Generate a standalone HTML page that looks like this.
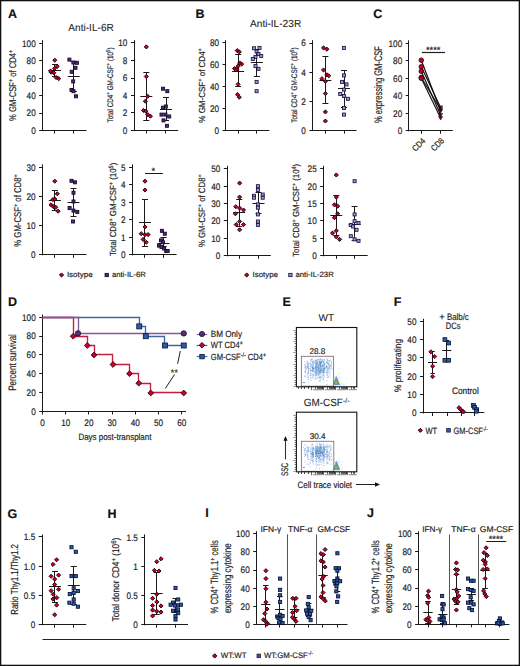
<!DOCTYPE html><html><head><meta charset="utf-8"><style>html,body{margin:0;padding:0;background:#fff;}svg{display:block;}</style></head><body><svg width="520" height="666" viewBox="0 0 520 666" text-rendering="geometricPrecision" font-family='"Liberation Sans", sans-serif'>
<style>text{stroke:#222;stroke-width:0.18px;paint-order:stroke;stroke-linejoin:round}</style>
<rect x="0" y="0" width="520" height="666" fill="#fff"/>
<rect x="0.65" y="0.65" width="518.7" height="664.7" fill="none" stroke="#111" stroke-width="1.3"/>
<text x="8.00" y="17.60" font-size="12.5" text-anchor="start" font-weight="bold" fill="#111">A</text>
<text x="195.50" y="17.60" font-size="12.5" text-anchor="start" font-weight="bold" fill="#111">B</text>
<text x="373.30" y="17.60" font-size="12.5" text-anchor="start" font-weight="bold" fill="#111">C</text>
<text x="8.00" y="306.00" font-size="12.5" text-anchor="start" font-weight="bold" fill="#111">D</text>
<text x="282.50" y="306.30" font-size="12.5" text-anchor="start" font-weight="bold" fill="#111">E</text>
<text x="393.70" y="306.30" font-size="12.5" text-anchor="start" font-weight="bold" fill="#111">F</text>
<text x="7.50" y="517.50" font-size="12.5" text-anchor="start" font-weight="bold" fill="#111">G</text>
<text x="107.50" y="517.50" font-size="12.5" text-anchor="start" font-weight="bold" fill="#111">H</text>
<text x="205.30" y="517.30" font-size="12.5" text-anchor="start" font-weight="bold" fill="#111">I</text>
<text x="367.00" y="517.30" font-size="12.5" text-anchor="start" font-weight="bold" fill="#111">J</text>
<text x="68.30" y="31.20" font-size="10.2" text-anchor="start" font-weight="normal" fill="#222" textLength="45.50" lengthAdjust="spacingAndGlyphs" style="stroke-width:0.08px">Anti-IL-6R</text>
<line x1="42.50" y1="40.20" x2="42.50" y2="131.00" stroke="#1a1a1a" stroke-width="1"/>
<line x1="42.00" y1="130.50" x2="86.50" y2="130.50" stroke="#1a1a1a" stroke-width="1"/>
<line x1="39.20" y1="130.50" x2="42.50" y2="130.50" stroke="#1a1a1a" stroke-width="1"/>
<text x="35.70" y="133.90" font-size="9.5" text-anchor="end" font-weight="normal" fill="#222" textLength="4.56" lengthAdjust="spacingAndGlyphs">0</text>
<line x1="39.20" y1="113.50" x2="42.50" y2="113.50" stroke="#1a1a1a" stroke-width="1"/>
<text x="35.70" y="116.44" font-size="9.5" text-anchor="end" font-weight="normal" fill="#222" textLength="9.12" lengthAdjust="spacingAndGlyphs">20</text>
<line x1="39.20" y1="95.50" x2="42.50" y2="95.50" stroke="#1a1a1a" stroke-width="1"/>
<text x="35.70" y="98.98" font-size="9.5" text-anchor="end" font-weight="normal" fill="#222" textLength="9.12" lengthAdjust="spacingAndGlyphs">40</text>
<line x1="39.20" y1="78.50" x2="42.50" y2="78.50" stroke="#1a1a1a" stroke-width="1"/>
<text x="35.70" y="81.52" font-size="9.5" text-anchor="end" font-weight="normal" fill="#222" textLength="9.12" lengthAdjust="spacingAndGlyphs">60</text>
<line x1="39.20" y1="60.50" x2="42.50" y2="60.50" stroke="#1a1a1a" stroke-width="1"/>
<text x="35.70" y="64.06" font-size="9.5" text-anchor="end" font-weight="normal" fill="#222" textLength="9.12" lengthAdjust="spacingAndGlyphs">80</text>
<line x1="39.20" y1="43.50" x2="42.50" y2="43.50" stroke="#1a1a1a" stroke-width="1"/>
<text x="35.70" y="46.60" font-size="9.5" text-anchor="end" font-weight="normal" fill="#222" textLength="13.68" lengthAdjust="spacingAndGlyphs">100</text>
<line x1="54.50" y1="130.50" x2="54.50" y2="133.50" stroke="#1a1a1a" stroke-width="1"/>
<line x1="73.50" y1="130.50" x2="73.50" y2="133.50" stroke="#1a1a1a" stroke-width="1"/>
<text transform="translate(15.60,85.40) rotate(-90)" x="0" y="0" font-size="9.8" text-anchor="middle" fill="#222" textLength="71.00" lengthAdjust="spacingAndGlyphs">% GM-CSF<tspan baseline-shift="42%" font-size="70%">+</tspan> of CD4<tspan baseline-shift="42%" font-size="70%">+</tspan></text>
<line x1="54.50" y1="64.90" x2="54.50" y2="76.80" stroke="#1a1a1a" stroke-width="1"/>
<line x1="52.00" y1="64.50" x2="58.00" y2="64.50" stroke="#1a1a1a" stroke-width="1"/>
<line x1="52.00" y1="76.50" x2="58.00" y2="76.50" stroke="#1a1a1a" stroke-width="1"/>
<line x1="49.00" y1="70.50" x2="61.00" y2="70.50" stroke="#1a1a1a" stroke-width="1"/>
<path d="M54.80 58.15L56.85 60.20L54.80 62.25L52.75 60.20Z" fill="#c8002e" stroke="#1a0006" stroke-width="0.95"/>
<path d="M57.20 64.35L59.25 66.40L57.20 68.45L55.15 66.40Z" fill="#c8002e" stroke="#1a0006" stroke-width="0.95"/>
<path d="M54.60 66.35L56.65 68.40L54.60 70.45L52.55 68.40Z" fill="#c8002e" stroke="#1a0006" stroke-width="0.95"/>
<path d="M51.20 70.15L53.25 72.20L51.20 74.25L49.15 72.20Z" fill="#c8002e" stroke="#1a0006" stroke-width="0.95"/>
<path d="M53.80 70.75L55.85 72.80L53.80 74.85L51.75 72.80Z" fill="#c8002e" stroke="#1a0006" stroke-width="0.95"/>
<path d="M56.10 75.45L58.15 77.50L56.10 79.55L54.05 77.50Z" fill="#c8002e" stroke="#1a0006" stroke-width="0.95"/>
<path d="M58.70 76.55L60.75 78.60L58.70 80.65L56.65 78.60Z" fill="#c8002e" stroke="#1a0006" stroke-width="0.95"/>
<path d="M50.50 68.95L52.55 71.00L50.50 73.05L48.45 71.00Z" fill="#c8002e" stroke="#1a0006" stroke-width="0.95"/>
<line x1="73.50" y1="61.50" x2="73.50" y2="91.20" stroke="#1a1a1a" stroke-width="1"/>
<line x1="70.75" y1="61.50" x2="76.75" y2="61.50" stroke="#1a1a1a" stroke-width="1"/>
<line x1="70.75" y1="91.50" x2="76.75" y2="91.50" stroke="#1a1a1a" stroke-width="1"/>
<line x1="67.75" y1="76.50" x2="79.75" y2="76.50" stroke="#1a1a1a" stroke-width="1"/>
<rect x="67.88" y="58.08" width="3.05" height="3.05" fill="#4e2a7e" stroke="#150822" stroke-width="0.85"/>
<rect x="71.88" y="60.98" width="3.05" height="3.05" fill="#4e2a7e" stroke="#150822" stroke-width="0.85"/>
<rect x="75.38" y="61.27" width="3.05" height="3.05" fill="#4e2a7e" stroke="#150822" stroke-width="0.85"/>
<rect x="73.97" y="66.27" width="3.05" height="3.05" fill="#4e2a7e" stroke="#150822" stroke-width="0.85"/>
<rect x="70.17" y="70.27" width="3.05" height="3.05" fill="#4e2a7e" stroke="#150822" stroke-width="0.85"/>
<rect x="71.67" y="79.88" width="3.05" height="3.05" fill="#4e2a7e" stroke="#150822" stroke-width="0.85"/>
<rect x="69.97" y="88.47" width="3.05" height="3.05" fill="#4e2a7e" stroke="#150822" stroke-width="0.85"/>
<rect x="71.97" y="89.67" width="3.05" height="3.05" fill="#4e2a7e" stroke="#150822" stroke-width="0.85"/>
<rect x="74.47" y="94.77" width="3.05" height="3.05" fill="#4e2a7e" stroke="#150822" stroke-width="0.85"/>
<line x1="134.50" y1="40.20" x2="134.50" y2="131.00" stroke="#1a1a1a" stroke-width="1"/>
<line x1="133.70" y1="130.50" x2="178.20" y2="130.50" stroke="#1a1a1a" stroke-width="1"/>
<line x1="130.90" y1="130.50" x2="134.20" y2="130.50" stroke="#1a1a1a" stroke-width="1"/>
<text x="127.40" y="133.90" font-size="9.5" text-anchor="end" font-weight="normal" fill="#222" textLength="4.56" lengthAdjust="spacingAndGlyphs">0</text>
<line x1="130.90" y1="112.50" x2="134.20" y2="112.50" stroke="#1a1a1a" stroke-width="1"/>
<text x="127.40" y="116.40" font-size="9.5" text-anchor="end" font-weight="normal" fill="#222" textLength="4.56" lengthAdjust="spacingAndGlyphs">2</text>
<line x1="130.90" y1="95.50" x2="134.20" y2="95.50" stroke="#1a1a1a" stroke-width="1"/>
<text x="127.40" y="98.90" font-size="9.5" text-anchor="end" font-weight="normal" fill="#222" textLength="4.56" lengthAdjust="spacingAndGlyphs">4</text>
<line x1="130.90" y1="78.50" x2="134.20" y2="78.50" stroke="#1a1a1a" stroke-width="1"/>
<text x="127.40" y="81.40" font-size="9.5" text-anchor="end" font-weight="normal" fill="#222" textLength="4.56" lengthAdjust="spacingAndGlyphs">6</text>
<line x1="130.90" y1="60.50" x2="134.20" y2="60.50" stroke="#1a1a1a" stroke-width="1"/>
<text x="127.40" y="63.90" font-size="9.5" text-anchor="end" font-weight="normal" fill="#222" textLength="4.56" lengthAdjust="spacingAndGlyphs">8</text>
<line x1="130.90" y1="42.50" x2="134.20" y2="42.50" stroke="#1a1a1a" stroke-width="1"/>
<text x="127.40" y="46.40" font-size="9.5" text-anchor="end" font-weight="normal" fill="#222" textLength="9.12" lengthAdjust="spacingAndGlyphs">10</text>
<line x1="146.50" y1="130.50" x2="146.50" y2="133.50" stroke="#1a1a1a" stroke-width="1"/>
<line x1="165.50" y1="130.50" x2="165.50" y2="133.50" stroke="#1a1a1a" stroke-width="1"/>
<text transform="translate(113.00,84.90) rotate(-90)" x="0" y="0" font-size="8.1" text-anchor="middle" fill="#222" textLength="75.00" lengthAdjust="spacingAndGlyphs">Total CD4<tspan baseline-shift="42%" font-size="70%">+</tspan> GM-CSF<tspan baseline-shift="42%" font-size="70%">+</tspan> (10<tspan baseline-shift="42%" font-size="70%">5</tspan>)</text>
<line x1="146.50" y1="72.30" x2="146.50" y2="120.00" stroke="#1a1a1a" stroke-width="1"/>
<line x1="143.30" y1="72.50" x2="149.30" y2="72.50" stroke="#1a1a1a" stroke-width="1"/>
<line x1="143.30" y1="120.50" x2="149.30" y2="120.50" stroke="#1a1a1a" stroke-width="1"/>
<line x1="140.30" y1="96.50" x2="152.30" y2="96.50" stroke="#1a1a1a" stroke-width="1"/>
<path d="M146.30 44.85L148.35 46.90L146.30 48.95L144.25 46.90Z" fill="#c8002e" stroke="#1a0006" stroke-width="0.95"/>
<path d="M146.30 74.45L148.35 76.50L146.30 78.55L144.25 76.50Z" fill="#c8002e" stroke="#1a0006" stroke-width="0.95"/>
<path d="M147.70 94.25L149.75 96.30L147.70 98.35L145.65 96.30Z" fill="#c8002e" stroke="#1a0006" stroke-width="0.95"/>
<path d="M145.40 99.15L147.45 101.20L145.40 103.25L143.35 101.20Z" fill="#c8002e" stroke="#1a0006" stroke-width="0.95"/>
<path d="M143.50 108.35L145.55 110.40L143.50 112.45L141.45 110.40Z" fill="#c8002e" stroke="#1a0006" stroke-width="0.95"/>
<path d="M145.80 109.15L147.85 111.20L145.80 113.25L143.75 111.20Z" fill="#c8002e" stroke="#1a0006" stroke-width="0.95"/>
<path d="M147.70 112.55L149.75 114.60L147.70 116.65L145.65 114.60Z" fill="#c8002e" stroke="#1a0006" stroke-width="0.95"/>
<path d="M150.40 114.15L152.45 116.20L150.40 118.25L148.35 116.20Z" fill="#c8002e" stroke="#1a0006" stroke-width="0.95"/>
<line x1="166.50" y1="97.30" x2="166.50" y2="120.40" stroke="#1a1a1a" stroke-width="1"/>
<line x1="163.00" y1="97.50" x2="169.00" y2="97.50" stroke="#1a1a1a" stroke-width="1"/>
<line x1="163.00" y1="120.50" x2="169.00" y2="120.50" stroke="#1a1a1a" stroke-width="1"/>
<line x1="160.00" y1="109.50" x2="172.00" y2="109.50" stroke="#1a1a1a" stroke-width="1"/>
<rect x="161.57" y="87.17" width="3.05" height="3.05" fill="#4e2a7e" stroke="#150822" stroke-width="0.85"/>
<rect x="165.78" y="89.67" width="3.05" height="3.05" fill="#4e2a7e" stroke="#150822" stroke-width="0.85"/>
<rect x="164.28" y="104.97" width="3.05" height="3.05" fill="#4e2a7e" stroke="#150822" stroke-width="0.85"/>
<rect x="161.57" y="106.17" width="3.05" height="3.05" fill="#4e2a7e" stroke="#150822" stroke-width="0.85"/>
<rect x="159.97" y="113.07" width="3.05" height="3.05" fill="#4e2a7e" stroke="#150822" stroke-width="0.85"/>
<rect x="163.88" y="113.07" width="3.05" height="3.05" fill="#4e2a7e" stroke="#150822" stroke-width="0.85"/>
<rect x="167.67" y="114.97" width="3.05" height="3.05" fill="#4e2a7e" stroke="#150822" stroke-width="0.85"/>
<rect x="161.97" y="118.88" width="3.05" height="3.05" fill="#4e2a7e" stroke="#150822" stroke-width="0.85"/>
<rect x="165.38" y="124.27" width="3.05" height="3.05" fill="#4e2a7e" stroke="#150822" stroke-width="0.85"/>
<line x1="42.50" y1="164.40" x2="42.50" y2="255.30" stroke="#1a1a1a" stroke-width="1"/>
<line x1="41.80" y1="254.50" x2="86.50" y2="254.50" stroke="#1a1a1a" stroke-width="1"/>
<line x1="39.00" y1="254.50" x2="42.30" y2="254.50" stroke="#1a1a1a" stroke-width="1"/>
<text x="35.50" y="258.20" font-size="9.5" text-anchor="end" font-weight="normal" fill="#222" textLength="4.56" lengthAdjust="spacingAndGlyphs">0</text>
<line x1="39.00" y1="225.50" x2="42.30" y2="225.50" stroke="#1a1a1a" stroke-width="1"/>
<text x="35.50" y="229.17" font-size="9.5" text-anchor="end" font-weight="normal" fill="#222" textLength="9.12" lengthAdjust="spacingAndGlyphs">10</text>
<line x1="39.00" y1="196.50" x2="42.30" y2="196.50" stroke="#1a1a1a" stroke-width="1"/>
<text x="35.50" y="200.13" font-size="9.5" text-anchor="end" font-weight="normal" fill="#222" textLength="9.12" lengthAdjust="spacingAndGlyphs">20</text>
<line x1="39.00" y1="167.50" x2="42.30" y2="167.50" stroke="#1a1a1a" stroke-width="1"/>
<text x="35.50" y="171.10" font-size="9.5" text-anchor="end" font-weight="normal" fill="#222" textLength="9.12" lengthAdjust="spacingAndGlyphs">30</text>
<line x1="54.50" y1="254.80" x2="54.50" y2="257.80" stroke="#1a1a1a" stroke-width="1"/>
<line x1="73.50" y1="254.80" x2="73.50" y2="257.80" stroke="#1a1a1a" stroke-width="1"/>
<text transform="translate(20.50,210.50) rotate(-90)" x="0" y="0" font-size="9.8" text-anchor="middle" fill="#222" textLength="72.50" lengthAdjust="spacingAndGlyphs">% GM-CSF<tspan baseline-shift="42%" font-size="70%">+</tspan> of CD8<tspan baseline-shift="42%" font-size="70%">+</tspan></text>
<line x1="54.50" y1="190.80" x2="54.50" y2="210.00" stroke="#1a1a1a" stroke-width="1"/>
<line x1="51.80" y1="190.50" x2="57.80" y2="190.50" stroke="#1a1a1a" stroke-width="1"/>
<line x1="51.80" y1="210.50" x2="57.80" y2="210.50" stroke="#1a1a1a" stroke-width="1"/>
<line x1="48.80" y1="200.50" x2="60.80" y2="200.50" stroke="#1a1a1a" stroke-width="1"/>
<path d="M54.80 179.15L56.85 181.20L54.80 183.25L52.75 181.20Z" fill="#c8002e" stroke="#1a0006" stroke-width="0.95"/>
<path d="M57.30 191.75L59.35 193.80L57.30 195.85L55.25 193.80Z" fill="#c8002e" stroke="#1a0006" stroke-width="0.95"/>
<path d="M52.90 197.55L54.95 199.60L52.90 201.65L50.85 199.60Z" fill="#c8002e" stroke="#1a0006" stroke-width="0.95"/>
<path d="M54.80 196.95L56.85 199.00L54.80 201.05L52.75 199.00Z" fill="#c8002e" stroke="#1a0006" stroke-width="0.95"/>
<path d="M51.00 202.75L53.05 204.80L51.00 206.85L48.95 204.80Z" fill="#c8002e" stroke="#1a0006" stroke-width="0.95"/>
<path d="M53.50 204.65L55.55 206.70L53.50 208.75L51.45 206.70Z" fill="#c8002e" stroke="#1a0006" stroke-width="0.95"/>
<path d="M55.80 205.25L57.85 207.30L55.80 209.35L53.75 207.30Z" fill="#c8002e" stroke="#1a0006" stroke-width="0.95"/>
<path d="M58.10 209.15L60.15 211.20L58.10 213.25L56.05 211.20Z" fill="#c8002e" stroke="#1a0006" stroke-width="0.95"/>
<line x1="73.50" y1="188.00" x2="73.50" y2="216.30" stroke="#1a1a1a" stroke-width="1"/>
<line x1="70.50" y1="188.50" x2="76.50" y2="188.50" stroke="#1a1a1a" stroke-width="1"/>
<line x1="70.50" y1="216.50" x2="76.50" y2="216.50" stroke="#1a1a1a" stroke-width="1"/>
<line x1="67.50" y1="202.50" x2="79.50" y2="202.50" stroke="#1a1a1a" stroke-width="1"/>
<rect x="69.97" y="179.28" width="3.05" height="3.05" fill="#4e2a7e" stroke="#150822" stroke-width="0.85"/>
<rect x="73.47" y="180.78" width="3.05" height="3.05" fill="#4e2a7e" stroke="#150822" stroke-width="0.85"/>
<rect x="71.97" y="191.17" width="3.05" height="3.05" fill="#4e2a7e" stroke="#150822" stroke-width="0.85"/>
<rect x="71.97" y="199.97" width="3.05" height="3.05" fill="#4e2a7e" stroke="#150822" stroke-width="0.85"/>
<rect x="68.07" y="206.57" width="3.05" height="3.05" fill="#4e2a7e" stroke="#150822" stroke-width="0.85"/>
<rect x="71.97" y="209.07" width="3.05" height="3.05" fill="#4e2a7e" stroke="#150822" stroke-width="0.85"/>
<rect x="75.77" y="210.38" width="3.05" height="3.05" fill="#4e2a7e" stroke="#150822" stroke-width="0.85"/>
<rect x="71.57" y="219.97" width="3.05" height="3.05" fill="#4e2a7e" stroke="#150822" stroke-width="0.85"/>
<line x1="132.50" y1="164.40" x2="132.50" y2="255.30" stroke="#1a1a1a" stroke-width="1"/>
<line x1="131.90" y1="254.50" x2="176.60" y2="254.50" stroke="#1a1a1a" stroke-width="1"/>
<line x1="129.10" y1="254.50" x2="132.40" y2="254.50" stroke="#1a1a1a" stroke-width="1"/>
<text x="125.60" y="258.20" font-size="9.5" text-anchor="end" font-weight="normal" fill="#222" textLength="4.56" lengthAdjust="spacingAndGlyphs">0</text>
<line x1="129.10" y1="237.50" x2="132.40" y2="237.50" stroke="#1a1a1a" stroke-width="1"/>
<text x="125.60" y="240.70" font-size="9.5" text-anchor="end" font-weight="normal" fill="#222" textLength="4.56" lengthAdjust="spacingAndGlyphs">1</text>
<line x1="129.10" y1="219.50" x2="132.40" y2="219.50" stroke="#1a1a1a" stroke-width="1"/>
<text x="125.60" y="223.20" font-size="9.5" text-anchor="end" font-weight="normal" fill="#222" textLength="4.56" lengthAdjust="spacingAndGlyphs">2</text>
<line x1="129.10" y1="202.50" x2="132.40" y2="202.50" stroke="#1a1a1a" stroke-width="1"/>
<text x="125.60" y="205.70" font-size="9.5" text-anchor="end" font-weight="normal" fill="#222" textLength="4.56" lengthAdjust="spacingAndGlyphs">3</text>
<line x1="129.10" y1="184.50" x2="132.40" y2="184.50" stroke="#1a1a1a" stroke-width="1"/>
<text x="125.60" y="188.20" font-size="9.5" text-anchor="end" font-weight="normal" fill="#222" textLength="4.56" lengthAdjust="spacingAndGlyphs">4</text>
<line x1="129.10" y1="167.50" x2="132.40" y2="167.50" stroke="#1a1a1a" stroke-width="1"/>
<text x="125.60" y="170.70" font-size="9.5" text-anchor="end" font-weight="normal" fill="#222" textLength="4.56" lengthAdjust="spacingAndGlyphs">5</text>
<line x1="144.50" y1="254.80" x2="144.50" y2="257.80" stroke="#1a1a1a" stroke-width="1"/>
<line x1="163.50" y1="254.80" x2="163.50" y2="257.80" stroke="#1a1a1a" stroke-width="1"/>
<text transform="translate(115.70,209.40) rotate(-90)" x="0" y="0" font-size="8.8" text-anchor="middle" fill="#222" textLength="93.40" lengthAdjust="spacingAndGlyphs">Total CD8<tspan baseline-shift="42%" font-size="70%">+</tspan> GM-CSF<tspan baseline-shift="42%" font-size="70%">+</tspan> (10<tspan baseline-shift="42%" font-size="70%">5</tspan>)</text>
<line x1="145.00" y1="173.50" x2="162.90" y2="173.50" stroke="#1a1a1a" stroke-width="1"/>
<text x="153.30" y="174.10" font-size="9.2" text-anchor="middle" font-weight="normal" fill="#222">*</text>
<line x1="144.50" y1="199.60" x2="144.50" y2="246.00" stroke="#1a1a1a" stroke-width="1"/>
<line x1="142.00" y1="199.50" x2="148.00" y2="199.50" stroke="#1a1a1a" stroke-width="1"/>
<line x1="142.00" y1="246.50" x2="148.00" y2="246.50" stroke="#1a1a1a" stroke-width="1"/>
<line x1="139.00" y1="222.50" x2="151.00" y2="222.50" stroke="#1a1a1a" stroke-width="1"/>
<path d="M145.00 179.15L147.05 181.20L145.00 183.25L142.95 181.20Z" fill="#c8002e" stroke="#1a0006" stroke-width="0.95"/>
<path d="M145.00 187.95L147.05 190.00L145.00 192.05L142.95 190.00Z" fill="#c8002e" stroke="#1a0006" stroke-width="0.95"/>
<path d="M145.00 224.85L147.05 226.90L145.00 228.95L142.95 226.90Z" fill="#c8002e" stroke="#1a0006" stroke-width="0.95"/>
<path d="M141.20 231.65L143.25 233.70L141.20 235.75L139.15 233.70Z" fill="#c8002e" stroke="#1a0006" stroke-width="0.95"/>
<path d="M145.00 232.55L147.05 234.60L145.00 236.65L142.95 234.60Z" fill="#c8002e" stroke="#1a0006" stroke-width="0.95"/>
<path d="M148.10 232.55L150.15 234.60L148.10 236.65L146.05 234.60Z" fill="#c8002e" stroke="#1a0006" stroke-width="0.95"/>
<path d="M143.10 237.35L145.15 239.40L143.10 241.45L141.05 239.40Z" fill="#c8002e" stroke="#1a0006" stroke-width="0.95"/>
<path d="M146.20 240.25L148.25 242.30L146.20 244.35L144.15 242.30Z" fill="#c8002e" stroke="#1a0006" stroke-width="0.95"/>
<line x1="163.50" y1="237.50" x2="163.50" y2="247.00" stroke="#1a1a1a" stroke-width="1"/>
<line x1="160.50" y1="237.50" x2="166.50" y2="237.50" stroke="#1a1a1a" stroke-width="1"/>
<line x1="160.50" y1="246.50" x2="166.50" y2="246.50" stroke="#1a1a1a" stroke-width="1"/>
<line x1="157.50" y1="243.50" x2="169.50" y2="243.50" stroke="#1a1a1a" stroke-width="1"/>
<rect x="160.38" y="229.28" width="3.05" height="3.05" fill="#4e2a7e" stroke="#150822" stroke-width="0.85"/>
<rect x="163.28" y="232.17" width="3.05" height="3.05" fill="#4e2a7e" stroke="#150822" stroke-width="0.85"/>
<rect x="159.47" y="238.88" width="3.05" height="3.05" fill="#4e2a7e" stroke="#150822" stroke-width="0.85"/>
<rect x="161.38" y="240.78" width="3.05" height="3.05" fill="#4e2a7e" stroke="#150822" stroke-width="0.85"/>
<rect x="157.47" y="244.07" width="3.05" height="3.05" fill="#4e2a7e" stroke="#150822" stroke-width="0.85"/>
<rect x="159.97" y="245.57" width="3.05" height="3.05" fill="#4e2a7e" stroke="#150822" stroke-width="0.85"/>
<rect x="162.67" y="246.97" width="3.05" height="3.05" fill="#4e2a7e" stroke="#150822" stroke-width="0.85"/>
<rect x="164.67" y="249.47" width="3.05" height="3.05" fill="#4e2a7e" stroke="#150822" stroke-width="0.85"/>
<rect x="166.17" y="249.47" width="3.05" height="3.05" fill="#4e2a7e" stroke="#150822" stroke-width="0.85"/>
<path d="M61.50 272.90L63.60 275.00L61.50 277.10L59.40 275.00Z" fill="#c8002e" stroke="#1a0006" stroke-width="0.95"/>
<text x="66.90" y="277.20" font-size="7.6" text-anchor="start" font-weight="normal" fill="#222" textLength="25.80" lengthAdjust="spacingAndGlyphs">Isotype</text>
<rect x="105.05" y="273.35" width="3.30" height="3.30" fill="#4e2a7e" stroke="#150822" stroke-width="0.85"/>
<text x="111.90" y="277.20" font-size="7.6" text-anchor="start" font-weight="normal" fill="#222" textLength="33.90" lengthAdjust="spacingAndGlyphs">anti-IL-6R</text>
<text x="250.00" y="26.60" font-size="10.2" text-anchor="start" font-weight="normal" fill="#222" textLength="51.20" lengthAdjust="spacingAndGlyphs" style="stroke-width:0.08px">Anti-IL-23R</text>
<line x1="225.50" y1="40.20" x2="225.50" y2="131.10" stroke="#1a1a1a" stroke-width="1"/>
<line x1="225.30" y1="130.50" x2="269.40" y2="130.50" stroke="#1a1a1a" stroke-width="1"/>
<line x1="222.50" y1="130.50" x2="225.80" y2="130.50" stroke="#1a1a1a" stroke-width="1"/>
<text x="219.00" y="134.00" font-size="9.5" text-anchor="end" font-weight="normal" fill="#222" textLength="4.56" lengthAdjust="spacingAndGlyphs">0</text>
<line x1="222.50" y1="108.50" x2="225.80" y2="108.50" stroke="#1a1a1a" stroke-width="1"/>
<text x="219.00" y="112.10" font-size="9.5" text-anchor="end" font-weight="normal" fill="#222" textLength="9.12" lengthAdjust="spacingAndGlyphs">20</text>
<line x1="222.50" y1="86.50" x2="225.80" y2="86.50" stroke="#1a1a1a" stroke-width="1"/>
<text x="219.00" y="90.20" font-size="9.5" text-anchor="end" font-weight="normal" fill="#222" textLength="9.12" lengthAdjust="spacingAndGlyphs">40</text>
<line x1="222.50" y1="64.50" x2="225.80" y2="64.50" stroke="#1a1a1a" stroke-width="1"/>
<text x="219.00" y="68.30" font-size="9.5" text-anchor="end" font-weight="normal" fill="#222" textLength="9.12" lengthAdjust="spacingAndGlyphs">60</text>
<line x1="222.50" y1="42.50" x2="225.80" y2="42.50" stroke="#1a1a1a" stroke-width="1"/>
<text x="219.00" y="46.40" font-size="9.5" text-anchor="end" font-weight="normal" fill="#222" textLength="9.12" lengthAdjust="spacingAndGlyphs">80</text>
<line x1="238.50" y1="130.60" x2="238.50" y2="133.60" stroke="#1a1a1a" stroke-width="1"/>
<line x1="256.50" y1="130.60" x2="256.50" y2="133.60" stroke="#1a1a1a" stroke-width="1"/>
<text transform="translate(205.00,85.40) rotate(-90)" x="0" y="0" font-size="8.8" text-anchor="middle" fill="#222" textLength="74.60" lengthAdjust="spacingAndGlyphs">% GM-CSF<tspan baseline-shift="42%" font-size="70%">+</tspan> of CD4<tspan baseline-shift="42%" font-size="70%">+</tspan></text>
<line x1="238.50" y1="54.60" x2="238.50" y2="86.80" stroke="#1a1a1a" stroke-width="1"/>
<line x1="235.10" y1="54.50" x2="241.10" y2="54.50" stroke="#1a1a1a" stroke-width="1"/>
<line x1="235.10" y1="86.50" x2="241.10" y2="86.50" stroke="#1a1a1a" stroke-width="1"/>
<line x1="232.10" y1="71.50" x2="244.10" y2="71.50" stroke="#1a1a1a" stroke-width="1"/>
<path d="M237.20 48.55L239.25 50.60L237.20 52.65L235.15 50.60Z" fill="#c8002e" stroke="#1a0006" stroke-width="0.95"/>
<path d="M239.30 49.85L241.35 51.90L239.30 53.95L237.25 51.90Z" fill="#c8002e" stroke="#1a0006" stroke-width="0.95"/>
<path d="M239.70 60.95L241.75 63.00L239.70 65.05L237.65 63.00Z" fill="#c8002e" stroke="#1a0006" stroke-width="0.95"/>
<path d="M241.70 62.05L243.75 64.10L241.70 66.15L239.65 64.10Z" fill="#c8002e" stroke="#1a0006" stroke-width="0.95"/>
<path d="M238.10 64.05L240.15 66.10L238.10 68.15L236.05 66.10Z" fill="#c8002e" stroke="#1a0006" stroke-width="0.95"/>
<path d="M234.50 66.55L236.55 68.60L234.50 70.65L232.45 68.60Z" fill="#c8002e" stroke="#1a0006" stroke-width="0.95"/>
<path d="M236.60 67.25L238.65 69.30L236.60 71.35L234.55 69.30Z" fill="#c8002e" stroke="#1a0006" stroke-width="0.95"/>
<path d="M238.10 82.25L240.15 84.30L238.10 86.35L236.05 84.30Z" fill="#c8002e" stroke="#1a0006" stroke-width="0.95"/>
<path d="M237.50 92.45L239.55 94.50L237.50 96.55L235.45 94.50Z" fill="#c8002e" stroke="#1a0006" stroke-width="0.95"/>
<path d="M239.30 95.15L241.35 97.20L239.30 99.25L237.25 97.20Z" fill="#c8002e" stroke="#1a0006" stroke-width="0.95"/>
<line x1="256.50" y1="49.50" x2="256.50" y2="76.00" stroke="#1a1a1a" stroke-width="1"/>
<line x1="253.90" y1="49.50" x2="259.90" y2="49.50" stroke="#1a1a1a" stroke-width="1"/>
<line x1="253.90" y1="76.50" x2="259.90" y2="76.50" stroke="#1a1a1a" stroke-width="1"/>
<line x1="250.90" y1="62.50" x2="262.90" y2="62.50" stroke="#1a1a1a" stroke-width="1"/>
<rect x="252.57" y="46.77" width="3.05" height="3.05" fill="#9d95e0" stroke="#14143a" stroke-width="0.85"/>
<rect x="257.98" y="46.38" width="3.05" height="3.05" fill="#9d95e0" stroke="#14143a" stroke-width="0.85"/>
<rect x="255.08" y="49.98" width="3.05" height="3.05" fill="#9d95e0" stroke="#14143a" stroke-width="0.85"/>
<rect x="256.98" y="52.48" width="3.05" height="3.05" fill="#9d95e0" stroke="#14143a" stroke-width="0.85"/>
<rect x="259.68" y="54.48" width="3.05" height="3.05" fill="#9d95e0" stroke="#14143a" stroke-width="0.85"/>
<rect x="253.97" y="55.38" width="3.05" height="3.05" fill="#9d95e0" stroke="#14143a" stroke-width="0.85"/>
<rect x="251.28" y="57.38" width="3.05" height="3.05" fill="#9d95e0" stroke="#14143a" stroke-width="0.85"/>
<rect x="253.97" y="64.57" width="3.05" height="3.05" fill="#9d95e0" stroke="#14143a" stroke-width="0.85"/>
<rect x="256.98" y="67.27" width="3.05" height="3.05" fill="#9d95e0" stroke="#14143a" stroke-width="0.85"/>
<rect x="255.08" y="80.38" width="3.05" height="3.05" fill="#9d95e0" stroke="#14143a" stroke-width="0.85"/>
<rect x="255.08" y="89.67" width="3.05" height="3.05" fill="#9d95e0" stroke="#14143a" stroke-width="0.85"/>
<line x1="312.50" y1="40.20" x2="312.50" y2="131.10" stroke="#1a1a1a" stroke-width="1"/>
<line x1="312.20" y1="130.50" x2="356.50" y2="130.50" stroke="#1a1a1a" stroke-width="1"/>
<line x1="309.40" y1="130.50" x2="312.70" y2="130.50" stroke="#1a1a1a" stroke-width="1"/>
<text x="305.90" y="134.00" font-size="9.5" text-anchor="end" font-weight="normal" fill="#222" textLength="4.56" lengthAdjust="spacingAndGlyphs">0</text>
<line x1="309.40" y1="101.50" x2="312.70" y2="101.50" stroke="#1a1a1a" stroke-width="1"/>
<text x="305.90" y="104.80" font-size="9.5" text-anchor="end" font-weight="normal" fill="#222" textLength="4.56" lengthAdjust="spacingAndGlyphs">2</text>
<line x1="309.40" y1="72.50" x2="312.70" y2="72.50" stroke="#1a1a1a" stroke-width="1"/>
<text x="305.90" y="75.60" font-size="9.5" text-anchor="end" font-weight="normal" fill="#222" textLength="4.56" lengthAdjust="spacingAndGlyphs">4</text>
<line x1="309.40" y1="43.50" x2="312.70" y2="43.50" stroke="#1a1a1a" stroke-width="1"/>
<text x="305.90" y="46.40" font-size="9.5" text-anchor="end" font-weight="normal" fill="#222" textLength="4.56" lengthAdjust="spacingAndGlyphs">6</text>
<line x1="325.50" y1="130.60" x2="325.50" y2="133.60" stroke="#1a1a1a" stroke-width="1"/>
<line x1="344.50" y1="130.60" x2="344.50" y2="133.60" stroke="#1a1a1a" stroke-width="1"/>
<text transform="translate(296.80,85.00) rotate(-90)" x="0" y="0" font-size="8.1" text-anchor="middle" fill="#222" textLength="75.30" lengthAdjust="spacingAndGlyphs">Total CD4<tspan baseline-shift="42%" font-size="70%">+</tspan> GM-CSF<tspan baseline-shift="42%" font-size="70%">+</tspan> (10<tspan baseline-shift="42%" font-size="70%">5</tspan>)</text>
<line x1="325.50" y1="56.50" x2="325.50" y2="103.70" stroke="#1a1a1a" stroke-width="1"/>
<line x1="322.40" y1="56.50" x2="328.40" y2="56.50" stroke="#1a1a1a" stroke-width="1"/>
<line x1="322.40" y1="103.50" x2="328.40" y2="103.50" stroke="#1a1a1a" stroke-width="1"/>
<line x1="319.40" y1="80.50" x2="331.40" y2="80.50" stroke="#1a1a1a" stroke-width="1"/>
<path d="M323.50 45.85L325.55 47.90L323.50 49.95L321.45 47.90Z" fill="#c8002e" stroke="#1a0006" stroke-width="0.95"/>
<path d="M326.90 47.15L328.95 49.20L326.90 51.25L324.85 49.20Z" fill="#c8002e" stroke="#1a0006" stroke-width="0.95"/>
<path d="M323.50 67.95L325.55 70.00L323.50 72.05L321.45 70.00Z" fill="#c8002e" stroke="#1a0006" stroke-width="0.95"/>
<path d="M326.90 72.75L328.95 74.80L326.90 76.85L324.85 74.80Z" fill="#c8002e" stroke="#1a0006" stroke-width="0.95"/>
<path d="M328.70 73.75L330.75 75.80L328.70 77.85L326.65 75.80Z" fill="#c8002e" stroke="#1a0006" stroke-width="0.95"/>
<path d="M321.90 76.65L323.95 78.70L321.90 80.75L319.85 78.70Z" fill="#c8002e" stroke="#1a0006" stroke-width="0.95"/>
<path d="M325.40 79.15L327.45 81.20L325.40 83.25L323.35 81.20Z" fill="#c8002e" stroke="#1a0006" stroke-width="0.95"/>
<path d="M325.40 91.45L327.45 93.50L325.40 95.55L323.35 93.50Z" fill="#c8002e" stroke="#1a0006" stroke-width="0.95"/>
<path d="M325.40 109.85L327.45 111.90L325.40 113.95L323.35 111.90Z" fill="#c8002e" stroke="#1a0006" stroke-width="0.95"/>
<path d="M325.40 118.95L327.45 121.00L325.40 123.05L323.35 121.00Z" fill="#c8002e" stroke="#1a0006" stroke-width="0.95"/>
<line x1="344.50" y1="70.40" x2="344.50" y2="107.50" stroke="#1a1a1a" stroke-width="1"/>
<line x1="341.00" y1="70.50" x2="347.00" y2="70.50" stroke="#1a1a1a" stroke-width="1"/>
<line x1="341.00" y1="107.50" x2="347.00" y2="107.50" stroke="#1a1a1a" stroke-width="1"/>
<line x1="338.00" y1="88.50" x2="350.00" y2="88.50" stroke="#1a1a1a" stroke-width="1"/>
<rect x="342.48" y="46.38" width="3.05" height="3.05" fill="#9d95e0" stroke="#14143a" stroke-width="0.85"/>
<rect x="342.48" y="73.88" width="3.05" height="3.05" fill="#9d95e0" stroke="#14143a" stroke-width="0.85"/>
<rect x="340.58" y="80.38" width="3.05" height="3.05" fill="#9d95e0" stroke="#14143a" stroke-width="0.85"/>
<rect x="344.98" y="82.88" width="3.05" height="3.05" fill="#9d95e0" stroke="#14143a" stroke-width="0.85"/>
<rect x="342.48" y="88.07" width="3.05" height="3.05" fill="#9d95e0" stroke="#14143a" stroke-width="0.85"/>
<rect x="338.68" y="92.47" width="3.05" height="3.05" fill="#9d95e0" stroke="#14143a" stroke-width="0.85"/>
<rect x="342.48" y="94.47" width="3.05" height="3.05" fill="#9d95e0" stroke="#14143a" stroke-width="0.85"/>
<rect x="346.38" y="97.27" width="3.05" height="3.05" fill="#9d95e0" stroke="#14143a" stroke-width="0.85"/>
<rect x="342.48" y="106.57" width="3.05" height="3.05" fill="#9d95e0" stroke="#14143a" stroke-width="0.85"/>
<rect x="342.48" y="113.07" width="3.05" height="3.05" fill="#9d95e0" stroke="#14143a" stroke-width="0.85"/>
<line x1="227.50" y1="165.80" x2="227.50" y2="256.30" stroke="#1a1a1a" stroke-width="1"/>
<line x1="226.60" y1="255.50" x2="270.80" y2="255.50" stroke="#1a1a1a" stroke-width="1"/>
<line x1="223.80" y1="255.50" x2="227.10" y2="255.50" stroke="#1a1a1a" stroke-width="1"/>
<text x="220.30" y="259.20" font-size="9.5" text-anchor="end" font-weight="normal" fill="#222" textLength="4.56" lengthAdjust="spacingAndGlyphs">0</text>
<line x1="223.80" y1="238.50" x2="227.10" y2="238.50" stroke="#1a1a1a" stroke-width="1"/>
<text x="220.30" y="241.78" font-size="9.5" text-anchor="end" font-weight="normal" fill="#222" textLength="9.12" lengthAdjust="spacingAndGlyphs">10</text>
<line x1="223.80" y1="220.50" x2="227.10" y2="220.50" stroke="#1a1a1a" stroke-width="1"/>
<text x="220.30" y="224.36" font-size="9.5" text-anchor="end" font-weight="normal" fill="#222" textLength="9.12" lengthAdjust="spacingAndGlyphs">20</text>
<line x1="223.80" y1="203.50" x2="227.10" y2="203.50" stroke="#1a1a1a" stroke-width="1"/>
<text x="220.30" y="206.94" font-size="9.5" text-anchor="end" font-weight="normal" fill="#222" textLength="9.12" lengthAdjust="spacingAndGlyphs">30</text>
<line x1="223.80" y1="186.50" x2="227.10" y2="186.50" stroke="#1a1a1a" stroke-width="1"/>
<text x="220.30" y="189.52" font-size="9.5" text-anchor="end" font-weight="normal" fill="#222" textLength="9.12" lengthAdjust="spacingAndGlyphs">40</text>
<line x1="223.80" y1="168.50" x2="227.10" y2="168.50" stroke="#1a1a1a" stroke-width="1"/>
<text x="220.30" y="172.10" font-size="9.5" text-anchor="end" font-weight="normal" fill="#222" textLength="9.12" lengthAdjust="spacingAndGlyphs">50</text>
<line x1="239.50" y1="255.80" x2="239.50" y2="258.80" stroke="#1a1a1a" stroke-width="1"/>
<line x1="258.50" y1="255.80" x2="258.50" y2="258.80" stroke="#1a1a1a" stroke-width="1"/>
<text transform="translate(205.00,210.70) rotate(-90)" x="0" y="0" font-size="9.2" text-anchor="middle" fill="#222" textLength="72.80" lengthAdjust="spacingAndGlyphs">% GM-CSF<tspan baseline-shift="42%" font-size="70%">+</tspan> of CD8<tspan baseline-shift="42%" font-size="70%">+</tspan></text>
<line x1="239.50" y1="199.60" x2="239.50" y2="226.00" stroke="#1a1a1a" stroke-width="1"/>
<line x1="236.20" y1="199.50" x2="242.20" y2="199.50" stroke="#1a1a1a" stroke-width="1"/>
<line x1="236.20" y1="226.50" x2="242.20" y2="226.50" stroke="#1a1a1a" stroke-width="1"/>
<line x1="233.20" y1="212.50" x2="245.20" y2="212.50" stroke="#1a1a1a" stroke-width="1"/>
<path d="M239.60 181.05L241.65 183.10L239.60 185.15L237.55 183.10Z" fill="#c8002e" stroke="#1a0006" stroke-width="0.95"/>
<path d="M239.60 195.05L241.65 197.10L239.60 199.15L237.55 197.10Z" fill="#c8002e" stroke="#1a0006" stroke-width="0.95"/>
<path d="M235.80 204.65L237.85 206.70L235.80 208.75L233.75 206.70Z" fill="#c8002e" stroke="#1a0006" stroke-width="0.95"/>
<path d="M239.60 206.05L241.65 208.10L239.60 210.15L237.55 208.10Z" fill="#c8002e" stroke="#1a0006" stroke-width="0.95"/>
<path d="M243.50 207.95L245.55 210.00L243.50 212.05L241.45 210.00Z" fill="#c8002e" stroke="#1a0006" stroke-width="0.95"/>
<path d="M235.40 211.75L237.45 213.80L235.40 215.85L233.35 213.80Z" fill="#c8002e" stroke="#1a0006" stroke-width="0.95"/>
<path d="M239.60 219.45L241.65 221.50L239.60 223.55L237.55 221.50Z" fill="#c8002e" stroke="#1a0006" stroke-width="0.95"/>
<path d="M236.20 222.55L238.25 224.60L236.20 226.65L234.15 224.60Z" fill="#c8002e" stroke="#1a0006" stroke-width="0.95"/>
<path d="M243.50 222.55L245.55 224.60L243.50 226.65L241.45 224.60Z" fill="#c8002e" stroke="#1a0006" stroke-width="0.95"/>
<path d="M239.60 227.75L241.65 229.80L239.60 231.85L237.55 229.80Z" fill="#c8002e" stroke="#1a0006" stroke-width="0.95"/>
<line x1="258.50" y1="192.00" x2="258.50" y2="213.50" stroke="#1a1a1a" stroke-width="1"/>
<line x1="255.50" y1="192.50" x2="261.50" y2="192.50" stroke="#1a1a1a" stroke-width="1"/>
<line x1="255.50" y1="213.50" x2="261.50" y2="213.50" stroke="#1a1a1a" stroke-width="1"/>
<line x1="252.50" y1="203.50" x2="264.50" y2="203.50" stroke="#1a1a1a" stroke-width="1"/>
<rect x="256.38" y="184.67" width="3.05" height="3.05" fill="#9d95e0" stroke="#14143a" stroke-width="0.85"/>
<rect x="256.38" y="188.47" width="3.05" height="3.05" fill="#9d95e0" stroke="#14143a" stroke-width="0.85"/>
<rect x="252.47" y="194.28" width="3.05" height="3.05" fill="#9d95e0" stroke="#14143a" stroke-width="0.85"/>
<rect x="261.18" y="193.07" width="3.05" height="3.05" fill="#9d95e0" stroke="#14143a" stroke-width="0.85"/>
<rect x="252.47" y="196.17" width="3.05" height="3.05" fill="#9d95e0" stroke="#14143a" stroke-width="0.85"/>
<rect x="261.18" y="196.17" width="3.05" height="3.05" fill="#9d95e0" stroke="#14143a" stroke-width="0.85"/>
<rect x="256.38" y="202.88" width="3.05" height="3.05" fill="#9d95e0" stroke="#14143a" stroke-width="0.85"/>
<rect x="256.38" y="206.17" width="3.05" height="3.05" fill="#9d95e0" stroke="#14143a" stroke-width="0.85"/>
<rect x="256.38" y="212.88" width="3.05" height="3.05" fill="#9d95e0" stroke="#14143a" stroke-width="0.85"/>
<rect x="256.38" y="219.97" width="3.05" height="3.05" fill="#9d95e0" stroke="#14143a" stroke-width="0.85"/>
<rect x="256.38" y="223.47" width="3.05" height="3.05" fill="#9d95e0" stroke="#14143a" stroke-width="0.85"/>
<line x1="323.50" y1="165.80" x2="323.50" y2="256.30" stroke="#1a1a1a" stroke-width="1"/>
<line x1="323.00" y1="255.50" x2="367.70" y2="255.50" stroke="#1a1a1a" stroke-width="1"/>
<line x1="320.20" y1="255.50" x2="323.50" y2="255.50" stroke="#1a1a1a" stroke-width="1"/>
<text x="316.70" y="259.20" font-size="9.5" text-anchor="end" font-weight="normal" fill="#222" textLength="4.56" lengthAdjust="spacingAndGlyphs">0</text>
<line x1="320.20" y1="238.50" x2="323.50" y2="238.50" stroke="#1a1a1a" stroke-width="1"/>
<text x="316.70" y="241.78" font-size="9.5" text-anchor="end" font-weight="normal" fill="#222" textLength="4.56" lengthAdjust="spacingAndGlyphs">5</text>
<line x1="320.20" y1="220.50" x2="323.50" y2="220.50" stroke="#1a1a1a" stroke-width="1"/>
<text x="316.70" y="224.36" font-size="9.5" text-anchor="end" font-weight="normal" fill="#222" textLength="9.12" lengthAdjust="spacingAndGlyphs">10</text>
<line x1="320.20" y1="203.50" x2="323.50" y2="203.50" stroke="#1a1a1a" stroke-width="1"/>
<text x="316.70" y="206.94" font-size="9.5" text-anchor="end" font-weight="normal" fill="#222" textLength="9.12" lengthAdjust="spacingAndGlyphs">15</text>
<line x1="320.20" y1="186.50" x2="323.50" y2="186.50" stroke="#1a1a1a" stroke-width="1"/>
<text x="316.70" y="189.52" font-size="9.5" text-anchor="end" font-weight="normal" fill="#222" textLength="9.12" lengthAdjust="spacingAndGlyphs">20</text>
<line x1="320.20" y1="168.50" x2="323.50" y2="168.50" stroke="#1a1a1a" stroke-width="1"/>
<text x="316.70" y="172.10" font-size="9.5" text-anchor="end" font-weight="normal" fill="#222" textLength="9.12" lengthAdjust="spacingAndGlyphs">25</text>
<line x1="336.50" y1="255.80" x2="336.50" y2="258.80" stroke="#1a1a1a" stroke-width="1"/>
<line x1="354.50" y1="255.80" x2="354.50" y2="258.80" stroke="#1a1a1a" stroke-width="1"/>
<text transform="translate(299.30,210.30) rotate(-90)" x="0" y="0" font-size="8.8" text-anchor="middle" fill="#222" textLength="93.00" lengthAdjust="spacingAndGlyphs">Total CD8<tspan baseline-shift="42%" font-size="70%">+</tspan> GM-CSF<tspan baseline-shift="42%" font-size="70%">+</tspan> (10<tspan baseline-shift="42%" font-size="70%">4</tspan>)</text>
<line x1="336.50" y1="195.20" x2="336.50" y2="235.60" stroke="#1a1a1a" stroke-width="1"/>
<line x1="333.30" y1="195.50" x2="339.30" y2="195.50" stroke="#1a1a1a" stroke-width="1"/>
<line x1="333.30" y1="235.50" x2="339.30" y2="235.50" stroke="#1a1a1a" stroke-width="1"/>
<line x1="330.30" y1="215.50" x2="342.30" y2="215.50" stroke="#1a1a1a" stroke-width="1"/>
<path d="M336.30 172.95L338.35 175.00L336.30 177.05L334.25 175.00Z" fill="#c8002e" stroke="#1a0006" stroke-width="0.95"/>
<path d="M336.30 195.05L338.35 197.10L336.30 199.15L334.25 197.10Z" fill="#c8002e" stroke="#1a0006" stroke-width="0.95"/>
<path d="M334.40 202.75L336.45 204.80L334.40 206.85L332.35 204.80Z" fill="#c8002e" stroke="#1a0006" stroke-width="0.95"/>
<path d="M337.70 204.15L339.75 206.20L337.70 208.25L335.65 206.20Z" fill="#c8002e" stroke="#1a0006" stroke-width="0.95"/>
<path d="M337.70 211.75L339.75 213.80L337.70 215.85L335.65 213.80Z" fill="#c8002e" stroke="#1a0006" stroke-width="0.95"/>
<path d="M334.40 215.65L336.45 217.70L334.40 219.75L332.35 217.70Z" fill="#c8002e" stroke="#1a0006" stroke-width="0.95"/>
<path d="M336.30 228.75L338.35 230.80L336.30 232.85L334.25 230.80Z" fill="#c8002e" stroke="#1a0006" stroke-width="0.95"/>
<path d="M332.50 231.05L334.55 233.10L332.50 235.15L330.45 233.10Z" fill="#c8002e" stroke="#1a0006" stroke-width="0.95"/>
<path d="M336.30 234.85L338.35 236.90L336.30 238.95L334.25 236.90Z" fill="#c8002e" stroke="#1a0006" stroke-width="0.95"/>
<path d="M339.60 237.35L341.65 239.40L339.60 241.45L337.55 239.40Z" fill="#c8002e" stroke="#1a0006" stroke-width="0.95"/>
<line x1="354.50" y1="206.70" x2="354.50" y2="240.40" stroke="#1a1a1a" stroke-width="1"/>
<line x1="351.60" y1="206.50" x2="357.60" y2="206.50" stroke="#1a1a1a" stroke-width="1"/>
<line x1="351.60" y1="240.50" x2="357.60" y2="240.50" stroke="#1a1a1a" stroke-width="1"/>
<line x1="348.60" y1="224.50" x2="360.60" y2="224.50" stroke="#1a1a1a" stroke-width="1"/>
<rect x="353.08" y="179.67" width="3.05" height="3.05" fill="#9d95e0" stroke="#14143a" stroke-width="0.85"/>
<rect x="353.08" y="212.88" width="3.05" height="3.05" fill="#9d95e0" stroke="#14143a" stroke-width="0.85"/>
<rect x="349.28" y="223.47" width="3.05" height="3.05" fill="#9d95e0" stroke="#14143a" stroke-width="0.85"/>
<rect x="353.08" y="219.67" width="3.05" height="3.05" fill="#9d95e0" stroke="#14143a" stroke-width="0.85"/>
<rect x="356.98" y="221.57" width="3.05" height="3.05" fill="#9d95e0" stroke="#14143a" stroke-width="0.85"/>
<rect x="351.58" y="224.97" width="3.05" height="3.05" fill="#9d95e0" stroke="#14143a" stroke-width="0.85"/>
<rect x="354.98" y="228.28" width="3.05" height="3.05" fill="#9d95e0" stroke="#14143a" stroke-width="0.85"/>
<rect x="349.28" y="234.67" width="3.05" height="3.05" fill="#9d95e0" stroke="#14143a" stroke-width="0.85"/>
<rect x="353.08" y="237.88" width="3.05" height="3.05" fill="#9d95e0" stroke="#14143a" stroke-width="0.85"/>
<rect x="356.98" y="239.28" width="3.05" height="3.05" fill="#9d95e0" stroke="#14143a" stroke-width="0.85"/>
<path d="M246.70 272.90L248.80 275.00L246.70 277.10L244.60 275.00Z" fill="#c8002e" stroke="#1a0006" stroke-width="0.95"/>
<text x="252.50" y="277.20" font-size="7.6" text-anchor="start" font-weight="normal" fill="#222" textLength="25.50" lengthAdjust="spacingAndGlyphs">Isotype</text>
<rect x="288.75" y="273.35" width="3.30" height="3.30" fill="#9d95e0" stroke="#14143a" stroke-width="0.85"/>
<text x="295.40" y="277.20" font-size="7.6" text-anchor="start" font-weight="normal" fill="#222" textLength="38.40" lengthAdjust="spacingAndGlyphs">anti-IL-23R</text>
<line x1="408.50" y1="40.40" x2="408.50" y2="131.30" stroke="#1a1a1a" stroke-width="1"/>
<line x1="408.50" y1="130.50" x2="452.80" y2="130.50" stroke="#1a1a1a" stroke-width="1"/>
<line x1="405.70" y1="130.50" x2="409.00" y2="130.50" stroke="#1a1a1a" stroke-width="1"/>
<text x="402.20" y="134.20" font-size="9.5" text-anchor="end" font-weight="normal" fill="#222" textLength="4.56" lengthAdjust="spacingAndGlyphs">0</text>
<line x1="405.70" y1="113.50" x2="409.00" y2="113.50" stroke="#1a1a1a" stroke-width="1"/>
<text x="402.20" y="116.68" font-size="9.5" text-anchor="end" font-weight="normal" fill="#222" textLength="9.12" lengthAdjust="spacingAndGlyphs">20</text>
<line x1="405.70" y1="95.50" x2="409.00" y2="95.50" stroke="#1a1a1a" stroke-width="1"/>
<text x="402.20" y="99.16" font-size="9.5" text-anchor="end" font-weight="normal" fill="#222" textLength="9.12" lengthAdjust="spacingAndGlyphs">40</text>
<line x1="405.70" y1="78.50" x2="409.00" y2="78.50" stroke="#1a1a1a" stroke-width="1"/>
<text x="402.20" y="81.64" font-size="9.5" text-anchor="end" font-weight="normal" fill="#222" textLength="9.12" lengthAdjust="spacingAndGlyphs">60</text>
<line x1="405.70" y1="60.50" x2="409.00" y2="60.50" stroke="#1a1a1a" stroke-width="1"/>
<text x="402.20" y="64.12" font-size="9.5" text-anchor="end" font-weight="normal" fill="#222" textLength="9.12" lengthAdjust="spacingAndGlyphs">80</text>
<line x1="405.70" y1="43.50" x2="409.00" y2="43.50" stroke="#1a1a1a" stroke-width="1"/>
<text x="402.20" y="46.60" font-size="9.5" text-anchor="end" font-weight="normal" fill="#222" textLength="13.68" lengthAdjust="spacingAndGlyphs">100</text>
<line x1="421.50" y1="130.80" x2="421.50" y2="133.80" stroke="#1a1a1a" stroke-width="1"/>
<line x1="440.50" y1="130.80" x2="440.50" y2="133.80" stroke="#1a1a1a" stroke-width="1"/>
<text transform="translate(381.90,84.60) rotate(-90)" x="0" y="0" font-size="11" text-anchor="middle" fill="#222" textLength="77.00" lengthAdjust="spacingAndGlyphs">% expressing GM-CSF</text>
<line x1="421.90" y1="52.50" x2="445.00" y2="52.50" stroke="#222" stroke-width="1.2"/>
<text x="433.20" y="53.10" font-size="9.2" text-anchor="middle" font-weight="normal" fill="#222">****</text>
<path d="M438.60 109.40L442.60 109.40L440.6 113.00Z" fill="#c8002e" stroke="#1a0006" stroke-width="0.6"/>
<path d="M438.60 105.90L442.60 105.90L440.6 109.50Z" fill="#c8002e" stroke="#1a0006" stroke-width="0.6"/>
<path d="M438.60 113.40L442.60 113.40L440.6 117.00Z" fill="#c8002e" stroke="#1a0006" stroke-width="0.6"/>
<path d="M438.60 107.90L442.60 107.90L440.6 111.50Z" fill="#c8002e" stroke="#1a0006" stroke-width="0.6"/>
<path d="M438.60 116.40L442.60 116.40L440.6 120.00Z" fill="#c8002e" stroke="#1a0006" stroke-width="0.6"/>
<line x1="421.30" y1="60.20" x2="440.60" y2="111.00" stroke="#111" stroke-width="1.15"/>
<line x1="421.30" y1="66.70" x2="440.60" y2="107.50" stroke="#111" stroke-width="1.15"/>
<line x1="421.30" y1="71.30" x2="440.60" y2="115.00" stroke="#111" stroke-width="1.15"/>
<line x1="421.30" y1="77.50" x2="440.60" y2="109.50" stroke="#111" stroke-width="1.15"/>
<line x1="421.30" y1="78.30" x2="440.60" y2="118.00" stroke="#111" stroke-width="1.15"/>
<circle cx="421.30" cy="60.20" r="2.30" fill="#c8002e" stroke="#1a0006" stroke-width="0.8"/>
<circle cx="421.30" cy="66.70" r="2.30" fill="#c8002e" stroke="#1a0006" stroke-width="0.8"/>
<circle cx="421.30" cy="71.30" r="2.30" fill="#c8002e" stroke="#1a0006" stroke-width="0.8"/>
<circle cx="421.30" cy="77.50" r="2.30" fill="#c8002e" stroke="#1a0006" stroke-width="0.8"/>
<circle cx="421.30" cy="78.30" r="2.30" fill="#c8002e" stroke="#1a0006" stroke-width="0.8"/>
<text transform="translate(426,141.5) rotate(-45)" font-size="8.6" text-anchor="end" fill="#222" textLength="14.9" lengthAdjust="spacingAndGlyphs">CD4</text>
<text transform="translate(444.8,141.3) rotate(-45)" font-size="8.6" text-anchor="end" fill="#222" textLength="14.9" lengthAdjust="spacingAndGlyphs">CD8</text>
<line x1="42.50" y1="314.50" x2="42.50" y2="411.75" stroke="#1a1a1a" stroke-width="1"/>
<line x1="42.00" y1="411.50" x2="186.00" y2="411.50" stroke="#1a1a1a" stroke-width="1"/>
<line x1="39.20" y1="411.50" x2="42.50" y2="411.50" stroke="#1a1a1a" stroke-width="1"/>
<text x="35.70" y="414.65" font-size="9.5" text-anchor="end" font-weight="normal" fill="#222" textLength="4.56" lengthAdjust="spacingAndGlyphs">0</text>
<line x1="39.20" y1="392.50" x2="42.50" y2="392.50" stroke="#1a1a1a" stroke-width="1"/>
<text x="35.70" y="395.85" font-size="9.5" text-anchor="end" font-weight="normal" fill="#222" textLength="9.12" lengthAdjust="spacingAndGlyphs">20</text>
<line x1="39.20" y1="373.50" x2="42.50" y2="373.50" stroke="#1a1a1a" stroke-width="1"/>
<text x="35.70" y="377.05" font-size="9.5" text-anchor="end" font-weight="normal" fill="#222" textLength="9.12" lengthAdjust="spacingAndGlyphs">40</text>
<line x1="39.20" y1="354.50" x2="42.50" y2="354.50" stroke="#1a1a1a" stroke-width="1"/>
<text x="35.70" y="358.25" font-size="9.5" text-anchor="end" font-weight="normal" fill="#222" textLength="9.12" lengthAdjust="spacingAndGlyphs">60</text>
<line x1="39.20" y1="336.50" x2="42.50" y2="336.50" stroke="#1a1a1a" stroke-width="1"/>
<text x="35.70" y="339.45" font-size="9.5" text-anchor="end" font-weight="normal" fill="#222" textLength="9.12" lengthAdjust="spacingAndGlyphs">80</text>
<line x1="39.20" y1="317.50" x2="42.50" y2="317.50" stroke="#1a1a1a" stroke-width="1"/>
<text x="35.70" y="320.65" font-size="9.5" text-anchor="end" font-weight="normal" fill="#222" textLength="13.68" lengthAdjust="spacingAndGlyphs">100</text>
<line x1="42.50" y1="411.25" x2="42.50" y2="414.50" stroke="#1a1a1a" stroke-width="1"/>
<text x="42.50" y="425.80" font-size="9.5" text-anchor="middle" font-weight="normal" fill="#222" textLength="4.56" lengthAdjust="spacingAndGlyphs">0</text>
<line x1="65.50" y1="411.25" x2="65.50" y2="414.50" stroke="#1a1a1a" stroke-width="1"/>
<text x="65.70" y="425.80" font-size="9.5" text-anchor="middle" font-weight="normal" fill="#222" textLength="9.12" lengthAdjust="spacingAndGlyphs">10</text>
<line x1="88.50" y1="411.25" x2="88.50" y2="414.50" stroke="#1a1a1a" stroke-width="1"/>
<text x="88.90" y="425.80" font-size="9.5" text-anchor="middle" font-weight="normal" fill="#222" textLength="9.12" lengthAdjust="spacingAndGlyphs">20</text>
<line x1="112.50" y1="411.25" x2="112.50" y2="414.50" stroke="#1a1a1a" stroke-width="1"/>
<text x="112.10" y="425.80" font-size="9.5" text-anchor="middle" font-weight="normal" fill="#222" textLength="9.12" lengthAdjust="spacingAndGlyphs">30</text>
<line x1="135.50" y1="411.25" x2="135.50" y2="414.50" stroke="#1a1a1a" stroke-width="1"/>
<text x="135.30" y="425.80" font-size="9.5" text-anchor="middle" font-weight="normal" fill="#222" textLength="9.12" lengthAdjust="spacingAndGlyphs">40</text>
<line x1="158.50" y1="411.25" x2="158.50" y2="414.50" stroke="#1a1a1a" stroke-width="1"/>
<text x="158.50" y="425.80" font-size="9.5" text-anchor="middle" font-weight="normal" fill="#222" textLength="9.12" lengthAdjust="spacingAndGlyphs">50</text>
<line x1="181.50" y1="411.25" x2="181.50" y2="414.50" stroke="#1a1a1a" stroke-width="1"/>
<text x="181.70" y="425.80" font-size="9.5" text-anchor="middle" font-weight="normal" fill="#222" textLength="9.12" lengthAdjust="spacingAndGlyphs">60</text>
<text transform="translate(16.00,362.50) rotate(-90)" x="0" y="0" font-size="10.8" text-anchor="middle" fill="#222" textLength="56.70" lengthAdjust="spacingAndGlyphs">Percent survival</text>
<text x="78.40" y="439.90" font-size="9.2" text-anchor="start" font-weight="normal" fill="#222" textLength="73.00" lengthAdjust="spacingAndGlyphs">Days post-transplant</text>
<path d="M42.5 317.5H139.5V326.5H145.5V336.5H164.5V345.5H183.5" fill="none" stroke="#46659f" stroke-width="1.35"/>
<path d="M42.5 317.5H73.5V336.5H87.5V345.5H94.5V354.5H112.5V364.5H129.5V373.5H138.5V383.5H150.5V392.5H183.5" fill="none" stroke="#c41f3e" stroke-width="1.35"/>
<path d="M42.5 317.5H78.5V333.5H183.5" fill="none" stroke="#84579c" stroke-width="1.35"/>
<rect x="136.75" y="323.90" width="5.00" height="5.00" fill="#2a5cb0" stroke="#0a1030" stroke-width="0.8"/>
<rect x="143.25" y="333.70" width="5.00" height="5.00" fill="#2a5cb0" stroke="#0a1030" stroke-width="0.8"/>
<rect x="162.50" y="343.00" width="5.00" height="5.00" fill="#2a5cb0" stroke="#0a1030" stroke-width="0.8"/>
<rect x="181.25" y="343.00" width="5.00" height="5.00" fill="#2a5cb0" stroke="#0a1030" stroke-width="0.8"/>
<path d="M73.20 333.30L76.10 336.20L73.20 339.10L70.30 336.20Z" fill="#c8002e" stroke="#1a0006" stroke-width="0.8"/>
<path d="M87.30 342.60L90.20 345.50L87.30 348.40L84.40 345.50Z" fill="#c8002e" stroke="#1a0006" stroke-width="0.8"/>
<path d="M94.00 352.10L96.90 355.00L94.00 357.90L91.10 355.00Z" fill="#c8002e" stroke="#1a0006" stroke-width="0.8"/>
<path d="M113.00 361.60L115.90 364.50L113.00 367.40L110.10 364.50Z" fill="#c8002e" stroke="#1a0006" stroke-width="0.8"/>
<path d="M129.50 370.80L132.40 373.70L129.50 376.60L126.60 373.70Z" fill="#c8002e" stroke="#1a0006" stroke-width="0.8"/>
<path d="M138.75 380.30L141.65 383.20L138.75 386.10L135.85 383.20Z" fill="#c8002e" stroke="#1a0006" stroke-width="0.8"/>
<path d="M150.75 390.10L153.65 393.00L150.75 395.90L147.85 393.00Z" fill="#c8002e" stroke="#1a0006" stroke-width="0.8"/>
<path d="M183.75 390.10L186.65 393.00L183.75 395.90L180.85 393.00Z" fill="#c8002e" stroke="#1a0006" stroke-width="0.8"/>
<circle cx="78.00" cy="333.40" r="2.70" fill="#5a2d7c" stroke="#111" stroke-width="0.8"/>
<circle cx="183.75" cy="333.40" r="2.70" fill="#5a2d7c" stroke="#111" stroke-width="0.8"/>
<line x1="180.30" y1="351.00" x2="177.60" y2="363.80" stroke="#111" stroke-width="0.95"/>
<line x1="174.60" y1="374.40" x2="165.30" y2="388.50" stroke="#111" stroke-width="0.95"/>
<text x="174.30" y="375.50" font-size="9.8" text-anchor="middle" font-weight="normal" fill="#222" style="stroke-width:0.08px">**</text>
<line x1="196.70" y1="334.50" x2="207.30" y2="334.50" stroke="#84579c" stroke-width="1.1"/>
<line x1="196.70" y1="345.50" x2="207.30" y2="345.50" stroke="#c41f3e" stroke-width="1.1"/>
<line x1="196.70" y1="356.50" x2="207.30" y2="356.50" stroke="#46659f" stroke-width="1.1"/>
<circle cx="202.00" cy="334.00" r="2.60" fill="#5a2d7c" stroke="#111" stroke-width="0.8"/>
<path d="M202.00 342.40L204.80 345.20L202.00 348.00L199.20 345.20Z" fill="#c8002e" stroke="#1a0006" stroke-width="0.8"/>
<rect x="199.80" y="354.40" width="4.40" height="4.40" fill="#2a5cb0" stroke="#0a1030" stroke-width="0.8"/>
<text x="210.80" y="337.10" font-size="9" text-anchor="start" font-weight="normal" fill="#222" textLength="31.20" lengthAdjust="spacingAndGlyphs">BM Only</text>
<text x="210.80" y="348.30" font-size="9" text-anchor="start" font-weight="normal" fill="#222" textLength="32.00" lengthAdjust="spacingAndGlyphs">WT CD4<tspan baseline-shift="42%" font-size="70%">+</tspan></text>
<text x="210.80" y="359.70" font-size="9" text-anchor="start" font-weight="normal" fill="#222" textLength="55.20" lengthAdjust="spacingAndGlyphs">GM-CSF<tspan baseline-shift="42%" font-size="70%">-/-</tspan> CD4<tspan baseline-shift="42%" font-size="70%">+</tspan></text>
<text x="326.30" y="321.00" font-size="9.8" text-anchor="middle" font-weight="normal" fill="#222" textLength="15.50" lengthAdjust="spacingAndGlyphs" style="stroke-width:0.08px">WT</text>
<text x="303.80" y="406.20" font-size="10.5" text-anchor="start" font-weight="normal" fill="#222" textLength="45.70" lengthAdjust="spacingAndGlyphs" style="stroke-width:0.08px">GM-CSF<tspan baseline-shift="42%" font-size="70%">-/-</tspan></text>
<rect x="310.94" y="359.17" width="0.8" height="0.9" fill="#80a6dc"/><rect x="310.44" y="360.66" width="0.8" height="0.9" fill="#b4cdee"/><rect x="323.61" y="367.82" width="0.8" height="0.9" fill="#b4cdee"/><rect x="319.69" y="358.35" width="0.8" height="0.9" fill="#80a6dc"/><rect x="323.68" y="380.64" width="0.8" height="0.9" fill="#80a6dc"/><rect x="305.58" y="368.19" width="0.8" height="0.9" fill="#b4cdee"/><rect x="322.47" y="365.30" width="0.8" height="0.9" fill="#5aa0b8"/><rect x="328.42" y="365.36" width="0.8" height="0.9" fill="#a0bee8"/><rect x="324.70" y="363.23" width="0.8" height="0.9" fill="#6a98d4"/><rect x="329.53" y="371.77" width="0.8" height="0.9" fill="#80a6dc"/><rect x="309.96" y="374.95" width="0.8" height="0.9" fill="#98b8e4"/><rect x="327.99" y="372.09" width="0.8" height="0.9" fill="#a0bee8"/><rect x="314.83" y="360.92" width="0.8" height="0.9" fill="#98b8e4"/><rect x="316.18" y="361.89" width="0.8" height="0.9" fill="#b4cdee"/><rect x="318.02" y="373.41" width="0.8" height="0.9" fill="#80a6dc"/><rect x="307.46" y="364.74" width="0.8" height="0.9" fill="#a0bee8"/><rect x="319.10" y="371.16" width="0.8" height="0.9" fill="#4a80c8"/><rect x="316.24" y="360.67" width="0.8" height="0.9" fill="#98b8e4"/><rect x="316.11" y="372.95" width="0.8" height="0.9" fill="#a0bee8"/><rect x="319.86" y="363.89" width="0.8" height="0.9" fill="#6a98d4"/><rect x="316.48" y="362.59" width="0.8" height="0.9" fill="#8eb0e0"/><rect x="328.61" y="366.83" width="0.8" height="0.9" fill="#98b8e4"/><rect x="313.00" y="365.04" width="0.8" height="0.9" fill="#6a98d4"/><rect x="311.77" y="366.87" width="0.8" height="0.9" fill="#4a9ab4"/><rect x="303.96" y="364.57" width="0.8" height="0.9" fill="#80a6dc"/><rect x="318.09" y="367.78" width="0.8" height="0.9" fill="#6a98d4"/><rect x="312.98" y="370.98" width="0.8" height="0.9" fill="#80a6dc"/><rect x="305.10" y="366.31" width="0.8" height="0.9" fill="#8eb0e0"/><rect x="317.71" y="362.45" width="0.8" height="0.9" fill="#6a98d4"/><rect x="312.32" y="370.39" width="0.8" height="0.9" fill="#80a6dc"/><rect x="319.82" y="371.01" width="0.8" height="0.9" fill="#b4cdee"/><rect x="321.33" y="367.13" width="0.8" height="0.9" fill="#4a9ab4"/><rect x="317.80" y="369.59" width="0.8" height="0.9" fill="#98b8e4"/><rect x="331.27" y="365.77" width="0.8" height="0.9" fill="#8eb0e0"/><rect x="312.28" y="367.98" width="0.8" height="0.9" fill="#b4cdee"/><rect x="321.30" y="360.65" width="0.8" height="0.9" fill="#a0bee8"/><rect x="330.12" y="360.65" width="0.8" height="0.9" fill="#b4cdee"/><rect x="312.07" y="362.49" width="0.8" height="0.9" fill="#98b8e4"/><rect x="323.19" y="362.01" width="0.8" height="0.9" fill="#a0bee8"/><rect x="331.03" y="363.64" width="0.8" height="0.9" fill="#8eb0e0"/><rect x="316.64" y="363.57" width="0.8" height="0.9" fill="#4a9ab4"/><rect x="309.40" y="362.94" width="0.8" height="0.9" fill="#98b8e4"/><rect x="324.19" y="365.33" width="0.8" height="0.9" fill="#6a98d4"/><rect x="319.23" y="370.70" width="0.8" height="0.9" fill="#5aa0b8"/><rect x="318.30" y="367.71" width="0.8" height="0.9" fill="#6a98d4"/><rect x="319.09" y="377.31" width="0.8" height="0.9" fill="#80a6dc"/><rect x="305.05" y="371.89" width="0.8" height="0.9" fill="#98b8e4"/><rect x="323.30" y="370.40" width="0.8" height="0.9" fill="#b4cdee"/><rect x="328.27" y="376.83" width="0.8" height="0.9" fill="#98b8e4"/><rect x="318.10" y="366.69" width="0.8" height="0.9" fill="#8eb0e0"/><rect x="310.74" y="373.18" width="0.8" height="0.9" fill="#80a6dc"/><rect x="322.65" y="360.65" width="0.8" height="0.9" fill="#80a6dc"/><rect x="316.10" y="369.79" width="0.8" height="0.9" fill="#b4cdee"/><rect x="310.16" y="366.22" width="0.8" height="0.9" fill="#8eb0e0"/><rect x="314.56" y="379.02" width="0.8" height="0.9" fill="#a0bee8"/><rect x="323.09" y="373.67" width="0.8" height="0.9" fill="#b4cdee"/><rect x="306.92" y="364.78" width="0.8" height="0.9" fill="#80a6dc"/><rect x="315.61" y="373.80" width="0.8" height="0.9" fill="#8eb0e0"/><rect x="317.54" y="376.91" width="0.8" height="0.9" fill="#80a6dc"/><rect x="304.78" y="364.88" width="0.8" height="0.9" fill="#8eb0e0"/><rect x="323.59" y="363.51" width="0.8" height="0.9" fill="#98b8e4"/><rect x="317.95" y="369.35" width="0.8" height="0.9" fill="#4a80c8"/><rect x="318.67" y="364.80" width="0.8" height="0.9" fill="#4a9ab4"/><rect x="319.49" y="362.27" width="0.8" height="0.9" fill="#4a9ab4"/><rect x="309.16" y="368.13" width="0.8" height="0.9" fill="#80a6dc"/><rect x="323.27" y="372.18" width="0.8" height="0.9" fill="#4a80c8"/><rect x="328.23" y="364.23" width="0.8" height="0.9" fill="#8eb0e0"/><rect x="327.22" y="362.34" width="0.8" height="0.9" fill="#80a6dc"/><rect x="311.94" y="365.81" width="0.8" height="0.9" fill="#4a80c8"/><rect x="324.28" y="372.13" width="0.8" height="0.9" fill="#8eb0e0"/><rect x="315.63" y="371.80" width="0.8" height="0.9" fill="#6a98d4"/><rect x="326.64" y="371.91" width="0.8" height="0.9" fill="#98b8e4"/><rect x="319.69" y="364.73" width="0.8" height="0.9" fill="#5a8ccc"/><rect x="315.67" y="378.41" width="0.8" height="0.9" fill="#8eb0e0"/><rect x="305.81" y="367.65" width="0.8" height="0.9" fill="#80a6dc"/><rect x="319.81" y="364.57" width="0.8" height="0.9" fill="#4a9ab4"/><rect x="307.92" y="365.96" width="0.8" height="0.9" fill="#a0bee8"/><rect x="330.91" y="362.57" width="0.8" height="0.9" fill="#8eb0e0"/><rect x="321.98" y="360.42" width="0.8" height="0.9" fill="#a0bee8"/><rect x="327.56" y="376.76" width="0.8" height="0.9" fill="#8eb0e0"/><rect x="323.83" y="359.90" width="0.8" height="0.9" fill="#98b8e4"/><rect x="326.78" y="358.38" width="0.8" height="0.9" fill="#a0bee8"/><rect x="315.63" y="366.65" width="0.8" height="0.9" fill="#a0bee8"/><rect x="313.70" y="372.82" width="0.8" height="0.9" fill="#b4cdee"/><rect x="318.56" y="364.21" width="0.8" height="0.9" fill="#5aa0b8"/><rect x="327.10" y="372.84" width="0.8" height="0.9" fill="#b4cdee"/><rect x="331.54" y="368.10" width="0.8" height="0.9" fill="#98b8e4"/><rect x="310.70" y="370.18" width="0.8" height="0.9" fill="#80a6dc"/><rect x="315.18" y="371.62" width="0.8" height="0.9" fill="#4a80c8"/><rect x="311.92" y="378.02" width="0.8" height="0.9" fill="#b4cdee"/><rect x="328.65" y="363.95" width="0.8" height="0.9" fill="#80a6dc"/><rect x="319.21" y="367.60" width="0.8" height="0.9" fill="#6a98d4"/><rect x="319.49" y="358.87" width="0.8" height="0.9" fill="#a0bee8"/><rect x="308.19" y="370.02" width="0.8" height="0.9" fill="#80a6dc"/><rect x="330.39" y="365.53" width="0.8" height="0.9" fill="#80a6dc"/><rect x="318.52" y="363.82" width="0.8" height="0.9" fill="#b4cdee"/><rect x="321.50" y="361.92" width="0.8" height="0.9" fill="#5a8ccc"/><rect x="320.27" y="366.82" width="0.8" height="0.9" fill="#4a9ab4"/><rect x="319.47" y="379.54" width="0.8" height="0.9" fill="#a0bee8"/><rect x="322.53" y="372.53" width="0.8" height="0.9" fill="#5aa0b8"/><rect x="329.35" y="363.80" width="0.8" height="0.9" fill="#80a6dc"/><rect x="317.24" y="362.49" width="0.8" height="0.9" fill="#5aa0b8"/><rect x="319.37" y="368.62" width="0.8" height="0.9" fill="#5a8ccc"/><rect x="314.50" y="361.81" width="0.8" height="0.9" fill="#6a98d4"/><rect x="304.38" y="361.50" width="0.8" height="0.9" fill="#80a6dc"/><rect x="312.25" y="374.00" width="0.8" height="0.9" fill="#80a6dc"/><rect x="318.40" y="358.52" width="0.8" height="0.9" fill="#a0bee8"/><rect x="318.52" y="367.71" width="0.8" height="0.9" fill="#98b8e4"/><rect x="327.08" y="377.01" width="0.8" height="0.9" fill="#8eb0e0"/><rect x="310.39" y="359.93" width="0.8" height="0.9" fill="#a0bee8"/><rect x="306.90" y="374.39" width="0.8" height="0.9" fill="#b4cdee"/><rect x="319.18" y="372.52" width="0.8" height="0.9" fill="#5aa0b8"/><rect x="323.10" y="372.78" width="0.8" height="0.9" fill="#80a6dc"/><rect x="323.24" y="361.02" width="0.8" height="0.9" fill="#b4cdee"/><rect x="314.13" y="360.61" width="0.8" height="0.9" fill="#98b8e4"/><rect x="313.06" y="363.50" width="0.8" height="0.9" fill="#4a9ab4"/><rect x="320.82" y="369.70" width="0.8" height="0.9" fill="#6a98d4"/><rect x="304.46" y="370.90" width="0.8" height="0.9" fill="#b4cdee"/><rect x="321.80" y="366.63" width="0.8" height="0.9" fill="#a0bee8"/><rect x="321.14" y="360.62" width="0.8" height="0.9" fill="#b4cdee"/><rect x="324.03" y="375.26" width="0.8" height="0.9" fill="#b4cdee"/><rect x="324.03" y="359.08" width="0.8" height="0.9" fill="#98b8e4"/><rect x="305.74" y="361.76" width="0.8" height="0.9" fill="#b4cdee"/><rect x="326.50" y="366.17" width="0.8" height="0.9" fill="#80a6dc"/><rect x="317.54" y="367.42" width="0.8" height="0.9" fill="#6a98d4"/><rect x="317.21" y="373.62" width="0.8" height="0.9" fill="#8eb0e0"/><rect x="312.32" y="363.80" width="0.8" height="0.9" fill="#8eb0e0"/><rect x="315.52" y="359.88" width="0.8" height="0.9" fill="#a0bee8"/><rect x="319.64" y="372.17" width="0.8" height="0.9" fill="#6a98d4"/><rect x="320.91" y="368.52" width="0.8" height="0.9" fill="#4a9ab4"/><rect x="315.49" y="364.44" width="0.8" height="0.9" fill="#a0bee8"/><rect x="317.65" y="374.85" width="0.8" height="0.9" fill="#a0bee8"/><rect x="312.08" y="364.36" width="0.8" height="0.9" fill="#98b8e4"/><rect x="316.95" y="361.29" width="0.8" height="0.9" fill="#4a9ab4"/><rect x="312.17" y="364.63" width="0.8" height="0.9" fill="#b4cdee"/><rect x="319.88" y="365.75" width="0.8" height="0.9" fill="#b4cdee"/><rect x="319.79" y="369.43" width="0.8" height="0.9" fill="#80a6dc"/><rect x="315.58" y="368.71" width="0.8" height="0.9" fill="#4a9ab4"/><rect x="307.67" y="372.02" width="0.8" height="0.9" fill="#8eb0e0"/><rect x="329.86" y="369.95" width="0.8" height="0.9" fill="#8eb0e0"/><rect x="326.83" y="368.54" width="0.8" height="0.9" fill="#98b8e4"/><rect x="324.24" y="365.31" width="0.8" height="0.9" fill="#4a9ab4"/><rect x="310.31" y="364.69" width="0.8" height="0.9" fill="#b4cdee"/><rect x="311.53" y="370.00" width="0.8" height="0.9" fill="#a0bee8"/><rect x="312.25" y="374.05" width="0.8" height="0.9" fill="#b4cdee"/><rect x="312.29" y="362.10" width="0.8" height="0.9" fill="#98b8e4"/><rect x="310.45" y="369.31" width="0.8" height="0.9" fill="#8eb0e0"/><rect x="323.80" y="363.18" width="0.8" height="0.9" fill="#6a98d4"/><rect x="315.91" y="370.23" width="0.8" height="0.9" fill="#a0bee8"/><rect x="324.03" y="368.13" width="0.8" height="0.9" fill="#98b8e4"/><rect x="307.39" y="369.12" width="0.8" height="0.9" fill="#b4cdee"/><rect x="321.57" y="367.98" width="0.8" height="0.9" fill="#6a98d4"/><rect x="327.22" y="368.27" width="0.8" height="0.9" fill="#8eb0e0"/><rect x="317.94" y="373.28" width="0.8" height="0.9" fill="#4a9ab4"/><rect x="322.06" y="360.15" width="0.8" height="0.9" fill="#b4cdee"/><rect x="315.75" y="371.44" width="0.8" height="0.9" fill="#a0bee8"/><rect x="308.27" y="364.06" width="0.8" height="0.9" fill="#80a6dc"/><rect x="317.45" y="359.39" width="0.8" height="0.9" fill="#8eb0e0"/><rect x="326.15" y="365.01" width="0.8" height="0.9" fill="#98b8e4"/><rect x="317.25" y="359.41" width="0.8" height="0.9" fill="#98b8e4"/><rect x="323.51" y="362.74" width="0.8" height="0.9" fill="#a0bee8"/><rect x="307.77" y="372.81" width="0.8" height="0.9" fill="#8eb0e0"/><rect x="308.45" y="372.71" width="0.8" height="0.9" fill="#b4cdee"/><rect x="319.99" y="369.94" width="0.8" height="0.9" fill="#4a80c8"/><rect x="318.08" y="371.17" width="0.8" height="0.9" fill="#b4cdee"/><rect x="304.66" y="366.68" width="0.8" height="0.9" fill="#80a6dc"/><rect x="308.13" y="368.26" width="0.8" height="0.9" fill="#80a6dc"/><rect x="316.47" y="374.43" width="0.8" height="0.9" fill="#8eb0e0"/><rect x="326.61" y="372.70" width="0.8" height="0.9" fill="#a0bee8"/><rect x="319.94" y="379.43" width="0.8" height="0.9" fill="#98b8e4"/><rect x="324.20" y="365.02" width="0.8" height="0.9" fill="#5aa0b8"/><rect x="318.61" y="363.12" width="0.8" height="0.9" fill="#98b8e4"/><rect x="320.43" y="360.59" width="0.8" height="0.9" fill="#80a6dc"/><rect x="323.67" y="372.43" width="0.8" height="0.9" fill="#80a6dc"/><rect x="307.19" y="373.20" width="0.8" height="0.9" fill="#8eb0e0"/><rect x="316.01" y="360.38" width="0.8" height="0.9" fill="#b4cdee"/><rect x="315.51" y="371.09" width="0.8" height="0.9" fill="#98b8e4"/><rect x="305.25" y="370.50" width="0.8" height="0.9" fill="#80a6dc"/><rect x="322.96" y="364.30" width="0.8" height="0.9" fill="#5aa0b8"/><rect x="328.11" y="360.46" width="0.8" height="0.9" fill="#8eb0e0"/><rect x="328.99" y="364.17" width="0.8" height="0.9" fill="#98b8e4"/><rect x="319.85" y="363.61" width="0.8" height="0.9" fill="#6a98d4"/><rect x="322.65" y="377.43" width="0.8" height="0.9" fill="#80a6dc"/><rect x="314.30" y="370.57" width="0.8" height="0.9" fill="#5a8ccc"/><rect x="304.90" y="371.08" width="0.8" height="0.9" fill="#a0bee8"/><rect x="327.03" y="372.42" width="0.8" height="0.9" fill="#98b8e4"/><rect x="308.16" y="371.23" width="0.8" height="0.9" fill="#80a6dc"/><rect x="323.56" y="369.09" width="0.8" height="0.9" fill="#8eb0e0"/><rect x="326.91" y="363.24" width="0.8" height="0.9" fill="#a0bee8"/><rect x="318.93" y="370.21" width="0.8" height="0.9" fill="#b4cdee"/><rect x="321.36" y="378.76" width="0.8" height="0.9" fill="#98b8e4"/><rect x="319.92" y="364.59" width="0.8" height="0.9" fill="#4a9ab4"/><rect x="320.53" y="363.61" width="0.8" height="0.9" fill="#80a6dc"/><rect x="318.38" y="367.43" width="0.8" height="0.9" fill="#5aa0b8"/><rect x="307.11" y="362.55" width="0.8" height="0.9" fill="#98b8e4"/><rect x="320.64" y="369.83" width="0.8" height="0.9" fill="#5a8ccc"/><rect x="330.44" y="359.38" width="0.8" height="0.9" fill="#98b8e4"/><rect x="310.03" y="378.29" width="0.8" height="0.9" fill="#80a6dc"/><rect x="330.01" y="365.09" width="0.8" height="0.9" fill="#98b8e4"/><rect x="314.69" y="374.17" width="0.8" height="0.9" fill="#98b8e4"/><rect x="317.38" y="363.51" width="0.8" height="0.9" fill="#6a98d4"/><rect x="318.30" y="374.61" width="0.8" height="0.9" fill="#a0bee8"/><rect x="312.98" y="367.42" width="0.8" height="0.9" fill="#8eb0e0"/><rect x="314.75" y="374.76" width="0.8" height="0.9" fill="#8eb0e0"/><rect x="327.75" y="362.08" width="0.8" height="0.9" fill="#b4cdee"/><rect x="315.67" y="376.88" width="0.8" height="0.9" fill="#b4cdee"/><rect x="322.74" y="373.67" width="0.8" height="0.9" fill="#b4cdee"/><rect x="315.71" y="367.62" width="0.8" height="0.9" fill="#4a9ab4"/><rect x="316.47" y="374.21" width="0.8" height="0.9" fill="#b4cdee"/><rect x="311.50" y="366.26" width="0.8" height="0.9" fill="#b4cdee"/><rect x="316.13" y="365.03" width="0.8" height="0.9" fill="#b4cdee"/><rect x="323.74" y="368.69" width="0.8" height="0.9" fill="#a0bee8"/><rect x="323.75" y="369.06" width="0.8" height="0.9" fill="#8eb0e0"/><rect x="319.10" y="365.94" width="0.8" height="0.9" fill="#8eb0e0"/><rect x="324.34" y="366.80" width="0.8" height="0.9" fill="#4a80c8"/><rect x="323.40" y="364.89" width="0.8" height="0.9" fill="#5aa0b8"/><rect x="314.61" y="366.46" width="0.8" height="0.9" fill="#5aa0b8"/><rect x="309.50" y="375.14" width="0.8" height="0.9" fill="#a0bee8"/><rect x="312.36" y="376.42" width="0.8" height="0.9" fill="#98b8e4"/><rect x="314.63" y="367.63" width="0.8" height="0.9" fill="#5a8ccc"/><rect x="322.72" y="359.16" width="0.8" height="0.9" fill="#8eb0e0"/><rect x="305.70" y="366.49" width="0.8" height="0.9" fill="#80a6dc"/><rect x="307.27" y="363.66" width="0.8" height="0.9" fill="#8eb0e0"/><rect x="312.27" y="375.85" width="0.8" height="0.9" fill="#b4cdee"/><rect x="310.38" y="372.87" width="0.8" height="0.9" fill="#98b8e4"/><rect x="327.77" y="370.93" width="0.8" height="0.9" fill="#98b8e4"/><rect x="310.02" y="369.44" width="0.8" height="0.9" fill="#80a6dc"/><rect x="315.92" y="372.37" width="0.8" height="0.9" fill="#4a9ab4"/><rect x="319.30" y="368.04" width="0.8" height="0.9" fill="#6a98d4"/><rect x="320.98" y="358.86" width="0.8" height="0.9" fill="#a0bee8"/><rect x="315.31" y="367.26" width="0.8" height="0.9" fill="#5a8ccc"/><rect x="321.72" y="375.03" width="0.8" height="0.9" fill="#8eb0e0"/><rect x="319.44" y="363.33" width="0.8" height="0.9" fill="#6a98d4"/><rect x="321.43" y="371.80" width="0.8" height="0.9" fill="#80a6dc"/><rect x="323.67" y="376.27" width="0.8" height="0.9" fill="#80a6dc"/><rect x="322.10" y="366.58" width="0.8" height="0.9" fill="#98b8e4"/><rect x="316.17" y="370.69" width="0.8" height="0.9" fill="#5a8ccc"/><rect x="321.81" y="367.65" width="0.8" height="0.9" fill="#8eb0e0"/><rect x="315.80" y="374.04" width="0.8" height="0.9" fill="#80a6dc"/><rect x="305.26" y="371.46" width="0.8" height="0.9" fill="#a0bee8"/><rect x="307.57" y="367.70" width="0.8" height="0.9" fill="#80a6dc"/><rect x="329.85" y="375.41" width="0.8" height="0.9" fill="#a0bee8"/><rect x="319.98" y="362.85" width="0.8" height="0.9" fill="#98b8e4"/><rect x="322.93" y="367.97" width="0.8" height="0.9" fill="#80a6dc"/><rect x="326.33" y="361.75" width="0.8" height="0.9" fill="#8eb0e0"/><rect x="319.91" y="369.75" width="0.8" height="0.9" fill="#80a6dc"/><rect x="319.60" y="371.58" width="0.8" height="0.9" fill="#5aa0b8"/><rect x="308.12" y="366.30" width="0.8" height="0.9" fill="#98b8e4"/><rect x="326.66" y="358.56" width="0.8" height="0.9" fill="#8eb0e0"/><rect x="319.32" y="368.08" width="0.8" height="0.9" fill="#6a98d4"/><rect x="310.68" y="364.33" width="0.8" height="0.9" fill="#80a6dc"/><rect x="315.72" y="370.25" width="0.8" height="0.9" fill="#b4cdee"/><rect x="316.10" y="366.60" width="0.8" height="0.9" fill="#6a98d4"/><rect x="328.83" y="366.88" width="0.8" height="0.9" fill="#a0bee8"/><rect x="314.75" y="362.60" width="0.8" height="0.9" fill="#5aa0b8"/><rect x="318.47" y="373.27" width="0.8" height="0.9" fill="#6a98d4"/><rect x="318.48" y="372.83" width="0.8" height="0.9" fill="#8eb0e0"/><rect x="323.86" y="360.48" width="0.8" height="0.9" fill="#98b8e4"/><rect x="319.33" y="370.61" width="0.8" height="0.9" fill="#80a6dc"/><rect x="323.67" y="363.21" width="0.8" height="0.9" fill="#a0bee8"/><rect x="311.46" y="363.64" width="0.8" height="0.9" fill="#8eb0e0"/><rect x="323.91" y="364.59" width="0.8" height="0.9" fill="#80a6dc"/><rect x="311.57" y="358.43" width="0.8" height="0.9" fill="#8eb0e0"/><rect x="319.15" y="369.79" width="0.8" height="0.9" fill="#80a6dc"/><rect x="317.46" y="359.41" width="0.8" height="0.9" fill="#98b8e4"/><rect x="310.25" y="369.40" width="0.8" height="0.9" fill="#98b8e4"/><rect x="312.00" y="361.93" width="0.8" height="0.9" fill="#80a6dc"/><rect x="324.03" y="372.26" width="0.8" height="0.9" fill="#b4cdee"/><rect x="326.03" y="374.27" width="0.8" height="0.9" fill="#a0bee8"/><rect x="315.86" y="371.32" width="0.8" height="0.9" fill="#80a6dc"/><rect x="321.73" y="360.89" width="0.8" height="0.9" fill="#b4cdee"/><rect x="315.33" y="360.24" width="0.8" height="0.9" fill="#a0bee8"/><rect x="317.48" y="368.77" width="0.8" height="0.9" fill="#4a9ab4"/><rect x="327.11" y="371.53" width="0.8" height="0.9" fill="#8eb0e0"/><rect x="317.23" y="371.75" width="0.8" height="0.9" fill="#a0bee8"/><rect x="312.14" y="366.65" width="0.8" height="0.9" fill="#5aa0b8"/><rect x="315.20" y="360.15" width="0.8" height="0.9" fill="#a0bee8"/><rect x="319.56" y="367.44" width="0.8" height="0.9" fill="#b4cdee"/><rect x="326.54" y="362.63" width="0.8" height="0.9" fill="#a0bee8"/><rect x="306.92" y="365.42" width="0.8" height="0.9" fill="#a0bee8"/><rect x="311.83" y="363.58" width="0.8" height="0.9" fill="#b4cdee"/><rect x="313.04" y="368.78" width="0.8" height="0.9" fill="#6a98d4"/><rect x="321.21" y="361.27" width="0.8" height="0.9" fill="#5aa0b8"/><rect x="310.06" y="362.65" width="0.8" height="0.9" fill="#98b8e4"/><rect x="307.67" y="365.48" width="0.8" height="0.9" fill="#98b8e4"/><rect x="313.77" y="368.15" width="0.8" height="0.9" fill="#4a9ab4"/><rect x="323.65" y="369.69" width="0.8" height="0.9" fill="#80a6dc"/><rect x="322.70" y="364.14" width="0.8" height="0.9" fill="#a0bee8"/><rect x="319.38" y="379.89" width="0.8" height="0.9" fill="#80a6dc"/><rect x="320.14" y="358.88" width="0.8" height="0.9" fill="#98b8e4"/><rect x="306.79" y="377.09" width="0.8" height="0.9" fill="#80a6dc"/><rect x="312.14" y="370.79" width="0.8" height="0.9" fill="#b4cdee"/><rect x="306.23" y="362.96" width="0.8" height="0.9" fill="#a0bee8"/><rect x="312.62" y="360.38" width="0.8" height="0.9" fill="#a0bee8"/><rect x="319.51" y="362.95" width="0.8" height="0.9" fill="#5aa0b8"/><rect x="316.06" y="374.57" width="0.8" height="0.9" fill="#8eb0e0"/><rect x="310.33" y="365.84" width="0.8" height="0.9" fill="#b4cdee"/><rect x="315.50" y="360.14" width="0.8" height="0.9" fill="#a0bee8"/><rect x="320.39" y="363.33" width="0.8" height="0.9" fill="#a0bee8"/><rect x="316.01" y="363.62" width="0.8" height="0.9" fill="#80a6dc"/><rect x="319.43" y="373.66" width="0.8" height="0.9" fill="#80a6dc"/><rect x="311.96" y="368.13" width="0.8" height="0.9" fill="#98b8e4"/><rect x="309.99" y="371.48" width="0.8" height="0.9" fill="#98b8e4"/><rect x="307.83" y="362.71" width="0.8" height="0.9" fill="#a0bee8"/><rect x="328.72" y="365.14" width="0.8" height="0.9" fill="#b4cdee"/><rect x="321.61" y="370.94" width="0.8" height="0.9" fill="#4a80c8"/><rect x="327.18" y="366.71" width="0.8" height="0.9" fill="#b4cdee"/><rect x="320.60" y="365.92" width="0.8" height="0.9" fill="#8eb0e0"/><rect x="319.24" y="360.97" width="0.8" height="0.9" fill="#4a80c8"/><rect x="323.11" y="369.21" width="0.8" height="0.9" fill="#5a8ccc"/><rect x="313.32" y="368.01" width="0.8" height="0.9" fill="#5aa0b8"/><rect x="322.29" y="363.96" width="0.8" height="0.9" fill="#8eb0e0"/><rect x="326.93" y="370.31" width="0.8" height="0.9" fill="#98b8e4"/><rect x="311.73" y="366.64" width="0.8" height="0.9" fill="#4a9ab4"/><rect x="320.81" y="362.14" width="0.8" height="0.9" fill="#80a6dc"/><rect x="325.79" y="369.84" width="0.8" height="0.9" fill="#a0bee8"/><rect x="317.53" y="366.02" width="0.8" height="0.9" fill="#98b8e4"/><rect x="316.78" y="366.62" width="0.8" height="0.9" fill="#80a6dc"/><rect x="316.31" y="363.49" width="0.8" height="0.9" fill="#98b8e4"/><rect x="328.97" y="366.30" width="0.8" height="0.9" fill="#80a6dc"/><rect x="319.47" y="370.01" width="0.8" height="0.9" fill="#80a6dc"/><rect x="306.84" y="360.80" width="0.8" height="0.9" fill="#80a6dc"/><rect x="318.67" y="366.99" width="0.8" height="0.9" fill="#8eb0e0"/><rect x="307.35" y="366.58" width="0.8" height="0.9" fill="#80a6dc"/><rect x="315.33" y="372.35" width="0.8" height="0.9" fill="#98b8e4"/><rect x="307.78" y="365.62" width="0.8" height="0.9" fill="#98b8e4"/><rect x="316.70" y="367.06" width="0.8" height="0.9" fill="#5a8ccc"/><rect x="326.60" y="369.51" width="0.8" height="0.9" fill="#98b8e4"/><rect x="310.77" y="370.18" width="0.8" height="0.9" fill="#98b8e4"/><rect x="317.38" y="371.06" width="0.8" height="0.9" fill="#4a9ab4"/><rect x="308.32" y="370.18" width="0.8" height="0.9" fill="#80a6dc"/><rect x="323.14" y="369.86" width="0.8" height="0.9" fill="#8eb0e0"/><rect x="308.22" y="378.76" width="0.8" height="0.9" fill="#80a6dc"/><rect x="318.19" y="372.19" width="0.8" height="0.9" fill="#a0bee8"/><rect x="312.29" y="373.47" width="0.8" height="0.9" fill="#98b8e4"/><rect x="323.93" y="369.31" width="0.8" height="0.9" fill="#98b8e4"/><rect x="309.91" y="368.98" width="0.8" height="0.9" fill="#8eb0e0"/><rect x="304.53" y="375.73" width="0.8" height="0.9" fill="#98b8e4"/><rect x="306.91" y="362.64" width="0.8" height="0.9" fill="#98b8e4"/><rect x="318.06" y="366.43" width="0.8" height="0.9" fill="#5a8ccc"/><rect x="329.82" y="366.71" width="0.8" height="0.9" fill="#b4cdee"/><rect x="313.72" y="372.02" width="0.8" height="0.9" fill="#80a6dc"/><rect x="328.51" y="363.56" width="0.8" height="0.9" fill="#8eb0e0"/><rect x="304.57" y="367.30" width="0.8" height="0.9" fill="#98b8e4"/><rect x="307.74" y="378.84" width="0.8" height="0.9" fill="#98b8e4"/><rect x="324.16" y="368.59" width="0.8" height="0.9" fill="#4a9ab4"/><rect x="311.91" y="366.88" width="0.8" height="0.9" fill="#8eb0e0"/><rect x="312.75" y="374.91" width="0.8" height="0.9" fill="#80a6dc"/><rect x="328.24" y="363.24" width="0.8" height="0.9" fill="#80a6dc"/><rect x="305.16" y="367.41" width="0.8" height="0.9" fill="#98b8e4"/><rect x="322.16" y="365.28" width="0.8" height="0.9" fill="#80a6dc"/><rect x="315.58" y="364.08" width="0.8" height="0.9" fill="#5aa0b8"/><rect x="329.25" y="360.70" width="0.8" height="0.9" fill="#98b8e4"/><rect x="329.36" y="360.99" width="0.8" height="0.9" fill="#98b8e4"/><rect x="326.88" y="359.38" width="0.8" height="0.9" fill="#a0bee8"/><rect x="323.20" y="360.88" width="0.8" height="0.9" fill="#98b8e4"/><rect x="322.95" y="371.35" width="0.8" height="0.9" fill="#4a80c8"/><rect x="320.18" y="368.85" width="0.8" height="0.9" fill="#a0bee8"/><rect x="319.76" y="373.31" width="0.8" height="0.9" fill="#5a8ccc"/><rect x="315.07" y="370.19" width="0.8" height="0.9" fill="#4a80c8"/><rect x="312.22" y="366.58" width="0.8" height="0.9" fill="#4a9ab4"/><rect x="314.98" y="361.75" width="0.8" height="0.9" fill="#a0bee8"/><rect x="323.11" y="374.53" width="0.8" height="0.9" fill="#8eb0e0"/><rect x="319.75" y="381.53" width="0.8" height="0.9" fill="#a0bee8"/><rect x="321.43" y="372.30" width="0.8" height="0.9" fill="#b4cdee"/><rect x="317.72" y="368.72" width="0.8" height="0.9" fill="#5a8ccc"/><rect x="312.10" y="369.46" width="0.8" height="0.9" fill="#4a9ab4"/><rect x="323.52" y="366.85" width="0.8" height="0.9" fill="#80a6dc"/><rect x="317.85" y="369.87" width="0.8" height="0.9" fill="#b4cdee"/><rect x="320.06" y="362.22" width="0.8" height="0.9" fill="#6a98d4"/><rect x="309.79" y="358.85" width="0.8" height="0.9" fill="#80a6dc"/><rect x="318.20" y="359.12" width="0.8" height="0.9" fill="#b4cdee"/><rect x="310.54" y="374.68" width="0.8" height="0.9" fill="#80a6dc"/><rect x="317.74" y="365.21" width="0.8" height="0.9" fill="#98b8e4"/><rect x="320.45" y="376.42" width="0.8" height="0.9" fill="#8eb0e0"/><rect x="312.13" y="361.80" width="0.8" height="0.9" fill="#8eb0e0"/><rect x="308.28" y="367.46" width="0.8" height="0.9" fill="#80a6dc"/><rect x="322.96" y="362.38" width="0.8" height="0.9" fill="#4a9ab4"/><rect x="315.40" y="365.71" width="0.8" height="0.9" fill="#5a8ccc"/><rect x="317.16" y="372.59" width="0.8" height="0.9" fill="#8eb0e0"/><rect x="315.72" y="367.63" width="0.8" height="0.9" fill="#4a80c8"/><rect x="323.57" y="370.54" width="0.8" height="0.9" fill="#8eb0e0"/><rect x="307.25" y="375.49" width="0.8" height="0.9" fill="#8eb0e0"/><rect x="323.60" y="368.43" width="0.8" height="0.9" fill="#4a9ab4"/><rect x="307.91" y="369.08" width="0.8" height="0.9" fill="#a0bee8"/><rect x="321.87" y="369.67" width="0.8" height="0.9" fill="#8eb0e0"/><rect x="328.75" y="360.29" width="0.8" height="0.9" fill="#a0bee8"/><rect x="315.22" y="374.61" width="0.8" height="0.9" fill="#98b8e4"/><rect x="315.70" y="364.85" width="0.8" height="0.9" fill="#b4cdee"/><rect x="327.43" y="362.95" width="0.8" height="0.9" fill="#8eb0e0"/><rect x="312.48" y="361.04" width="0.8" height="0.9" fill="#80a6dc"/><rect x="320.72" y="360.79" width="0.8" height="0.9" fill="#80a6dc"/><rect x="317.38" y="370.79" width="0.8" height="0.9" fill="#98b8e4"/><rect x="305.13" y="369.54" width="0.8" height="0.9" fill="#98b8e4"/><rect x="309.55" y="364.32" width="0.8" height="0.9" fill="#a0bee8"/><rect x="317.49" y="364.87" width="0.8" height="0.9" fill="#6a98d4"/><rect x="312.10" y="370.95" width="0.8" height="0.9" fill="#80a6dc"/><rect x="326.59" y="372.65" width="0.8" height="0.9" fill="#98b8e4"/><rect x="315.55" y="367.91" width="0.8" height="0.9" fill="#4a9ab4"/><rect x="307.86" y="373.54" width="0.8" height="0.9" fill="#8eb0e0"/><rect x="323.68" y="372.04" width="0.8" height="0.9" fill="#98b8e4"/><rect x="328.24" y="375.82" width="0.8" height="0.9" fill="#98b8e4"/><rect x="319.35" y="362.58" width="0.8" height="0.9" fill="#5aa0b8"/><rect x="304.80" y="374.83" width="0.8" height="0.9" fill="#a0bee8"/><rect x="307.85" y="362.94" width="0.8" height="0.9" fill="#98b8e4"/><rect x="315.69" y="368.46" width="0.8" height="0.9" fill="#98b8e4"/><rect x="305.14" y="368.82" width="0.8" height="0.9" fill="#80a6dc"/><rect x="319.57" y="370.43" width="0.8" height="0.9" fill="#6a98d4"/><rect x="320.16" y="362.95" width="0.8" height="0.9" fill="#98b8e4"/><rect x="323.88" y="362.42" width="0.8" height="0.9" fill="#5a8ccc"/><rect x="319.24" y="371.83" width="0.8" height="0.9" fill="#5a8ccc"/><rect x="312.99" y="374.69" width="0.8" height="0.9" fill="#8eb0e0"/><rect x="312.29" y="368.43" width="0.8" height="0.9" fill="#6a98d4"/><rect x="312.27" y="363.37" width="0.8" height="0.9" fill="#b4cdee"/><rect x="321.77" y="371.97" width="0.8" height="0.9" fill="#8eb0e0"/><rect x="312.94" y="362.46" width="0.8" height="0.9" fill="#8eb0e0"/><rect x="326.29" y="367.07" width="0.8" height="0.9" fill="#6a98d4"/><rect x="315.76" y="359.72" width="0.8" height="0.9" fill="#80a6dc"/><rect x="320.15" y="362.35" width="0.8" height="0.9" fill="#5aa0b8"/><rect x="326.67" y="384.50" width="0.8" height="0.9" fill="#80a6dc"/><rect x="305.11" y="371.65" width="0.8" height="0.9" fill="#80a6dc"/><rect x="328.83" y="367.51" width="0.8" height="0.9" fill="#a0bee8"/><rect x="322.16" y="368.88" width="0.8" height="0.9" fill="#a0bee8"/><rect x="319.52" y="371.35" width="0.8" height="0.9" fill="#5a8ccc"/><rect x="315.27" y="371.23" width="0.8" height="0.9" fill="#a0bee8"/><rect x="314.81" y="370.43" width="0.8" height="0.9" fill="#a0bee8"/><rect x="307.46" y="365.29" width="0.8" height="0.9" fill="#8eb0e0"/><rect x="306.89" y="366.73" width="0.8" height="0.9" fill="#80a6dc"/><rect x="327.00" y="360.04" width="0.8" height="0.9" fill="#b4cdee"/><rect x="315.13" y="373.05" width="0.8" height="0.9" fill="#b4cdee"/><rect x="312.25" y="366.09" width="0.8" height="0.9" fill="#80a6dc"/><rect x="317.39" y="359.33" width="0.8" height="0.9" fill="#80a6dc"/><rect x="325.76" y="371.18" width="0.8" height="0.9" fill="#a0bee8"/><rect x="311.43" y="370.88" width="0.8" height="0.9" fill="#80a6dc"/><rect x="319.93" y="366.40" width="0.8" height="0.9" fill="#4a80c8"/><rect x="320.16" y="361.89" width="0.8" height="0.9" fill="#5a8ccc"/><rect x="321.34" y="365.66" width="0.8" height="0.9" fill="#4a9ab4"/><rect x="310.54" y="369.70" width="0.8" height="0.9" fill="#98b8e4"/><rect x="319.69" y="375.92" width="0.8" height="0.9" fill="#b4cdee"/><rect x="317.38" y="365.95" width="0.8" height="0.9" fill="#80a6dc"/><rect x="319.70" y="362.56" width="0.8" height="0.9" fill="#4a80c8"/><rect x="323.19" y="372.10" width="0.8" height="0.9" fill="#98b8e4"/><rect x="323.06" y="362.93" width="0.8" height="0.9" fill="#b4cdee"/><rect x="315.86" y="369.37" width="0.8" height="0.9" fill="#6a98d4"/><rect x="315.47" y="368.32" width="0.8" height="0.9" fill="#6a98d4"/><rect x="308.12" y="381.60" width="0.8" height="0.9" fill="#b4cdee"/><rect x="319.47" y="372.15" width="0.8" height="0.9" fill="#98b8e4"/><rect x="315.89" y="366.13" width="0.8" height="0.9" fill="#4a80c8"/><rect x="330.13" y="365.15" width="0.8" height="0.9" fill="#80a6dc"/><rect x="317.90" y="365.37" width="0.8" height="0.9" fill="#5aa0b8"/><rect x="315.38" y="369.81" width="0.8" height="0.9" fill="#5aa0b8"/><rect x="318.57" y="372.31" width="0.8" height="0.9" fill="#b4cdee"/><rect x="319.38" y="371.84" width="0.8" height="0.9" fill="#5a8ccc"/><rect x="312.54" y="363.39" width="0.8" height="0.9" fill="#b4cdee"/><rect x="322.08" y="374.37" width="0.8" height="0.9" fill="#b4cdee"/><rect x="307.91" y="371.55" width="0.8" height="0.9" fill="#80a6dc"/><rect x="328.46" y="370.43" width="0.8" height="0.9" fill="#b4cdee"/><rect x="315.61" y="359.13" width="0.8" height="0.9" fill="#b4cdee"/><rect x="315.81" y="363.55" width="0.8" height="0.9" fill="#5aa0b8"/><rect x="312.62" y="368.86" width="0.8" height="0.9" fill="#5aa0b8"/><rect x="328.17" y="364.14" width="0.8" height="0.9" fill="#98b8e4"/><rect x="315.29" y="363.60" width="0.8" height="0.9" fill="#5aa0b8"/><rect x="323.78" y="365.19" width="0.8" height="0.9" fill="#6a98d4"/><rect x="329.36" y="368.66" width="0.8" height="0.9" fill="#98b8e4"/><rect x="322.88" y="379.04" width="0.8" height="0.9" fill="#80a6dc"/><rect x="314.88" y="360.16" width="0.8" height="0.9" fill="#b4cdee"/><rect x="326.10" y="384.26" width="0.8" height="0.9" fill="#b4cdee"/><rect x="321.85" y="372.10" width="0.8" height="0.9" fill="#80a6dc"/><rect x="313.09" y="370.21" width="0.8" height="0.9" fill="#4a9ab4"/><rect x="308.11" y="367.20" width="0.8" height="0.9" fill="#b4cdee"/><rect x="329.64" y="373.54" width="0.8" height="0.9" fill="#a0bee8"/><rect x="323.86" y="371.86" width="0.8" height="0.9" fill="#6a98d4"/><rect x="331.05" y="365.68" width="0.8" height="0.9" fill="#a0bee8"/><rect x="311.02" y="363.61" width="0.8" height="0.9" fill="#a0bee8"/><rect x="310.15" y="365.54" width="0.8" height="0.9" fill="#a0bee8"/><rect x="326.10" y="361.33" width="0.8" height="0.9" fill="#80a6dc"/><rect x="320.55" y="368.35" width="0.8" height="0.9" fill="#5aa0b8"/><rect x="320.38" y="368.83" width="0.8" height="0.9" fill="#5aa0b8"/><rect x="319.92" y="371.26" width="0.8" height="0.9" fill="#4a9ab4"/><rect x="330.60" y="368.00" width="0.8" height="0.9" fill="#b4cdee"/><rect x="326.73" y="363.28" width="0.8" height="0.9" fill="#8eb0e0"/><rect x="323.36" y="371.29" width="0.8" height="0.9" fill="#4a80c8"/><rect x="310.19" y="368.63" width="0.8" height="0.9" fill="#98b8e4"/><rect x="319.13" y="360.19" width="0.8" height="0.9" fill="#a0bee8"/><rect x="314.48" y="372.82" width="0.8" height="0.9" fill="#a0bee8"/><rect x="312.65" y="370.39" width="0.8" height="0.9" fill="#5aa0b8"/><rect x="317.17" y="362.14" width="0.8" height="0.9" fill="#6a98d4"/><rect x="304.03" y="371.30" width="0.8" height="0.9" fill="#b4cdee"/><rect x="310.48" y="376.79" width="0.8" height="0.9" fill="#80a6dc"/><rect x="326.93" y="359.65" width="0.8" height="0.9" fill="#8eb0e0"/><rect x="320.45" y="376.32" width="0.8" height="0.9" fill="#80a6dc"/><rect x="318.98" y="375.91" width="0.8" height="0.9" fill="#a0bee8"/><rect x="322.56" y="376.90" width="0.8" height="0.9" fill="#8eb0e0"/><rect x="315.87" y="368.10" width="0.8" height="0.9" fill="#b4cdee"/><rect x="316.97" y="368.52" width="0.8" height="0.9" fill="#6a98d4"/><rect x="326.65" y="361.59" width="0.8" height="0.9" fill="#98b8e4"/><rect x="318.58" y="373.76" width="0.8" height="0.9" fill="#98b8e4"/><rect x="316.04" y="362.75" width="0.8" height="0.9" fill="#5a8ccc"/><rect x="319.95" y="363.00" width="0.8" height="0.9" fill="#4a80c8"/><rect x="327.08" y="375.26" width="0.8" height="0.9" fill="#98b8e4"/><rect x="306.39" y="366.09" width="0.8" height="0.9" fill="#a0bee8"/><rect x="307.40" y="367.22" width="0.8" height="0.9" fill="#b4cdee"/><rect x="319.48" y="368.09" width="0.8" height="0.9" fill="#80a6dc"/><rect x="326.42" y="367.61" width="0.8" height="0.9" fill="#80a6dc"/><rect x="324.06" y="365.14" width="0.8" height="0.9" fill="#6a98d4"/><rect x="312.23" y="361.04" width="0.8" height="0.9" fill="#98b8e4"/><rect x="318.96" y="380.87" width="0.8" height="0.9" fill="#b4cdee"/><rect x="323.22" y="361.98" width="0.8" height="0.9" fill="#98b8e4"/><rect x="315.80" y="363.05" width="0.8" height="0.9" fill="#5a8ccc"/><rect x="319.72" y="364.52" width="0.8" height="0.9" fill="#4a9ab4"/><rect x="323.05" y="365.83" width="0.8" height="0.9" fill="#5a8ccc"/><rect x="331.05" y="362.09" width="0.8" height="0.9" fill="#98b8e4"/><rect x="326.53" y="366.30" width="0.8" height="0.9" fill="#8eb0e0"/><rect x="319.69" y="359.19" width="0.8" height="0.9" fill="#8eb0e0"/><rect x="323.34" y="375.08" width="0.8" height="0.9" fill="#98b8e4"/><rect x="321.35" y="365.95" width="0.8" height="0.9" fill="#98b8e4"/><rect x="319.36" y="360.08" width="0.8" height="0.9" fill="#b4cdee"/><rect x="307.10" y="367.12" width="0.8" height="0.9" fill="#8eb0e0"/><rect x="312.66" y="368.03" width="0.8" height="0.9" fill="#6a98d4"/><rect x="319.61" y="363.26" width="0.8" height="0.9" fill="#5a8ccc"/><rect x="327.23" y="369.89" width="0.8" height="0.9" fill="#98b8e4"/><rect x="317.36" y="363.99" width="0.8" height="0.9" fill="#8eb0e0"/><rect x="326.68" y="380.22" width="0.8" height="0.9" fill="#8eb0e0"/><rect x="318.73" y="364.68" width="0.8" height="0.9" fill="#4a80c8"/><rect x="312.42" y="365.58" width="0.8" height="0.9" fill="#b4cdee"/><rect x="327.78" y="373.97" width="0.8" height="0.9" fill="#98b8e4"/><rect x="327.77" y="366.46" width="0.8" height="0.9" fill="#a0bee8"/><rect x="323.69" y="367.83" width="0.8" height="0.9" fill="#5a8ccc"/><rect x="313.05" y="376.96" width="0.8" height="0.9" fill="#98b8e4"/><rect x="314.92" y="368.36" width="0.8" height="0.9" fill="#98b8e4"/><rect x="304.54" y="376.16" width="0.8" height="0.9" fill="#80a6dc"/><rect x="331.49" y="361.00" width="0.8" height="0.9" fill="#b4cdee"/><rect x="321.73" y="361.64" width="0.8" height="0.9" fill="#4a80c8"/><rect x="310.89" y="360.67" width="0.8" height="0.9" fill="#80a6dc"/><rect x="320.99" y="369.74" width="0.8" height="0.9" fill="#5a8ccc"/><rect x="320.08" y="371.49" width="0.8" height="0.9" fill="#98b8e4"/><rect x="321.21" y="363.01" width="0.8" height="0.9" fill="#8eb0e0"/><rect x="319.89" y="366.01" width="0.8" height="0.9" fill="#4a9ab4"/><rect x="315.58" y="368.15" width="0.8" height="0.9" fill="#b4cdee"/><rect x="319.51" y="377.71" width="0.8" height="0.9" fill="#8eb0e0"/><rect x="316.46" y="364.53" width="0.8" height="0.9" fill="#4a9ab4"/><rect x="329.00" y="366.33" width="0.8" height="0.9" fill="#8eb0e0"/><rect x="322.62" y="369.75" width="0.8" height="0.9" fill="#4a80c8"/><rect x="315.93" y="366.82" width="0.8" height="0.9" fill="#a0bee8"/><rect x="322.99" y="364.98" width="0.8" height="0.9" fill="#a0bee8"/><rect x="319.46" y="368.49" width="0.8" height="0.9" fill="#a0bee8"/><rect x="321.79" y="365.68" width="0.8" height="0.9" fill="#80a6dc"/><rect x="324.44" y="371.50" width="0.8" height="0.9" fill="#98b8e4"/><rect x="315.56" y="373.66" width="0.8" height="0.9" fill="#98b8e4"/><rect x="315.36" y="375.67" width="0.8" height="0.9" fill="#80a6dc"/><rect x="326.80" y="374.79" width="0.8" height="0.9" fill="#a0bee8"/><rect x="321.46" y="362.39" width="0.8" height="0.9" fill="#98b8e4"/><rect x="315.78" y="367.59" width="0.8" height="0.9" fill="#5a8ccc"/><rect x="310.42" y="370.43" width="0.8" height="0.9" fill="#80a6dc"/><rect x="316.45" y="375.00" width="0.8" height="0.9" fill="#98b8e4"/><rect x="306.95" y="372.89" width="0.8" height="0.9" fill="#a0bee8"/><rect x="307.81" y="376.87" width="0.8" height="0.9" fill="#80a6dc"/><rect x="323.42" y="362.44" width="0.8" height="0.9" fill="#b4cdee"/><rect x="316.73" y="371.48" width="0.8" height="0.9" fill="#5aa0b8"/><rect x="323.43" y="366.79" width="0.8" height="0.9" fill="#b4cdee"/><rect x="317.78" y="367.70" width="0.8" height="0.9" fill="#6a98d4"/><rect x="319.96" y="364.65" width="0.8" height="0.9" fill="#4a9ab4"/><rect x="308.14" y="361.41" width="0.8" height="0.9" fill="#b4cdee"/><rect x="308.13" y="369.96" width="0.8" height="0.9" fill="#80a6dc"/><rect x="310.28" y="364.62" width="0.8" height="0.9" fill="#8eb0e0"/><rect x="313.04" y="362.65" width="0.8" height="0.9" fill="#8eb0e0"/><rect x="317.61" y="359.86" width="0.8" height="0.9" fill="#b4cdee"/><rect x="311.20" y="364.53" width="0.8" height="0.9" fill="#a0bee8"/><rect x="310.70" y="367.37" width="0.8" height="0.9" fill="#98b8e4"/><rect x="307.25" y="366.15" width="0.8" height="0.9" fill="#8eb0e0"/><rect x="318.63" y="380.46" width="0.8" height="0.9" fill="#b4cdee"/><rect x="326.13" y="365.75" width="0.8" height="0.9" fill="#5a8ccc"/><rect x="323.23" y="365.90" width="0.8" height="0.9" fill="#98b8e4"/><rect x="305.36" y="368.65" width="0.8" height="0.9" fill="#a0bee8"/><rect x="316.35" y="368.54" width="0.8" height="0.9" fill="#b4cdee"/><rect x="323.65" y="365.63" width="0.8" height="0.9" fill="#a0bee8"/><rect x="318.94" y="365.04" width="0.8" height="0.9" fill="#a0bee8"/><rect x="327.51" y="368.12" width="0.8" height="0.9" fill="#a0bee8"/><rect x="312.48" y="370.37" width="0.8" height="0.9" fill="#b4cdee"/><rect x="327.78" y="368.02" width="0.8" height="0.9" fill="#8eb0e0"/><rect x="320.36" y="373.10" width="0.8" height="0.9" fill="#a0bee8"/><rect x="307.27" y="372.55" width="0.8" height="0.9" fill="#98b8e4"/><rect x="320.61" y="371.67" width="0.8" height="0.9" fill="#5aa0b8"/><rect x="311.95" y="370.25" width="0.8" height="0.9" fill="#98b8e4"/><rect x="313.30" y="360.51" width="0.8" height="0.9" fill="#a0bee8"/><rect x="320.79" y="361.03" width="0.8" height="0.9" fill="#5aa0b8"/><rect x="325.28" y="367.64" width="0.8" height="0.9" fill="#4a80c8"/><rect x="316.55" y="366.18" width="0.8" height="0.9" fill="#80a6dc"/><rect x="326.05" y="365.89" width="0.8" height="0.9" fill="#6a98d4"/><rect x="312.07" y="358.74" width="0.8" height="0.9" fill="#a0bee8"/><rect x="318.56" y="376.70" width="0.8" height="0.9" fill="#80a6dc"/><rect x="310.36" y="374.39" width="0.8" height="0.9" fill="#80a6dc"/><rect x="319.40" y="363.66" width="0.8" height="0.9" fill="#a0bee8"/><rect x="316.89" y="373.24" width="0.8" height="0.9" fill="#b4cdee"/><rect x="321.75" y="364.89" width="0.8" height="0.9" fill="#4a80c8"/><rect x="329.00" y="367.30" width="0.8" height="0.9" fill="#8eb0e0"/><rect x="316.08" y="372.85" width="0.8" height="0.9" fill="#80a6dc"/><rect x="305.18" y="364.08" width="0.8" height="0.9" fill="#a0bee8"/><rect x="316.29" y="359.64" width="0.8" height="0.9" fill="#8eb0e0"/><rect x="317.80" y="370.17" width="0.8" height="0.9" fill="#4a80c8"/><rect x="315.82" y="367.55" width="0.8" height="0.9" fill="#6a98d4"/><rect x="320.16" y="368.48" width="0.8" height="0.9" fill="#80a6dc"/><rect x="322.18" y="365.97" width="0.8" height="0.9" fill="#98b8e4"/><rect x="326.40" y="371.05" width="0.8" height="0.9" fill="#b4cdee"/><rect x="315.15" y="378.13" width="0.8" height="0.9" fill="#8eb0e0"/><rect x="317.63" y="361.18" width="0.8" height="0.9" fill="#a0bee8"/><rect x="326.15" y="366.69" width="0.8" height="0.9" fill="#5a8ccc"/><rect x="315.26" y="370.45" width="0.8" height="0.9" fill="#b4cdee"/><rect x="326.37" y="365.58" width="0.8" height="0.9" fill="#80a6dc"/><rect x="319.93" y="358.72" width="0.8" height="0.9" fill="#98b8e4"/><rect x="313.20" y="368.11" width="0.8" height="0.9" fill="#5aa0b8"/><rect x="313.39" y="366.83" width="0.8" height="0.9" fill="#4a80c8"/><rect x="312.01" y="367.48" width="0.8" height="0.9" fill="#4a80c8"/><rect x="312.97" y="371.09" width="0.8" height="0.9" fill="#b4cdee"/><rect x="323.67" y="367.72" width="0.8" height="0.9" fill="#5a8ccc"/><rect x="315.34" y="369.03" width="0.8" height="0.9" fill="#5aa0b8"/><rect x="328.72" y="368.58" width="0.8" height="0.9" fill="#b4cdee"/><rect x="320.18" y="366.68" width="0.8" height="0.9" fill="#b4cdee"/><rect x="320.02" y="377.39" width="0.8" height="0.9" fill="#80a6dc"/><rect x="330.90" y="366.63" width="0.8" height="0.9" fill="#98b8e4"/><rect x="323.01" y="378.23" width="0.8" height="0.9" fill="#a0bee8"/><rect x="310.78" y="380.26" width="0.8" height="0.9" fill="#a0bee8"/><rect x="315.04" y="365.70" width="0.8" height="0.9" fill="#5a8ccc"/><rect x="315.98" y="364.55" width="0.8" height="0.9" fill="#5aa0b8"/><rect x="315.93" y="360.19" width="0.8" height="0.9" fill="#8eb0e0"/><rect x="316.47" y="377.40" width="0.8" height="0.9" fill="#b4cdee"/><rect x="319.49" y="374.64" width="0.8" height="0.9" fill="#80a6dc"/><rect x="329.08" y="365.69" width="0.8" height="0.9" fill="#98b8e4"/><rect x="308.28" y="375.52" width="0.8" height="0.9" fill="#b4cdee"/><rect x="329.07" y="368.19" width="0.8" height="0.9" fill="#a0bee8"/><rect x="315.70" y="361.40" width="0.8" height="0.9" fill="#4a9ab4"/><rect x="322.13" y="360.44" width="0.8" height="0.9" fill="#98b8e4"/><rect x="316.24" y="370.57" width="0.8" height="0.9" fill="#4a9ab4"/><rect x="309.78" y="362.21" width="0.8" height="0.9" fill="#b4cdee"/><rect x="321.36" y="376.51" width="0.8" height="0.9" fill="#8eb0e0"/><rect x="320.92" y="369.88" width="0.8" height="0.9" fill="#80a6dc"/><rect x="326.73" y="361.45" width="0.8" height="0.9" fill="#8eb0e0"/><rect x="322.06" y="370.39" width="0.8" height="0.9" fill="#6a98d4"/><rect x="331.91" y="368.45" width="0.8" height="0.9" fill="#98b8e4"/><rect x="319.64" y="361.82" width="0.8" height="0.9" fill="#4a80c8"/><rect x="310.82" y="365.35" width="0.8" height="0.9" fill="#98b8e4"/><rect x="317.11" y="359.14" width="0.8" height="0.9" fill="#b4cdee"/><rect x="322.19" y="359.32" width="0.8" height="0.9" fill="#80a6dc"/><rect x="324.61" y="369.62" width="0.8" height="0.9" fill="#6a98d4"/><rect x="317.90" y="369.83" width="0.8" height="0.9" fill="#6a98d4"/><rect x="326.46" y="361.32" width="0.8" height="0.9" fill="#8eb0e0"/><rect x="320.13" y="365.47" width="0.8" height="0.9" fill="#4a80c8"/><rect x="323.48" y="363.72" width="0.8" height="0.9" fill="#80a6dc"/><rect x="316.81" y="377.48" width="0.8" height="0.9" fill="#8eb0e0"/><rect x="327.74" y="362.04" width="0.8" height="0.9" fill="#b4cdee"/><rect x="327.96" y="369.18" width="0.8" height="0.9" fill="#8eb0e0"/><rect x="313.39" y="375.34" width="0.8" height="0.9" fill="#8eb0e0"/><rect x="319.92" y="369.91" width="0.8" height="0.9" fill="#4a9ab4"/><rect x="329.93" y="360.13" width="0.8" height="0.9" fill="#a0bee8"/><rect x="338.62" y="383.96" width="0.8" height="0.8" fill="#b0c8ec"/><rect x="343.67" y="384.12" width="0.8" height="0.8" fill="#b0c8ec"/><rect x="337.37" y="378.16" width="0.8" height="0.8" fill="#b0c8ec"/><rect x="337.38" y="374.82" width="0.8" height="0.8" fill="#b0c8ec"/><rect x="336.35" y="384.09" width="0.8" height="0.8" fill="#b0c8ec"/><rect x="335.60" y="385.30" width="0.8" height="0.8" fill="#b0c8ec"/><rect x="338.70" y="377.34" width="0.8" height="0.8" fill="#b0c8ec"/><rect x="341.10" y="382.34" width="0.8" height="0.8" fill="#b0c8ec"/><rect x="335.40" y="378.48" width="0.8" height="0.8" fill="#b0c8ec"/><rect x="340.00" y="385.76" width="0.8" height="0.8" fill="#b0c8ec"/><rect x="334.35" y="376.98" width="0.8" height="0.8" fill="#b0c8ec"/><rect x="338.79" y="380.50" width="0.8" height="0.8" fill="#b0c8ec"/><rect x="334.26" y="380.44" width="0.8" height="0.8" fill="#b0c8ec"/><rect x="339.53" y="377.22" width="0.8" height="0.8" fill="#b0c8ec"/><rect x="336.20" y="381.07" width="0.8" height="0.8" fill="#b0c8ec"/><rect x="335.15" y="382.67" width="0.8" height="0.8" fill="#b0c8ec"/><rect x="340.71" y="385.69" width="0.8" height="0.8" fill="#b0c8ec"/><rect x="342.12" y="383.66" width="0.8" height="0.8" fill="#b0c8ec"/><rect x="346.03" y="378.48" width="0.8" height="0.8" fill="#b0c8ec"/><rect x="334.98" y="382.03" width="0.8" height="0.8" fill="#b0c8ec"/><rect x="336.40" y="382.30" width="0.8" height="0.8" fill="#b0c8ec"/><rect x="335.66" y="380.18" width="0.8" height="0.8" fill="#b0c8ec"/><rect x="337.82" y="379.66" width="0.8" height="0.8" fill="#b0c8ec"/><rect x="334.55" y="385.49" width="0.8" height="0.8" fill="#b0c8ec"/><rect x="335.30" y="378.04" width="0.8" height="0.8" fill="#b0c8ec"/><rect x="336.69" y="380.24" width="0.8" height="0.8" fill="#b0c8ec"/><rect x="338.83" y="373.27" width="0.8" height="0.8" fill="#b0c8ec"/><rect x="336.92" y="383.84" width="0.8" height="0.8" fill="#b0c8ec"/><rect x="340.37" y="383.90" width="0.8" height="0.8" fill="#b0c8ec"/><rect x="338.70" y="368.34" width="0.8" height="0.8" fill="#b0c8ec"/>
<line x1="302.90" y1="382.50" x2="304.90" y2="382.50" stroke="#5a88cc" stroke-width="0.9"/>
<path d="M336.20000000000005 376.2L339.80000000000007 384.8L333.00000000000006 384.8Z" fill="#5a8ad0" stroke="#7aa2dc" stroke-width="0.6"/>
<ellipse cx="336.20000000000005" cy="382.4" rx="2.3" ry="2.2" fill="#3cae5a"/>
<ellipse cx="336.20000000000005" cy="382.5" rx="1.35" ry="1.3" fill="#a8cc3a"/>
<ellipse cx="336.20000000000005" cy="382.5" rx="0.8" ry="0.75" fill="#f07028"/>
<rect x="301.4" y="356.3" width="32.200000000000045" height="29.899999999999977" fill="none" stroke="#8a7070" stroke-width="0.9"/>
<rect x="296.4" y="327.5" width="60.400000000000034" height="59.30000000000001" fill="none" stroke="#111" stroke-width="1.1"/>
<line x1="293.20" y1="386.50" x2="296.40" y2="386.50" stroke="#777" stroke-width="0.7"/>
<line x1="294.60" y1="384.50" x2="296.40" y2="384.50" stroke="#333" stroke-width="0.7"/>
<line x1="294.60" y1="382.50" x2="296.40" y2="382.50" stroke="#333" stroke-width="0.7"/>
<line x1="294.60" y1="380.50" x2="296.40" y2="380.50" stroke="#333" stroke-width="0.7"/>
<line x1="294.60" y1="377.50" x2="296.40" y2="377.50" stroke="#333" stroke-width="0.7"/>
<line x1="293.20" y1="375.50" x2="296.40" y2="375.50" stroke="#777" stroke-width="0.7"/>
<line x1="294.60" y1="373.50" x2="296.40" y2="373.50" stroke="#333" stroke-width="0.7"/>
<line x1="294.60" y1="370.50" x2="296.40" y2="370.50" stroke="#333" stroke-width="0.7"/>
<line x1="294.60" y1="368.50" x2="296.40" y2="368.50" stroke="#333" stroke-width="0.7"/>
<line x1="294.60" y1="366.50" x2="296.40" y2="366.50" stroke="#333" stroke-width="0.7"/>
<line x1="293.20" y1="364.50" x2="296.40" y2="364.50" stroke="#777" stroke-width="0.7"/>
<line x1="294.60" y1="361.50" x2="296.40" y2="361.50" stroke="#333" stroke-width="0.7"/>
<line x1="294.60" y1="359.50" x2="296.40" y2="359.50" stroke="#333" stroke-width="0.7"/>
<line x1="294.60" y1="357.50" x2="296.40" y2="357.50" stroke="#333" stroke-width="0.7"/>
<line x1="294.60" y1="355.50" x2="296.40" y2="355.50" stroke="#333" stroke-width="0.7"/>
<line x1="293.20" y1="352.50" x2="296.40" y2="352.50" stroke="#777" stroke-width="0.7"/>
<line x1="294.60" y1="350.50" x2="296.40" y2="350.50" stroke="#333" stroke-width="0.7"/>
<line x1="294.60" y1="348.50" x2="296.40" y2="348.50" stroke="#333" stroke-width="0.7"/>
<line x1="294.60" y1="346.50" x2="296.40" y2="346.50" stroke="#333" stroke-width="0.7"/>
<line x1="294.60" y1="343.50" x2="296.40" y2="343.50" stroke="#333" stroke-width="0.7"/>
<line x1="293.20" y1="341.50" x2="296.40" y2="341.50" stroke="#777" stroke-width="0.7"/>
<line x1="294.60" y1="339.50" x2="296.40" y2="339.50" stroke="#333" stroke-width="0.7"/>
<line x1="294.60" y1="337.50" x2="296.40" y2="337.50" stroke="#333" stroke-width="0.7"/>
<line x1="294.60" y1="334.50" x2="296.40" y2="334.50" stroke="#333" stroke-width="0.7"/>
<line x1="294.60" y1="332.50" x2="296.40" y2="332.50" stroke="#333" stroke-width="0.7"/>
<line x1="293.20" y1="330.50" x2="296.40" y2="330.50" stroke="#777" stroke-width="0.7"/>
<line x1="298.50" y1="386.80" x2="298.50" y2="389.00" stroke="#222" stroke-width="0.8"/>
<line x1="301.50" y1="386.80" x2="301.50" y2="389.00" stroke="#222" stroke-width="0.8"/>
<line x1="304.50" y1="386.80" x2="304.50" y2="389.00" stroke="#222" stroke-width="0.8"/>
<line x1="308.50" y1="386.80" x2="308.50" y2="389.00" stroke="#222" stroke-width="0.8"/>
<line x1="311.50" y1="386.80" x2="311.50" y2="390.20" stroke="#222" stroke-width="0.7"/>
<line x1="315.50" y1="386.80" x2="315.50" y2="389.20" stroke="#222" stroke-width="0.7"/>
<line x1="317.50" y1="386.80" x2="317.50" y2="389.20" stroke="#222" stroke-width="0.7"/>
<line x1="318.50" y1="386.80" x2="318.50" y2="389.20" stroke="#222" stroke-width="0.7"/>
<line x1="319.50" y1="386.80" x2="319.50" y2="389.20" stroke="#222" stroke-width="0.7"/>
<line x1="320.50" y1="386.80" x2="320.50" y2="389.20" stroke="#222" stroke-width="0.7"/>
<line x1="321.50" y1="386.80" x2="321.50" y2="389.20" stroke="#222" stroke-width="0.7"/>
<line x1="322.50" y1="386.80" x2="322.50" y2="389.20" stroke="#222" stroke-width="0.7"/>
<line x1="322.50" y1="386.80" x2="322.50" y2="389.20" stroke="#222" stroke-width="0.7"/>
<rect x="312.90" y="389.00" width="9.50" height="1.3" fill="#666" opacity="0.6"/>
<line x1="323.50" y1="386.80" x2="323.50" y2="390.20" stroke="#222" stroke-width="0.7"/>
<line x1="327.50" y1="386.80" x2="327.50" y2="389.20" stroke="#222" stroke-width="0.7"/>
<line x1="329.50" y1="386.80" x2="329.50" y2="389.20" stroke="#222" stroke-width="0.7"/>
<line x1="330.50" y1="386.80" x2="330.50" y2="389.20" stroke="#222" stroke-width="0.7"/>
<line x1="331.50" y1="386.80" x2="331.50" y2="389.20" stroke="#222" stroke-width="0.7"/>
<line x1="332.50" y1="386.80" x2="332.50" y2="389.20" stroke="#222" stroke-width="0.7"/>
<line x1="333.50" y1="386.80" x2="333.50" y2="389.20" stroke="#222" stroke-width="0.7"/>
<line x1="334.50" y1="386.80" x2="334.50" y2="389.20" stroke="#222" stroke-width="0.7"/>
<line x1="334.50" y1="386.80" x2="334.50" y2="389.20" stroke="#222" stroke-width="0.7"/>
<rect x="324.90" y="389.00" width="9.50" height="1.3" fill="#666" opacity="0.6"/>
<line x1="335.50" y1="386.80" x2="335.50" y2="390.20" stroke="#222" stroke-width="0.7"/>
<line x1="339.50" y1="386.80" x2="339.50" y2="389.20" stroke="#222" stroke-width="0.7"/>
<line x1="341.50" y1="386.80" x2="341.50" y2="389.20" stroke="#222" stroke-width="0.7"/>
<line x1="342.50" y1="386.80" x2="342.50" y2="389.20" stroke="#222" stroke-width="0.7"/>
<line x1="343.50" y1="386.80" x2="343.50" y2="389.20" stroke="#222" stroke-width="0.7"/>
<line x1="344.50" y1="386.80" x2="344.50" y2="389.20" stroke="#222" stroke-width="0.7"/>
<line x1="345.50" y1="386.80" x2="345.50" y2="389.20" stroke="#222" stroke-width="0.7"/>
<line x1="346.50" y1="386.80" x2="346.50" y2="389.20" stroke="#222" stroke-width="0.7"/>
<line x1="346.50" y1="386.80" x2="346.50" y2="389.20" stroke="#222" stroke-width="0.7"/>
<rect x="336.90" y="389.00" width="9.50" height="1.3" fill="#666" opacity="0.6"/>
<line x1="347.50" y1="386.80" x2="347.50" y2="390.20" stroke="#222" stroke-width="0.7"/>
<line x1="351.50" y1="386.80" x2="351.50" y2="389.20" stroke="#222" stroke-width="0.7"/>
<line x1="353.50" y1="386.80" x2="353.50" y2="389.20" stroke="#222" stroke-width="0.7"/>
<line x1="354.50" y1="386.80" x2="354.50" y2="389.20" stroke="#222" stroke-width="0.7"/>
<rect x="348.90" y="389.00" width="7.90" height="1.3" fill="#666" opacity="0.6"/>
<text x="317.50" y="354.30" font-size="8.3" text-anchor="middle" font-weight="normal" fill="#222" textLength="15.80" lengthAdjust="spacingAndGlyphs">28.8</text>
<rect x="329.08" y="451.47" width="0.8" height="0.9" fill="#8eb0e0"/><rect x="316.29" y="461.16" width="0.8" height="0.9" fill="#80a6dc"/><rect x="312.43" y="453.59" width="0.8" height="0.9" fill="#b4cdee"/><rect x="318.71" y="461.72" width="0.8" height="0.9" fill="#98b8e4"/><rect x="315.93" y="452.40" width="0.8" height="0.9" fill="#4a9ab4"/><rect x="325.79" y="457.56" width="0.8" height="0.9" fill="#a0bee8"/><rect x="319.61" y="453.35" width="0.8" height="0.9" fill="#5a8ccc"/><rect x="319.18" y="457.38" width="0.8" height="0.9" fill="#b4cdee"/><rect x="323.63" y="446.94" width="0.8" height="0.9" fill="#b4cdee"/><rect x="317.07" y="450.85" width="0.8" height="0.9" fill="#98b8e4"/><rect x="319.83" y="444.06" width="0.8" height="0.9" fill="#b4cdee"/><rect x="326.11" y="453.89" width="0.8" height="0.9" fill="#b4cdee"/><rect x="317.79" y="457.07" width="0.8" height="0.9" fill="#a0bee8"/><rect x="326.09" y="445.55" width="0.8" height="0.9" fill="#b4cdee"/><rect x="316.63" y="449.74" width="0.8" height="0.9" fill="#6a98d4"/><rect x="319.18" y="448.23" width="0.8" height="0.9" fill="#b4cdee"/><rect x="320.30" y="448.90" width="0.8" height="0.9" fill="#4a9ab4"/><rect x="323.80" y="450.06" width="0.8" height="0.9" fill="#8eb0e0"/><rect x="320.30" y="454.41" width="0.8" height="0.9" fill="#8eb0e0"/><rect x="323.78" y="455.49" width="0.8" height="0.9" fill="#8eb0e0"/><rect x="317.67" y="450.68" width="0.8" height="0.9" fill="#5a8ccc"/><rect x="312.67" y="452.51" width="0.8" height="0.9" fill="#4a80c8"/><rect x="323.92" y="452.68" width="0.8" height="0.9" fill="#a0bee8"/><rect x="323.47" y="452.05" width="0.8" height="0.9" fill="#a0bee8"/><rect x="310.89" y="453.28" width="0.8" height="0.9" fill="#98b8e4"/><rect x="319.59" y="447.42" width="0.8" height="0.9" fill="#4a9ab4"/><rect x="321.21" y="452.79" width="0.8" height="0.9" fill="#80a6dc"/><rect x="327.76" y="453.62" width="0.8" height="0.9" fill="#a0bee8"/><rect x="319.72" y="445.64" width="0.8" height="0.9" fill="#4a9ab4"/><rect x="311.95" y="448.42" width="0.8" height="0.9" fill="#8eb0e0"/><rect x="322.39" y="449.94" width="0.8" height="0.9" fill="#5a8ccc"/><rect x="313.04" y="456.69" width="0.8" height="0.9" fill="#98b8e4"/><rect x="326.76" y="450.71" width="0.8" height="0.9" fill="#a0bee8"/><rect x="312.01" y="453.57" width="0.8" height="0.9" fill="#98b8e4"/><rect x="323.13" y="448.32" width="0.8" height="0.9" fill="#80a6dc"/><rect x="319.75" y="452.15" width="0.8" height="0.9" fill="#4a80c8"/><rect x="319.82" y="453.49" width="0.8" height="0.9" fill="#5a8ccc"/><rect x="311.21" y="453.40" width="0.8" height="0.9" fill="#b4cdee"/><rect x="315.56" y="449.04" width="0.8" height="0.9" fill="#a0bee8"/><rect x="322.90" y="454.86" width="0.8" height="0.9" fill="#8eb0e0"/><rect x="327.45" y="448.85" width="0.8" height="0.9" fill="#8eb0e0"/><rect x="321.49" y="452.24" width="0.8" height="0.9" fill="#8eb0e0"/><rect x="319.21" y="467.93" width="0.8" height="0.9" fill="#80a6dc"/><rect x="316.20" y="447.93" width="0.8" height="0.9" fill="#5a8ccc"/><rect x="326.75" y="451.20" width="0.8" height="0.9" fill="#b4cdee"/><rect x="307.20" y="447.27" width="0.8" height="0.9" fill="#98b8e4"/><rect x="319.72" y="452.14" width="0.8" height="0.9" fill="#4a80c8"/><rect x="312.13" y="452.27" width="0.8" height="0.9" fill="#5aa0b8"/><rect x="309.75" y="461.96" width="0.8" height="0.9" fill="#80a6dc"/><rect x="311.34" y="457.48" width="0.8" height="0.9" fill="#b4cdee"/><rect x="328.86" y="450.91" width="0.8" height="0.9" fill="#b4cdee"/><rect x="323.39" y="445.50" width="0.8" height="0.9" fill="#80a6dc"/><rect x="329.24" y="456.39" width="0.8" height="0.9" fill="#b4cdee"/><rect x="318.25" y="454.09" width="0.8" height="0.9" fill="#b4cdee"/><rect x="326.68" y="456.06" width="0.8" height="0.9" fill="#b4cdee"/><rect x="318.79" y="449.46" width="0.8" height="0.9" fill="#8eb0e0"/><rect x="319.70" y="449.77" width="0.8" height="0.9" fill="#6a98d4"/><rect x="310.22" y="453.16" width="0.8" height="0.9" fill="#8eb0e0"/><rect x="308.14" y="451.17" width="0.8" height="0.9" fill="#80a6dc"/><rect x="317.43" y="451.68" width="0.8" height="0.9" fill="#5aa0b8"/><rect x="306.73" y="451.16" width="0.8" height="0.9" fill="#80a6dc"/><rect x="313.13" y="463.66" width="0.8" height="0.9" fill="#a0bee8"/><rect x="316.76" y="451.80" width="0.8" height="0.9" fill="#a0bee8"/><rect x="315.75" y="446.43" width="0.8" height="0.9" fill="#4a9ab4"/><rect x="320.21" y="454.61" width="0.8" height="0.9" fill="#4a80c8"/><rect x="323.73" y="448.84" width="0.8" height="0.9" fill="#b4cdee"/><rect x="322.66" y="460.01" width="0.8" height="0.9" fill="#8eb0e0"/><rect x="314.62" y="450.27" width="0.8" height="0.9" fill="#5a8ccc"/><rect x="324.81" y="453.57" width="0.8" height="0.9" fill="#98b8e4"/><rect x="316.12" y="467.03" width="0.8" height="0.9" fill="#b4cdee"/><rect x="323.54" y="448.32" width="0.8" height="0.9" fill="#98b8e4"/><rect x="318.84" y="452.60" width="0.8" height="0.9" fill="#5aa0b8"/><rect x="317.36" y="451.80" width="0.8" height="0.9" fill="#8eb0e0"/><rect x="316.36" y="448.17" width="0.8" height="0.9" fill="#8eb0e0"/><rect x="322.68" y="452.90" width="0.8" height="0.9" fill="#4a9ab4"/><rect x="325.23" y="456.25" width="0.8" height="0.9" fill="#98b8e4"/><rect x="323.92" y="460.52" width="0.8" height="0.9" fill="#b4cdee"/><rect x="311.66" y="444.46" width="0.8" height="0.9" fill="#a0bee8"/><rect x="305.88" y="452.16" width="0.8" height="0.9" fill="#80a6dc"/><rect x="312.27" y="458.36" width="0.8" height="0.9" fill="#8eb0e0"/><rect x="315.28" y="450.78" width="0.8" height="0.9" fill="#4a9ab4"/><rect x="320.16" y="458.58" width="0.8" height="0.9" fill="#80a6dc"/><rect x="307.81" y="447.77" width="0.8" height="0.9" fill="#80a6dc"/><rect x="320.78" y="458.91" width="0.8" height="0.9" fill="#8eb0e0"/><rect x="319.78" y="459.54" width="0.8" height="0.9" fill="#a0bee8"/><rect x="323.17" y="448.56" width="0.8" height="0.9" fill="#5aa0b8"/><rect x="319.41" y="451.81" width="0.8" height="0.9" fill="#5aa0b8"/><rect x="326.92" y="457.31" width="0.8" height="0.9" fill="#80a6dc"/><rect x="318.00" y="457.43" width="0.8" height="0.9" fill="#5a8ccc"/><rect x="328.17" y="455.00" width="0.8" height="0.9" fill="#80a6dc"/><rect x="316.13" y="454.56" width="0.8" height="0.9" fill="#4a9ab4"/><rect x="312.59" y="454.47" width="0.8" height="0.9" fill="#6a98d4"/><rect x="318.77" y="458.33" width="0.8" height="0.9" fill="#6a98d4"/><rect x="315.21" y="446.19" width="0.8" height="0.9" fill="#80a6dc"/><rect x="315.38" y="452.54" width="0.8" height="0.9" fill="#b4cdee"/><rect x="317.98" y="449.83" width="0.8" height="0.9" fill="#a0bee8"/><rect x="330.96" y="454.20" width="0.8" height="0.9" fill="#8eb0e0"/><rect x="327.49" y="445.64" width="0.8" height="0.9" fill="#b4cdee"/><rect x="304.46" y="461.72" width="0.8" height="0.9" fill="#98b8e4"/><rect x="315.63" y="460.03" width="0.8" height="0.9" fill="#a0bee8"/><rect x="315.99" y="458.50" width="0.8" height="0.9" fill="#a0bee8"/><rect x="323.35" y="454.84" width="0.8" height="0.9" fill="#4a80c8"/><rect x="315.81" y="456.32" width="0.8" height="0.9" fill="#80a6dc"/><rect x="328.45" y="445.82" width="0.8" height="0.9" fill="#a0bee8"/><rect x="312.95" y="454.48" width="0.8" height="0.9" fill="#4a9ab4"/><rect x="319.88" y="447.82" width="0.8" height="0.9" fill="#98b8e4"/><rect x="328.93" y="453.98" width="0.8" height="0.9" fill="#b4cdee"/><rect x="320.08" y="446.93" width="0.8" height="0.9" fill="#8eb0e0"/><rect x="318.05" y="448.14" width="0.8" height="0.9" fill="#b4cdee"/><rect x="311.94" y="456.21" width="0.8" height="0.9" fill="#8eb0e0"/><rect x="317.47" y="450.55" width="0.8" height="0.9" fill="#98b8e4"/><rect x="327.22" y="454.37" width="0.8" height="0.9" fill="#8eb0e0"/><rect x="312.21" y="448.59" width="0.8" height="0.9" fill="#8eb0e0"/><rect x="310.28" y="449.91" width="0.8" height="0.9" fill="#b4cdee"/><rect x="307.93" y="449.58" width="0.8" height="0.9" fill="#b4cdee"/><rect x="311.23" y="453.77" width="0.8" height="0.9" fill="#98b8e4"/><rect x="307.98" y="464.23" width="0.8" height="0.9" fill="#98b8e4"/><rect x="315.40" y="451.35" width="0.8" height="0.9" fill="#4a80c8"/><rect x="310.60" y="453.92" width="0.8" height="0.9" fill="#a0bee8"/><rect x="322.92" y="446.77" width="0.8" height="0.9" fill="#5aa0b8"/><rect x="326.67" y="445.46" width="0.8" height="0.9" fill="#a0bee8"/><rect x="319.76" y="449.27" width="0.8" height="0.9" fill="#a0bee8"/><rect x="315.63" y="457.89" width="0.8" height="0.9" fill="#5aa0b8"/><rect x="315.72" y="454.58" width="0.8" height="0.9" fill="#4a9ab4"/><rect x="312.15" y="443.65" width="0.8" height="0.9" fill="#8eb0e0"/><rect x="304.55" y="450.88" width="0.8" height="0.9" fill="#a0bee8"/><rect x="316.09" y="452.86" width="0.8" height="0.9" fill="#4a9ab4"/><rect x="321.43" y="452.38" width="0.8" height="0.9" fill="#a0bee8"/><rect x="326.67" y="451.18" width="0.8" height="0.9" fill="#a0bee8"/><rect x="331.24" y="458.87" width="0.8" height="0.9" fill="#a0bee8"/><rect x="324.20" y="456.86" width="0.8" height="0.9" fill="#b4cdee"/><rect x="319.91" y="451.33" width="0.8" height="0.9" fill="#4a9ab4"/><rect x="326.60" y="451.85" width="0.8" height="0.9" fill="#b4cdee"/><rect x="322.05" y="453.11" width="0.8" height="0.9" fill="#80a6dc"/><rect x="329.47" y="452.69" width="0.8" height="0.9" fill="#80a6dc"/><rect x="319.08" y="456.45" width="0.8" height="0.9" fill="#a0bee8"/><rect x="317.93" y="454.62" width="0.8" height="0.9" fill="#b4cdee"/><rect x="330.14" y="457.37" width="0.8" height="0.9" fill="#98b8e4"/><rect x="312.04" y="452.66" width="0.8" height="0.9" fill="#6a98d4"/><rect x="316.28" y="454.45" width="0.8" height="0.9" fill="#b4cdee"/><rect x="311.80" y="446.55" width="0.8" height="0.9" fill="#a0bee8"/><rect x="321.47" y="455.73" width="0.8" height="0.9" fill="#80a6dc"/><rect x="307.63" y="450.76" width="0.8" height="0.9" fill="#80a6dc"/><rect x="306.65" y="450.00" width="0.8" height="0.9" fill="#80a6dc"/><rect x="324.06" y="454.91" width="0.8" height="0.9" fill="#80a6dc"/><rect x="319.81" y="454.50" width="0.8" height="0.9" fill="#b4cdee"/><rect x="323.10" y="447.49" width="0.8" height="0.9" fill="#4a80c8"/><rect x="309.97" y="466.14" width="0.8" height="0.9" fill="#a0bee8"/><rect x="319.40" y="445.47" width="0.8" height="0.9" fill="#a0bee8"/><rect x="321.20" y="450.44" width="0.8" height="0.9" fill="#6a98d4"/><rect x="323.63" y="449.53" width="0.8" height="0.9" fill="#5aa0b8"/><rect x="317.42" y="454.82" width="0.8" height="0.9" fill="#6a98d4"/><rect x="320.16" y="447.02" width="0.8" height="0.9" fill="#4a80c8"/><rect x="307.45" y="446.53" width="0.8" height="0.9" fill="#98b8e4"/><rect x="315.46" y="456.16" width="0.8" height="0.9" fill="#b4cdee"/><rect x="313.02" y="453.11" width="0.8" height="0.9" fill="#5a8ccc"/><rect x="312.41" y="453.90" width="0.8" height="0.9" fill="#4a9ab4"/><rect x="329.46" y="456.46" width="0.8" height="0.9" fill="#8eb0e0"/><rect x="322.16" y="458.85" width="0.8" height="0.9" fill="#8eb0e0"/><rect x="315.47" y="446.64" width="0.8" height="0.9" fill="#80a6dc"/><rect x="323.40" y="449.72" width="0.8" height="0.9" fill="#6a98d4"/><rect x="322.63" y="462.57" width="0.8" height="0.9" fill="#80a6dc"/><rect x="324.02" y="447.96" width="0.8" height="0.9" fill="#8eb0e0"/><rect x="306.89" y="455.35" width="0.8" height="0.9" fill="#80a6dc"/><rect x="322.47" y="452.05" width="0.8" height="0.9" fill="#8eb0e0"/><rect x="320.66" y="451.69" width="0.8" height="0.9" fill="#5a8ccc"/><rect x="323.59" y="453.58" width="0.8" height="0.9" fill="#80a6dc"/><rect x="321.27" y="463.96" width="0.8" height="0.9" fill="#8eb0e0"/><rect x="329.53" y="446.76" width="0.8" height="0.9" fill="#a0bee8"/><rect x="316.02" y="450.61" width="0.8" height="0.9" fill="#8eb0e0"/><rect x="312.16" y="451.28" width="0.8" height="0.9" fill="#8eb0e0"/><rect x="319.45" y="460.22" width="0.8" height="0.9" fill="#8eb0e0"/><rect x="320.84" y="451.80" width="0.8" height="0.9" fill="#5a8ccc"/><rect x="313.02" y="458.86" width="0.8" height="0.9" fill="#8eb0e0"/><rect x="330.10" y="449.10" width="0.8" height="0.9" fill="#b4cdee"/><rect x="328.07" y="445.92" width="0.8" height="0.9" fill="#b4cdee"/><rect x="312.16" y="450.43" width="0.8" height="0.9" fill="#4a80c8"/><rect x="312.52" y="455.11" width="0.8" height="0.9" fill="#4a9ab4"/><rect x="330.35" y="452.79" width="0.8" height="0.9" fill="#b4cdee"/><rect x="315.98" y="461.42" width="0.8" height="0.9" fill="#8eb0e0"/><rect x="323.41" y="451.16" width="0.8" height="0.9" fill="#4a80c8"/><rect x="330.02" y="449.91" width="0.8" height="0.9" fill="#80a6dc"/><rect x="312.28" y="446.82" width="0.8" height="0.9" fill="#98b8e4"/><rect x="317.34" y="445.88" width="0.8" height="0.9" fill="#5aa0b8"/><rect x="316.28" y="449.98" width="0.8" height="0.9" fill="#5a8ccc"/><rect x="309.77" y="447.49" width="0.8" height="0.9" fill="#b4cdee"/><rect x="318.51" y="448.87" width="0.8" height="0.9" fill="#98b8e4"/><rect x="316.29" y="458.82" width="0.8" height="0.9" fill="#a0bee8"/><rect x="316.07" y="452.22" width="0.8" height="0.9" fill="#b4cdee"/><rect x="315.33" y="463.83" width="0.8" height="0.9" fill="#80a6dc"/><rect x="321.32" y="447.09" width="0.8" height="0.9" fill="#5aa0b8"/><rect x="311.45" y="452.83" width="0.8" height="0.9" fill="#80a6dc"/><rect x="319.56" y="448.54" width="0.8" height="0.9" fill="#80a6dc"/><rect x="322.88" y="451.00" width="0.8" height="0.9" fill="#a0bee8"/><rect x="317.79" y="452.71" width="0.8" height="0.9" fill="#5aa0b8"/><rect x="310.38" y="451.34" width="0.8" height="0.9" fill="#b4cdee"/><rect x="326.34" y="446.39" width="0.8" height="0.9" fill="#a0bee8"/><rect x="323.27" y="456.64" width="0.8" height="0.9" fill="#b4cdee"/><rect x="319.51" y="445.79" width="0.8" height="0.9" fill="#6a98d4"/><rect x="312.05" y="456.11" width="0.8" height="0.9" fill="#80a6dc"/><rect x="330.87" y="455.95" width="0.8" height="0.9" fill="#98b8e4"/><rect x="312.05" y="449.94" width="0.8" height="0.9" fill="#98b8e4"/><rect x="312.42" y="451.86" width="0.8" height="0.9" fill="#80a6dc"/><rect x="321.21" y="443.87" width="0.8" height="0.9" fill="#98b8e4"/><rect x="329.32" y="445.56" width="0.8" height="0.9" fill="#a0bee8"/><rect x="327.18" y="451.93" width="0.8" height="0.9" fill="#98b8e4"/><rect x="307.67" y="448.39" width="0.8" height="0.9" fill="#a0bee8"/><rect x="315.71" y="451.30" width="0.8" height="0.9" fill="#4a80c8"/><rect x="315.24" y="449.32" width="0.8" height="0.9" fill="#5aa0b8"/><rect x="317.89" y="451.59" width="0.8" height="0.9" fill="#5aa0b8"/><rect x="320.60" y="445.71" width="0.8" height="0.9" fill="#80a6dc"/><rect x="316.94" y="454.14" width="0.8" height="0.9" fill="#5aa0b8"/><rect x="326.98" y="456.61" width="0.8" height="0.9" fill="#a0bee8"/><rect x="326.60" y="446.14" width="0.8" height="0.9" fill="#8eb0e0"/><rect x="312.50" y="459.94" width="0.8" height="0.9" fill="#80a6dc"/><rect x="322.84" y="443.33" width="0.8" height="0.9" fill="#a0bee8"/><rect x="323.58" y="457.06" width="0.8" height="0.9" fill="#4a9ab4"/><rect x="322.26" y="451.73" width="0.8" height="0.9" fill="#98b8e4"/><rect x="310.79" y="456.49" width="0.8" height="0.9" fill="#a0bee8"/><rect x="315.93" y="453.90" width="0.8" height="0.9" fill="#4a80c8"/><rect x="321.14" y="452.68" width="0.8" height="0.9" fill="#5a8ccc"/><rect x="331.47" y="459.08" width="0.8" height="0.9" fill="#a0bee8"/><rect x="315.98" y="449.37" width="0.8" height="0.9" fill="#6a98d4"/><rect x="321.86" y="450.69" width="0.8" height="0.9" fill="#a0bee8"/><rect x="319.67" y="448.05" width="0.8" height="0.9" fill="#4a80c8"/><rect x="326.61" y="448.70" width="0.8" height="0.9" fill="#8eb0e0"/><rect x="326.17" y="463.32" width="0.8" height="0.9" fill="#98b8e4"/><rect x="316.35" y="465.17" width="0.8" height="0.9" fill="#8eb0e0"/><rect x="310.69" y="451.15" width="0.8" height="0.9" fill="#a0bee8"/><rect x="320.96" y="446.23" width="0.8" height="0.9" fill="#6a98d4"/><rect x="326.74" y="448.60" width="0.8" height="0.9" fill="#98b8e4"/><rect x="322.80" y="458.15" width="0.8" height="0.9" fill="#a0bee8"/><rect x="319.65" y="458.36" width="0.8" height="0.9" fill="#4a80c8"/><rect x="316.05" y="452.90" width="0.8" height="0.9" fill="#4a80c8"/><rect x="323.46" y="459.34" width="0.8" height="0.9" fill="#80a6dc"/><rect x="318.02" y="453.03" width="0.8" height="0.9" fill="#5a8ccc"/><rect x="316.59" y="451.74" width="0.8" height="0.9" fill="#b4cdee"/><rect x="304.16" y="456.20" width="0.8" height="0.9" fill="#8eb0e0"/><rect x="313.38" y="452.22" width="0.8" height="0.9" fill="#4a9ab4"/><rect x="327.29" y="462.03" width="0.8" height="0.9" fill="#80a6dc"/><rect x="320.90" y="449.09" width="0.8" height="0.9" fill="#6a98d4"/><rect x="316.65" y="453.23" width="0.8" height="0.9" fill="#b4cdee"/><rect x="312.56" y="447.62" width="0.8" height="0.9" fill="#98b8e4"/><rect x="316.95" y="456.07" width="0.8" height="0.9" fill="#6a98d4"/><rect x="305.93" y="446.87" width="0.8" height="0.9" fill="#b4cdee"/><rect x="324.33" y="445.17" width="0.8" height="0.9" fill="#98b8e4"/><rect x="317.49" y="449.54" width="0.8" height="0.9" fill="#4a80c8"/><rect x="324.08" y="451.48" width="0.8" height="0.9" fill="#a0bee8"/><rect x="319.86" y="449.97" width="0.8" height="0.9" fill="#5aa0b8"/><rect x="309.51" y="451.20" width="0.8" height="0.9" fill="#a0bee8"/><rect x="312.44" y="450.46" width="0.8" height="0.9" fill="#b4cdee"/><rect x="327.98" y="447.33" width="0.8" height="0.9" fill="#98b8e4"/><rect x="326.09" y="449.64" width="0.8" height="0.9" fill="#a0bee8"/><rect x="304.49" y="448.16" width="0.8" height="0.9" fill="#8eb0e0"/><rect x="306.90" y="452.53" width="0.8" height="0.9" fill="#80a6dc"/><rect x="323.64" y="451.12" width="0.8" height="0.9" fill="#5aa0b8"/><rect x="306.60" y="463.50" width="0.8" height="0.9" fill="#b4cdee"/><rect x="315.38" y="452.03" width="0.8" height="0.9" fill="#8eb0e0"/><rect x="317.78" y="457.64" width="0.8" height="0.9" fill="#a0bee8"/><rect x="317.92" y="452.10" width="0.8" height="0.9" fill="#8eb0e0"/><rect x="320.12" y="452.82" width="0.8" height="0.9" fill="#98b8e4"/><rect x="322.21" y="454.12" width="0.8" height="0.9" fill="#98b8e4"/><rect x="321.09" y="461.67" width="0.8" height="0.9" fill="#8eb0e0"/><rect x="323.60" y="451.18" width="0.8" height="0.9" fill="#4a9ab4"/><rect x="310.33" y="451.21" width="0.8" height="0.9" fill="#80a6dc"/><rect x="327.44" y="457.32" width="0.8" height="0.9" fill="#a0bee8"/><rect x="317.80" y="463.94" width="0.8" height="0.9" fill="#98b8e4"/><rect x="323.36" y="451.70" width="0.8" height="0.9" fill="#5a8ccc"/><rect x="320.57" y="455.18" width="0.8" height="0.9" fill="#5a8ccc"/><rect x="319.73" y="448.88" width="0.8" height="0.9" fill="#5a8ccc"/><rect x="321.43" y="460.67" width="0.8" height="0.9" fill="#a0bee8"/><rect x="320.34" y="445.97" width="0.8" height="0.9" fill="#80a6dc"/><rect x="319.75" y="455.74" width="0.8" height="0.9" fill="#4a80c8"/><rect x="312.87" y="451.92" width="0.8" height="0.9" fill="#6a98d4"/><rect x="325.61" y="446.63" width="0.8" height="0.9" fill="#8eb0e0"/><rect x="325.29" y="449.23" width="0.8" height="0.9" fill="#5a8ccc"/><rect x="318.74" y="463.72" width="0.8" height="0.9" fill="#98b8e4"/><rect x="316.75" y="445.39" width="0.8" height="0.9" fill="#8eb0e0"/><rect x="329.19" y="459.26" width="0.8" height="0.9" fill="#98b8e4"/><rect x="321.81" y="453.02" width="0.8" height="0.9" fill="#4a80c8"/><rect x="310.60" y="457.24" width="0.8" height="0.9" fill="#a0bee8"/><rect x="317.85" y="457.03" width="0.8" height="0.9" fill="#5a8ccc"/><rect x="312.34" y="462.39" width="0.8" height="0.9" fill="#8eb0e0"/><rect x="323.53" y="451.48" width="0.8" height="0.9" fill="#4a80c8"/><rect x="324.36" y="448.37" width="0.8" height="0.9" fill="#4a80c8"/><rect x="305.10" y="453.90" width="0.8" height="0.9" fill="#98b8e4"/><rect x="328.31" y="455.25" width="0.8" height="0.9" fill="#8eb0e0"/><rect x="323.49" y="448.59" width="0.8" height="0.9" fill="#a0bee8"/><rect x="324.26" y="456.48" width="0.8" height="0.9" fill="#6a98d4"/><rect x="327.97" y="462.60" width="0.8" height="0.9" fill="#a0bee8"/><rect x="323.21" y="460.91" width="0.8" height="0.9" fill="#8eb0e0"/><rect x="313.59" y="449.62" width="0.8" height="0.9" fill="#b4cdee"/><rect x="317.25" y="446.13" width="0.8" height="0.9" fill="#a0bee8"/><rect x="323.40" y="454.02" width="0.8" height="0.9" fill="#80a6dc"/><rect x="323.77" y="451.67" width="0.8" height="0.9" fill="#8eb0e0"/><rect x="330.59" y="459.98" width="0.8" height="0.9" fill="#80a6dc"/><rect x="315.46" y="449.99" width="0.8" height="0.9" fill="#b4cdee"/><rect x="309.53" y="459.30" width="0.8" height="0.9" fill="#8eb0e0"/><rect x="316.90" y="456.03" width="0.8" height="0.9" fill="#a0bee8"/><rect x="322.84" y="456.59" width="0.8" height="0.9" fill="#8eb0e0"/><rect x="315.35" y="453.58" width="0.8" height="0.9" fill="#b4cdee"/><rect x="323.93" y="459.61" width="0.8" height="0.9" fill="#8eb0e0"/><rect x="323.36" y="460.82" width="0.8" height="0.9" fill="#b4cdee"/><rect x="326.68" y="451.38" width="0.8" height="0.9" fill="#a0bee8"/><rect x="322.81" y="455.63" width="0.8" height="0.9" fill="#4a9ab4"/><rect x="319.76" y="449.24" width="0.8" height="0.9" fill="#8eb0e0"/><rect x="322.35" y="451.77" width="0.8" height="0.9" fill="#5aa0b8"/><rect x="316.18" y="452.20" width="0.8" height="0.9" fill="#5a8ccc"/><rect x="329.04" y="458.48" width="0.8" height="0.9" fill="#98b8e4"/><rect x="322.61" y="454.97" width="0.8" height="0.9" fill="#4a9ab4"/><rect x="316.92" y="450.65" width="0.8" height="0.9" fill="#5aa0b8"/><rect x="306.59" y="454.69" width="0.8" height="0.9" fill="#a0bee8"/><rect x="319.20" y="465.12" width="0.8" height="0.9" fill="#98b8e4"/><rect x="326.67" y="451.96" width="0.8" height="0.9" fill="#8eb0e0"/><rect x="319.00" y="447.06" width="0.8" height="0.9" fill="#6a98d4"/><rect x="319.46" y="450.56" width="0.8" height="0.9" fill="#6a98d4"/><rect x="326.54" y="456.34" width="0.8" height="0.9" fill="#a0bee8"/><rect x="327.30" y="453.74" width="0.8" height="0.9" fill="#8eb0e0"/><rect x="322.75" y="452.79" width="0.8" height="0.9" fill="#98b8e4"/><rect x="321.90" y="453.52" width="0.8" height="0.9" fill="#4a80c8"/><rect x="315.99" y="447.26" width="0.8" height="0.9" fill="#80a6dc"/><rect x="317.81" y="447.12" width="0.8" height="0.9" fill="#4a80c8"/><rect x="317.02" y="455.61" width="0.8" height="0.9" fill="#80a6dc"/><rect x="317.75" y="451.77" width="0.8" height="0.9" fill="#5a8ccc"/><rect x="319.38" y="455.33" width="0.8" height="0.9" fill="#98b8e4"/><rect x="316.24" y="449.61" width="0.8" height="0.9" fill="#4a9ab4"/><rect x="312.23" y="449.42" width="0.8" height="0.9" fill="#6a98d4"/><rect x="319.66" y="447.68" width="0.8" height="0.9" fill="#98b8e4"/><rect x="324.02" y="448.74" width="0.8" height="0.9" fill="#8eb0e0"/><rect x="316.47" y="451.86" width="0.8" height="0.9" fill="#5aa0b8"/><rect x="318.20" y="446.71" width="0.8" height="0.9" fill="#b4cdee"/><rect x="317.94" y="448.39" width="0.8" height="0.9" fill="#b4cdee"/><rect x="304.22" y="452.21" width="0.8" height="0.9" fill="#b4cdee"/><rect x="327.11" y="462.31" width="0.8" height="0.9" fill="#8eb0e0"/><rect x="312.01" y="444.03" width="0.8" height="0.9" fill="#80a6dc"/><rect x="324.29" y="450.58" width="0.8" height="0.9" fill="#b4cdee"/><rect x="321.87" y="446.71" width="0.8" height="0.9" fill="#6a98d4"/><rect x="315.74" y="456.53" width="0.8" height="0.9" fill="#8eb0e0"/><rect x="312.55" y="456.91" width="0.8" height="0.9" fill="#80a6dc"/><rect x="319.64" y="443.32" width="0.8" height="0.9" fill="#b4cdee"/><rect x="319.85" y="452.46" width="0.8" height="0.9" fill="#4a80c8"/><rect x="316.04" y="455.02" width="0.8" height="0.9" fill="#4a80c8"/><rect x="321.10" y="454.90" width="0.8" height="0.9" fill="#5aa0b8"/><rect x="328.61" y="444.54" width="0.8" height="0.9" fill="#b4cdee"/><rect x="326.44" y="453.96" width="0.8" height="0.9" fill="#b4cdee"/><rect x="321.76" y="458.35" width="0.8" height="0.9" fill="#b4cdee"/><rect x="303.71" y="449.79" width="0.8" height="0.9" fill="#80a6dc"/><rect x="313.08" y="448.19" width="0.8" height="0.9" fill="#4a80c8"/><rect x="327.10" y="450.47" width="0.8" height="0.9" fill="#80a6dc"/><rect x="323.56" y="455.81" width="0.8" height="0.9" fill="#8eb0e0"/><rect x="310.38" y="458.36" width="0.8" height="0.9" fill="#98b8e4"/><rect x="323.74" y="448.84" width="0.8" height="0.9" fill="#5aa0b8"/><rect x="322.69" y="454.63" width="0.8" height="0.9" fill="#4a9ab4"/><rect x="328.77" y="452.47" width="0.8" height="0.9" fill="#b4cdee"/><rect x="322.51" y="459.71" width="0.8" height="0.9" fill="#a0bee8"/><rect x="319.15" y="451.51" width="0.8" height="0.9" fill="#4a9ab4"/><rect x="314.79" y="457.94" width="0.8" height="0.9" fill="#8eb0e0"/><rect x="311.70" y="459.71" width="0.8" height="0.9" fill="#98b8e4"/><rect x="326.44" y="450.57" width="0.8" height="0.9" fill="#98b8e4"/><rect x="316.74" y="449.46" width="0.8" height="0.9" fill="#80a6dc"/><rect x="320.38" y="450.93" width="0.8" height="0.9" fill="#6a98d4"/><rect x="303.22" y="447.19" width="0.8" height="0.9" fill="#8eb0e0"/><rect x="319.29" y="456.86" width="0.8" height="0.9" fill="#80a6dc"/><rect x="326.48" y="458.84" width="0.8" height="0.9" fill="#8eb0e0"/><rect x="321.07" y="448.89" width="0.8" height="0.9" fill="#8eb0e0"/><rect x="312.68" y="454.76" width="0.8" height="0.9" fill="#4a9ab4"/><rect x="307.57" y="454.65" width="0.8" height="0.9" fill="#8eb0e0"/><rect x="311.98" y="456.16" width="0.8" height="0.9" fill="#a0bee8"/><rect x="323.24" y="449.16" width="0.8" height="0.9" fill="#6a98d4"/><rect x="307.88" y="449.72" width="0.8" height="0.9" fill="#80a6dc"/><rect x="321.32" y="455.69" width="0.8" height="0.9" fill="#6a98d4"/><rect x="315.60" y="450.79" width="0.8" height="0.9" fill="#5a8ccc"/><rect x="315.84" y="462.79" width="0.8" height="0.9" fill="#a0bee8"/><rect x="323.38" y="447.56" width="0.8" height="0.9" fill="#8eb0e0"/><rect x="317.37" y="446.77" width="0.8" height="0.9" fill="#4a9ab4"/><rect x="316.05" y="451.49" width="0.8" height="0.9" fill="#6a98d4"/><rect x="321.16" y="455.19" width="0.8" height="0.9" fill="#b4cdee"/><rect x="330.36" y="449.94" width="0.8" height="0.9" fill="#8eb0e0"/><rect x="306.77" y="454.01" width="0.8" height="0.9" fill="#a0bee8"/><rect x="330.67" y="446.41" width="0.8" height="0.9" fill="#98b8e4"/><rect x="315.80" y="460.50" width="0.8" height="0.9" fill="#98b8e4"/><rect x="317.83" y="446.30" width="0.8" height="0.9" fill="#98b8e4"/><rect x="319.93" y="460.82" width="0.8" height="0.9" fill="#a0bee8"/><rect x="310.61" y="452.78" width="0.8" height="0.9" fill="#98b8e4"/><rect x="323.75" y="457.00" width="0.8" height="0.9" fill="#8eb0e0"/><rect x="315.52" y="449.92" width="0.8" height="0.9" fill="#a0bee8"/><rect x="310.55" y="455.75" width="0.8" height="0.9" fill="#a0bee8"/><rect x="310.79" y="453.14" width="0.8" height="0.9" fill="#8eb0e0"/><rect x="320.26" y="447.14" width="0.8" height="0.9" fill="#4a80c8"/><rect x="319.54" y="455.05" width="0.8" height="0.9" fill="#5a8ccc"/><rect x="326.97" y="451.96" width="0.8" height="0.9" fill="#98b8e4"/><rect x="315.60" y="445.50" width="0.8" height="0.9" fill="#8eb0e0"/><rect x="312.20" y="451.07" width="0.8" height="0.9" fill="#6a98d4"/><rect x="304.54" y="453.77" width="0.8" height="0.9" fill="#80a6dc"/><rect x="319.20" y="452.88" width="0.8" height="0.9" fill="#98b8e4"/><rect x="321.29" y="451.38" width="0.8" height="0.9" fill="#4a9ab4"/><rect x="318.67" y="453.47" width="0.8" height="0.9" fill="#6a98d4"/><rect x="316.73" y="446.96" width="0.8" height="0.9" fill="#4a80c8"/><rect x="323.30" y="456.52" width="0.8" height="0.9" fill="#6a98d4"/><rect x="328.42" y="458.36" width="0.8" height="0.9" fill="#80a6dc"/><rect x="330.77" y="449.70" width="0.8" height="0.9" fill="#98b8e4"/><rect x="311.05" y="454.94" width="0.8" height="0.9" fill="#a0bee8"/><rect x="305.23" y="448.86" width="0.8" height="0.9" fill="#a0bee8"/><rect x="322.75" y="459.08" width="0.8" height="0.9" fill="#80a6dc"/><rect x="319.28" y="452.99" width="0.8" height="0.9" fill="#98b8e4"/><rect x="307.88" y="447.09" width="0.8" height="0.9" fill="#80a6dc"/><rect x="321.65" y="448.49" width="0.8" height="0.9" fill="#b4cdee"/><rect x="315.43" y="468.79" width="0.8" height="0.9" fill="#a0bee8"/><rect x="307.25" y="457.50" width="0.8" height="0.9" fill="#8eb0e0"/><rect x="321.27" y="447.92" width="0.8" height="0.9" fill="#98b8e4"/><rect x="321.23" y="449.66" width="0.8" height="0.9" fill="#a0bee8"/><rect x="322.16" y="452.97" width="0.8" height="0.9" fill="#4a80c8"/><rect x="330.35" y="448.28" width="0.8" height="0.9" fill="#80a6dc"/><rect x="328.88" y="458.76" width="0.8" height="0.9" fill="#80a6dc"/><rect x="316.71" y="456.43" width="0.8" height="0.9" fill="#b4cdee"/><rect x="310.52" y="449.51" width="0.8" height="0.9" fill="#b4cdee"/><rect x="319.55" y="459.01" width="0.8" height="0.9" fill="#b4cdee"/><rect x="322.87" y="445.39" width="0.8" height="0.9" fill="#8eb0e0"/><rect x="326.89" y="454.93" width="0.8" height="0.9" fill="#b4cdee"/><rect x="326.83" y="461.27" width="0.8" height="0.9" fill="#a0bee8"/><rect x="320.67" y="450.58" width="0.8" height="0.9" fill="#80a6dc"/><rect x="319.78" y="448.71" width="0.8" height="0.9" fill="#b4cdee"/><rect x="312.89" y="447.95" width="0.8" height="0.9" fill="#8eb0e0"/><rect x="310.80" y="453.47" width="0.8" height="0.9" fill="#98b8e4"/><rect x="305.38" y="453.68" width="0.8" height="0.9" fill="#80a6dc"/><rect x="314.93" y="452.05" width="0.8" height="0.9" fill="#80a6dc"/><rect x="319.98" y="451.09" width="0.8" height="0.9" fill="#4a9ab4"/><rect x="315.29" y="447.80" width="0.8" height="0.9" fill="#5aa0b8"/><rect x="305.64" y="444.95" width="0.8" height="0.9" fill="#b4cdee"/><rect x="314.92" y="455.57" width="0.8" height="0.9" fill="#6a98d4"/><rect x="316.19" y="457.99" width="0.8" height="0.9" fill="#80a6dc"/><rect x="307.31" y="448.12" width="0.8" height="0.9" fill="#98b8e4"/><rect x="317.27" y="450.65" width="0.8" height="0.9" fill="#5a8ccc"/><rect x="315.21" y="456.16" width="0.8" height="0.9" fill="#6a98d4"/><rect x="330.62" y="463.66" width="0.8" height="0.9" fill="#80a6dc"/><rect x="309.70" y="450.28" width="0.8" height="0.9" fill="#80a6dc"/><rect x="316.32" y="446.52" width="0.8" height="0.9" fill="#98b8e4"/><rect x="310.40" y="446.24" width="0.8" height="0.9" fill="#8eb0e0"/><rect x="324.06" y="451.13" width="0.8" height="0.9" fill="#5a8ccc"/><rect x="330.93" y="448.07" width="0.8" height="0.9" fill="#b4cdee"/><rect x="315.46" y="455.78" width="0.8" height="0.9" fill="#b4cdee"/><rect x="312.38" y="448.33" width="0.8" height="0.9" fill="#98b8e4"/><rect x="318.42" y="449.79" width="0.8" height="0.9" fill="#a0bee8"/><rect x="309.87" y="456.53" width="0.8" height="0.9" fill="#b4cdee"/><rect x="320.20" y="462.04" width="0.8" height="0.9" fill="#b4cdee"/><rect x="326.86" y="446.49" width="0.8" height="0.9" fill="#80a6dc"/><rect x="308.15" y="456.59" width="0.8" height="0.9" fill="#80a6dc"/><rect x="315.97" y="452.25" width="0.8" height="0.9" fill="#4a9ab4"/><rect x="326.56" y="460.73" width="0.8" height="0.9" fill="#b4cdee"/><rect x="321.63" y="448.08" width="0.8" height="0.9" fill="#98b8e4"/><rect x="306.90" y="450.81" width="0.8" height="0.9" fill="#a0bee8"/><rect x="312.84" y="446.61" width="0.8" height="0.9" fill="#8eb0e0"/><rect x="329.07" y="453.33" width="0.8" height="0.9" fill="#80a6dc"/><rect x="317.65" y="455.81" width="0.8" height="0.9" fill="#5aa0b8"/><rect x="308.29" y="459.08" width="0.8" height="0.9" fill="#8eb0e0"/><rect x="322.96" y="453.87" width="0.8" height="0.9" fill="#6a98d4"/><rect x="320.74" y="457.89" width="0.8" height="0.9" fill="#b4cdee"/><rect x="319.19" y="448.37" width="0.8" height="0.9" fill="#5a8ccc"/><rect x="325.58" y="454.20" width="0.8" height="0.9" fill="#6a98d4"/><rect x="319.03" y="453.06" width="0.8" height="0.9" fill="#5a8ccc"/><rect x="323.35" y="453.37" width="0.8" height="0.9" fill="#a0bee8"/><rect x="328.20" y="451.46" width="0.8" height="0.9" fill="#a0bee8"/><rect x="317.34" y="451.56" width="0.8" height="0.9" fill="#6a98d4"/><rect x="307.46" y="451.19" width="0.8" height="0.9" fill="#8eb0e0"/><rect x="309.87" y="448.92" width="0.8" height="0.9" fill="#b4cdee"/><rect x="324.02" y="446.66" width="0.8" height="0.9" fill="#80a6dc"/><rect x="304.08" y="448.25" width="0.8" height="0.9" fill="#98b8e4"/><rect x="313.61" y="447.95" width="0.8" height="0.9" fill="#5a8ccc"/><rect x="323.43" y="447.78" width="0.8" height="0.9" fill="#6a98d4"/><rect x="321.77" y="451.32" width="0.8" height="0.9" fill="#4a9ab4"/><rect x="315.50" y="459.73" width="0.8" height="0.9" fill="#b4cdee"/><rect x="322.98" y="443.90" width="0.8" height="0.9" fill="#80a6dc"/><rect x="311.90" y="453.94" width="0.8" height="0.9" fill="#b4cdee"/><rect x="326.43" y="452.20" width="0.8" height="0.9" fill="#80a6dc"/><rect x="319.62" y="451.96" width="0.8" height="0.9" fill="#5a8ccc"/><rect x="308.48" y="453.29" width="0.8" height="0.9" fill="#98b8e4"/><rect x="326.49" y="456.39" width="0.8" height="0.9" fill="#8eb0e0"/><rect x="317.60" y="448.16" width="0.8" height="0.9" fill="#4a9ab4"/><rect x="312.12" y="453.87" width="0.8" height="0.9" fill="#4a9ab4"/><rect x="318.65" y="451.74" width="0.8" height="0.9" fill="#5aa0b8"/><rect x="324.47" y="450.24" width="0.8" height="0.9" fill="#5aa0b8"/><rect x="318.36" y="453.25" width="0.8" height="0.9" fill="#5a8ccc"/><rect x="319.42" y="449.46" width="0.8" height="0.9" fill="#4a80c8"/><rect x="316.38" y="448.33" width="0.8" height="0.9" fill="#5a8ccc"/><rect x="312.32" y="455.57" width="0.8" height="0.9" fill="#8eb0e0"/><rect x="311.27" y="443.91" width="0.8" height="0.9" fill="#98b8e4"/><rect x="317.97" y="457.47" width="0.8" height="0.9" fill="#4a80c8"/><rect x="311.49" y="455.76" width="0.8" height="0.9" fill="#80a6dc"/><rect x="319.26" y="461.23" width="0.8" height="0.9" fill="#a0bee8"/><rect x="320.48" y="459.77" width="0.8" height="0.9" fill="#b4cdee"/><rect x="323.97" y="462.34" width="0.8" height="0.9" fill="#a0bee8"/><rect x="319.43" y="453.54" width="0.8" height="0.9" fill="#4a9ab4"/><rect x="317.35" y="449.98" width="0.8" height="0.9" fill="#5a8ccc"/><rect x="330.82" y="446.69" width="0.8" height="0.9" fill="#98b8e4"/><rect x="326.71" y="454.14" width="0.8" height="0.9" fill="#b4cdee"/><rect x="321.59" y="452.85" width="0.8" height="0.9" fill="#4a9ab4"/><rect x="321.18" y="444.41" width="0.8" height="0.9" fill="#80a6dc"/><rect x="323.34" y="451.39" width="0.8" height="0.9" fill="#b4cdee"/><rect x="317.53" y="456.16" width="0.8" height="0.9" fill="#4a80c8"/><rect x="315.81" y="454.59" width="0.8" height="0.9" fill="#8eb0e0"/><rect x="318.23" y="460.04" width="0.8" height="0.9" fill="#a0bee8"/><rect x="317.18" y="453.02" width="0.8" height="0.9" fill="#5aa0b8"/><rect x="316.54" y="450.29" width="0.8" height="0.9" fill="#5aa0b8"/><rect x="311.24" y="448.42" width="0.8" height="0.9" fill="#98b8e4"/><rect x="319.82" y="444.24" width="0.8" height="0.9" fill="#80a6dc"/><rect x="322.76" y="452.68" width="0.8" height="0.9" fill="#8eb0e0"/><rect x="323.13" y="451.50" width="0.8" height="0.9" fill="#6a98d4"/><rect x="315.81" y="453.92" width="0.8" height="0.9" fill="#4a9ab4"/><rect x="318.56" y="450.41" width="0.8" height="0.9" fill="#4a80c8"/><rect x="319.96" y="450.25" width="0.8" height="0.9" fill="#a0bee8"/><rect x="317.33" y="443.61" width="0.8" height="0.9" fill="#98b8e4"/><rect x="312.15" y="456.94" width="0.8" height="0.9" fill="#b4cdee"/><rect x="315.07" y="452.49" width="0.8" height="0.9" fill="#a0bee8"/><rect x="315.34" y="454.38" width="0.8" height="0.9" fill="#98b8e4"/><rect x="316.02" y="448.85" width="0.8" height="0.9" fill="#b4cdee"/><rect x="319.20" y="443.46" width="0.8" height="0.9" fill="#98b8e4"/><rect x="319.93" y="447.93" width="0.8" height="0.9" fill="#5aa0b8"/><rect x="311.48" y="458.98" width="0.8" height="0.9" fill="#98b8e4"/><rect x="311.55" y="452.44" width="0.8" height="0.9" fill="#5aa0b8"/><rect x="304.90" y="454.92" width="0.8" height="0.9" fill="#a0bee8"/><rect x="326.86" y="456.37" width="0.8" height="0.9" fill="#80a6dc"/><rect x="322.37" y="449.71" width="0.8" height="0.9" fill="#8eb0e0"/><rect x="318.40" y="454.55" width="0.8" height="0.9" fill="#4a9ab4"/><rect x="328.89" y="455.94" width="0.8" height="0.9" fill="#98b8e4"/><rect x="326.40" y="452.56" width="0.8" height="0.9" fill="#80a6dc"/><rect x="326.69" y="443.67" width="0.8" height="0.9" fill="#80a6dc"/><rect x="311.99" y="456.40" width="0.8" height="0.9" fill="#8eb0e0"/><rect x="308.49" y="461.19" width="0.8" height="0.9" fill="#b4cdee"/><rect x="317.72" y="452.54" width="0.8" height="0.9" fill="#5aa0b8"/><rect x="307.80" y="449.20" width="0.8" height="0.9" fill="#80a6dc"/><rect x="319.64" y="458.76" width="0.8" height="0.9" fill="#a0bee8"/><rect x="315.47" y="454.15" width="0.8" height="0.9" fill="#a0bee8"/><rect x="325.09" y="446.49" width="0.8" height="0.9" fill="#8eb0e0"/><rect x="315.27" y="455.92" width="0.8" height="0.9" fill="#5a8ccc"/><rect x="323.63" y="455.67" width="0.8" height="0.9" fill="#5a8ccc"/><rect x="312.76" y="461.34" width="0.8" height="0.9" fill="#80a6dc"/><rect x="326.18" y="454.96" width="0.8" height="0.9" fill="#b4cdee"/><rect x="321.64" y="450.35" width="0.8" height="0.9" fill="#80a6dc"/><rect x="307.13" y="456.37" width="0.8" height="0.9" fill="#80a6dc"/><rect x="319.30" y="446.15" width="0.8" height="0.9" fill="#a0bee8"/><rect x="323.76" y="465.10" width="0.8" height="0.9" fill="#80a6dc"/><rect x="327.24" y="462.97" width="0.8" height="0.9" fill="#98b8e4"/><rect x="320.13" y="452.36" width="0.8" height="0.9" fill="#4a9ab4"/><rect x="312.16" y="451.44" width="0.8" height="0.9" fill="#5a8ccc"/><rect x="315.77" y="447.47" width="0.8" height="0.9" fill="#98b8e4"/><rect x="319.22" y="453.09" width="0.8" height="0.9" fill="#6a98d4"/><rect x="326.50" y="458.93" width="0.8" height="0.9" fill="#8eb0e0"/><rect x="312.76" y="449.45" width="0.8" height="0.9" fill="#5aa0b8"/><rect x="313.12" y="456.10" width="0.8" height="0.9" fill="#4a80c8"/><rect x="320.08" y="448.59" width="0.8" height="0.9" fill="#4a80c8"/><rect x="315.16" y="453.27" width="0.8" height="0.9" fill="#4a9ab4"/><rect x="326.53" y="446.97" width="0.8" height="0.9" fill="#a0bee8"/><rect x="317.17" y="449.80" width="0.8" height="0.9" fill="#4a80c8"/><rect x="305.22" y="448.80" width="0.8" height="0.9" fill="#8eb0e0"/><rect x="324.63" y="453.58" width="0.8" height="0.9" fill="#6a98d4"/><rect x="316.31" y="451.79" width="0.8" height="0.9" fill="#80a6dc"/><rect x="319.11" y="459.02" width="0.8" height="0.9" fill="#b4cdee"/><rect x="326.38" y="454.30" width="0.8" height="0.9" fill="#8eb0e0"/><rect x="323.54" y="465.19" width="0.8" height="0.9" fill="#98b8e4"/><rect x="304.56" y="447.75" width="0.8" height="0.9" fill="#b4cdee"/><rect x="309.67" y="463.28" width="0.8" height="0.9" fill="#98b8e4"/><rect x="321.69" y="457.37" width="0.8" height="0.9" fill="#b4cdee"/><rect x="319.49" y="450.82" width="0.8" height="0.9" fill="#5a8ccc"/><rect x="316.16" y="443.41" width="0.8" height="0.9" fill="#a0bee8"/><rect x="307.47" y="449.96" width="0.8" height="0.9" fill="#a0bee8"/><rect x="304.12" y="450.29" width="0.8" height="0.9" fill="#8eb0e0"/><rect x="316.27" y="455.55" width="0.8" height="0.9" fill="#80a6dc"/><rect x="313.28" y="448.17" width="0.8" height="0.9" fill="#8eb0e0"/><rect x="323.86" y="446.89" width="0.8" height="0.9" fill="#98b8e4"/><rect x="315.54" y="452.32" width="0.8" height="0.9" fill="#4a80c8"/><rect x="322.50" y="467.32" width="0.8" height="0.9" fill="#b4cdee"/><rect x="323.75" y="452.60" width="0.8" height="0.9" fill="#b4cdee"/><rect x="316.64" y="447.97" width="0.8" height="0.9" fill="#4a80c8"/><rect x="322.04" y="452.76" width="0.8" height="0.9" fill="#5a8ccc"/><rect x="317.71" y="461.55" width="0.8" height="0.9" fill="#98b8e4"/><rect x="330.01" y="445.48" width="0.8" height="0.9" fill="#8eb0e0"/><rect x="313.39" y="454.56" width="0.8" height="0.9" fill="#80a6dc"/><rect x="327.12" y="455.25" width="0.8" height="0.9" fill="#98b8e4"/><rect x="304.90" y="454.33" width="0.8" height="0.9" fill="#a0bee8"/><rect x="321.36" y="448.50" width="0.8" height="0.9" fill="#5aa0b8"/><rect x="324.38" y="454.46" width="0.8" height="0.9" fill="#a0bee8"/><rect x="317.02" y="464.56" width="0.8" height="0.9" fill="#80a6dc"/><rect x="310.55" y="454.56" width="0.8" height="0.9" fill="#b4cdee"/><rect x="318.87" y="452.13" width="0.8" height="0.9" fill="#a0bee8"/><rect x="319.81" y="448.87" width="0.8" height="0.9" fill="#98b8e4"/><rect x="312.53" y="460.96" width="0.8" height="0.9" fill="#80a6dc"/><rect x="316.83" y="459.37" width="0.8" height="0.9" fill="#80a6dc"/><rect x="307.04" y="463.44" width="0.8" height="0.9" fill="#b4cdee"/><rect x="315.10" y="461.11" width="0.8" height="0.9" fill="#b4cdee"/><rect x="322.88" y="459.83" width="0.8" height="0.9" fill="#b4cdee"/><rect x="329.22" y="444.95" width="0.8" height="0.9" fill="#b4cdee"/><rect x="306.74" y="446.52" width="0.8" height="0.9" fill="#b4cdee"/><rect x="305.48" y="449.41" width="0.8" height="0.9" fill="#98b8e4"/><rect x="319.96" y="456.03" width="0.8" height="0.9" fill="#98b8e4"/><rect x="304.72" y="454.93" width="0.8" height="0.9" fill="#a0bee8"/><rect x="320.44" y="445.42" width="0.8" height="0.9" fill="#98b8e4"/><rect x="323.41" y="457.91" width="0.8" height="0.9" fill="#80a6dc"/><rect x="323.20" y="456.28" width="0.8" height="0.9" fill="#b4cdee"/><rect x="317.89" y="449.99" width="0.8" height="0.9" fill="#6a98d4"/><rect x="312.25" y="453.95" width="0.8" height="0.9" fill="#4a80c8"/><rect x="311.38" y="452.91" width="0.8" height="0.9" fill="#8eb0e0"/><rect x="318.60" y="451.42" width="0.8" height="0.9" fill="#5aa0b8"/><rect x="319.07" y="456.60" width="0.8" height="0.9" fill="#6a98d4"/><rect x="321.08" y="452.29" width="0.8" height="0.9" fill="#5aa0b8"/><rect x="318.09" y="452.59" width="0.8" height="0.9" fill="#80a6dc"/><rect x="319.21" y="443.79" width="0.8" height="0.9" fill="#80a6dc"/><rect x="315.93" y="452.80" width="0.8" height="0.9" fill="#5aa0b8"/><rect x="312.36" y="460.24" width="0.8" height="0.9" fill="#80a6dc"/><rect x="304.67" y="449.60" width="0.8" height="0.9" fill="#8eb0e0"/><rect x="318.29" y="452.78" width="0.8" height="0.9" fill="#4a80c8"/><rect x="316.38" y="448.71" width="0.8" height="0.9" fill="#4a9ab4"/><rect x="305.06" y="460.68" width="0.8" height="0.9" fill="#b4cdee"/><rect x="303.76" y="453.34" width="0.8" height="0.9" fill="#a0bee8"/><rect x="307.05" y="454.50" width="0.8" height="0.9" fill="#a0bee8"/><rect x="307.46" y="458.98" width="0.8" height="0.9" fill="#80a6dc"/><rect x="323.87" y="447.35" width="0.8" height="0.9" fill="#4a80c8"/><rect x="324.89" y="446.54" width="0.8" height="0.9" fill="#80a6dc"/><rect x="322.26" y="451.06" width="0.8" height="0.9" fill="#98b8e4"/><rect x="317.75" y="451.20" width="0.8" height="0.9" fill="#6a98d4"/><rect x="326.59" y="456.97" width="0.8" height="0.9" fill="#a0bee8"/><rect x="315.28" y="452.54" width="0.8" height="0.9" fill="#4a9ab4"/><rect x="313.08" y="446.78" width="0.8" height="0.9" fill="#98b8e4"/><rect x="304.38" y="444.27" width="0.8" height="0.9" fill="#80a6dc"/><rect x="312.32" y="451.23" width="0.8" height="0.9" fill="#b4cdee"/><rect x="324.04" y="447.21" width="0.8" height="0.9" fill="#a0bee8"/><rect x="312.35" y="454.50" width="0.8" height="0.9" fill="#6a98d4"/><rect x="310.46" y="447.66" width="0.8" height="0.9" fill="#8eb0e0"/><rect x="327.19" y="451.17" width="0.8" height="0.9" fill="#8eb0e0"/><rect x="317.59" y="449.38" width="0.8" height="0.9" fill="#4a9ab4"/><rect x="315.27" y="452.75" width="0.8" height="0.9" fill="#4a9ab4"/><rect x="310.88" y="460.10" width="0.8" height="0.9" fill="#80a6dc"/><rect x="315.65" y="450.16" width="0.8" height="0.9" fill="#80a6dc"/><rect x="328.84" y="456.24" width="0.8" height="0.9" fill="#8eb0e0"/><rect x="329.01" y="460.14" width="0.8" height="0.9" fill="#8eb0e0"/><rect x="315.97" y="447.95" width="0.8" height="0.9" fill="#8eb0e0"/><rect x="312.62" y="455.47" width="0.8" height="0.9" fill="#98b8e4"/><rect x="318.73" y="451.99" width="0.8" height="0.9" fill="#b4cdee"/><rect x="314.63" y="449.68" width="0.8" height="0.9" fill="#5aa0b8"/><rect x="337.49" y="465.50" width="0.8" height="0.8" fill="#b0c8ec"/><rect x="335.92" y="468.71" width="0.8" height="0.8" fill="#b0c8ec"/><rect x="338.04" y="462.01" width="0.8" height="0.8" fill="#b0c8ec"/><rect x="337.30" y="463.49" width="0.8" height="0.8" fill="#b0c8ec"/><rect x="339.26" y="467.45" width="0.8" height="0.8" fill="#b0c8ec"/><rect x="337.54" y="462.88" width="0.8" height="0.8" fill="#b0c8ec"/><rect x="334.38" y="468.32" width="0.8" height="0.8" fill="#b0c8ec"/><rect x="337.31" y="469.89" width="0.8" height="0.8" fill="#b0c8ec"/><rect x="337.89" y="458.50" width="0.8" height="0.8" fill="#b0c8ec"/><rect x="340.51" y="466.02" width="0.8" height="0.8" fill="#b0c8ec"/><rect x="338.34" y="468.56" width="0.8" height="0.8" fill="#b0c8ec"/><rect x="342.01" y="467.17" width="0.8" height="0.8" fill="#b0c8ec"/><rect x="342.26" y="461.59" width="0.8" height="0.8" fill="#b0c8ec"/><rect x="338.02" y="467.15" width="0.8" height="0.8" fill="#b0c8ec"/><rect x="341.40" y="468.84" width="0.8" height="0.8" fill="#b0c8ec"/><rect x="336.30" y="462.89" width="0.8" height="0.8" fill="#b0c8ec"/><rect x="335.43" y="461.84" width="0.8" height="0.8" fill="#b0c8ec"/><rect x="335.03" y="465.82" width="0.8" height="0.8" fill="#b0c8ec"/><rect x="337.09" y="468.25" width="0.8" height="0.8" fill="#b0c8ec"/><rect x="340.56" y="470.73" width="0.8" height="0.8" fill="#b0c8ec"/><rect x="336.62" y="467.58" width="0.8" height="0.8" fill="#b0c8ec"/><rect x="336.78" y="460.38" width="0.8" height="0.8" fill="#b0c8ec"/><rect x="334.78" y="461.55" width="0.8" height="0.8" fill="#b0c8ec"/><rect x="336.27" y="461.14" width="0.8" height="0.8" fill="#b0c8ec"/><rect x="334.50" y="462.16" width="0.8" height="0.8" fill="#b0c8ec"/><rect x="336.15" y="463.10" width="0.8" height="0.8" fill="#b0c8ec"/><rect x="339.16" y="460.90" width="0.8" height="0.8" fill="#b0c8ec"/><rect x="338.17" y="469.14" width="0.8" height="0.8" fill="#b0c8ec"/><rect x="335.05" y="463.07" width="0.8" height="0.8" fill="#b0c8ec"/><rect x="340.77" y="464.04" width="0.8" height="0.8" fill="#b0c8ec"/>
<line x1="302.90" y1="467.50" x2="304.90" y2="467.50" stroke="#5a88cc" stroke-width="0.9"/>
<path d="M336.40000000000003 461.2L340.00000000000006 469.8L333.20000000000005 469.8Z" fill="#5a8ad0" stroke="#7aa2dc" stroke-width="0.6"/>
<ellipse cx="336.40000000000003" cy="467.4" rx="2.3" ry="2.2" fill="#3cae5a"/>
<ellipse cx="336.40000000000003" cy="467.5" rx="1.35" ry="1.3" fill="#a8cc3a"/>
<ellipse cx="336.40000000000003" cy="467.5" rx="0.8" ry="0.75" fill="#f07028"/>
<rect x="301.4" y="441.3" width="32.400000000000034" height="30.0" fill="none" stroke="#8a7070" stroke-width="0.9"/>
<rect x="296.4" y="412.2" width="60.400000000000034" height="59.60000000000002" fill="none" stroke="#111" stroke-width="1.1"/>
<line x1="293.20" y1="471.50" x2="296.40" y2="471.50" stroke="#777" stroke-width="0.7"/>
<line x1="294.60" y1="469.50" x2="296.40" y2="469.50" stroke="#333" stroke-width="0.7"/>
<line x1="294.60" y1="467.50" x2="296.40" y2="467.50" stroke="#333" stroke-width="0.7"/>
<line x1="294.60" y1="464.50" x2="296.40" y2="464.50" stroke="#333" stroke-width="0.7"/>
<line x1="294.60" y1="462.50" x2="296.40" y2="462.50" stroke="#333" stroke-width="0.7"/>
<line x1="293.20" y1="460.50" x2="296.40" y2="460.50" stroke="#777" stroke-width="0.7"/>
<line x1="294.60" y1="458.50" x2="296.40" y2="458.50" stroke="#333" stroke-width="0.7"/>
<line x1="294.60" y1="455.50" x2="296.40" y2="455.50" stroke="#333" stroke-width="0.7"/>
<line x1="294.60" y1="453.50" x2="296.40" y2="453.50" stroke="#333" stroke-width="0.7"/>
<line x1="294.60" y1="451.50" x2="296.40" y2="451.50" stroke="#333" stroke-width="0.7"/>
<line x1="293.20" y1="449.50" x2="296.40" y2="449.50" stroke="#777" stroke-width="0.7"/>
<line x1="294.60" y1="446.50" x2="296.40" y2="446.50" stroke="#333" stroke-width="0.7"/>
<line x1="294.60" y1="444.50" x2="296.40" y2="444.50" stroke="#333" stroke-width="0.7"/>
<line x1="294.60" y1="442.50" x2="296.40" y2="442.50" stroke="#333" stroke-width="0.7"/>
<line x1="294.60" y1="440.50" x2="296.40" y2="440.50" stroke="#333" stroke-width="0.7"/>
<line x1="293.20" y1="437.50" x2="296.40" y2="437.50" stroke="#777" stroke-width="0.7"/>
<line x1="294.60" y1="435.50" x2="296.40" y2="435.50" stroke="#333" stroke-width="0.7"/>
<line x1="294.60" y1="433.50" x2="296.40" y2="433.50" stroke="#333" stroke-width="0.7"/>
<line x1="294.60" y1="430.50" x2="296.40" y2="430.50" stroke="#333" stroke-width="0.7"/>
<line x1="294.60" y1="428.50" x2="296.40" y2="428.50" stroke="#333" stroke-width="0.7"/>
<line x1="293.20" y1="426.50" x2="296.40" y2="426.50" stroke="#777" stroke-width="0.7"/>
<line x1="294.60" y1="424.50" x2="296.40" y2="424.50" stroke="#333" stroke-width="0.7"/>
<line x1="294.60" y1="421.50" x2="296.40" y2="421.50" stroke="#333" stroke-width="0.7"/>
<line x1="294.60" y1="419.50" x2="296.40" y2="419.50" stroke="#333" stroke-width="0.7"/>
<line x1="294.60" y1="417.50" x2="296.40" y2="417.50" stroke="#333" stroke-width="0.7"/>
<line x1="293.20" y1="415.50" x2="296.40" y2="415.50" stroke="#777" stroke-width="0.7"/>
<line x1="298.50" y1="471.80" x2="298.50" y2="474.00" stroke="#222" stroke-width="0.8"/>
<line x1="301.50" y1="471.80" x2="301.50" y2="474.00" stroke="#222" stroke-width="0.8"/>
<line x1="304.50" y1="471.80" x2="304.50" y2="474.00" stroke="#222" stroke-width="0.8"/>
<line x1="308.50" y1="471.80" x2="308.50" y2="474.00" stroke="#222" stroke-width="0.8"/>
<line x1="311.50" y1="471.80" x2="311.50" y2="475.20" stroke="#222" stroke-width="0.7"/>
<line x1="315.50" y1="471.80" x2="315.50" y2="474.20" stroke="#222" stroke-width="0.7"/>
<line x1="317.50" y1="471.80" x2="317.50" y2="474.20" stroke="#222" stroke-width="0.7"/>
<line x1="318.50" y1="471.80" x2="318.50" y2="474.20" stroke="#222" stroke-width="0.7"/>
<line x1="319.50" y1="471.80" x2="319.50" y2="474.20" stroke="#222" stroke-width="0.7"/>
<line x1="320.50" y1="471.80" x2="320.50" y2="474.20" stroke="#222" stroke-width="0.7"/>
<line x1="321.50" y1="471.80" x2="321.50" y2="474.20" stroke="#222" stroke-width="0.7"/>
<line x1="322.50" y1="471.80" x2="322.50" y2="474.20" stroke="#222" stroke-width="0.7"/>
<line x1="322.50" y1="471.80" x2="322.50" y2="474.20" stroke="#222" stroke-width="0.7"/>
<rect x="312.90" y="474.00" width="9.50" height="1.3" fill="#666" opacity="0.6"/>
<line x1="323.50" y1="471.80" x2="323.50" y2="475.20" stroke="#222" stroke-width="0.7"/>
<line x1="327.50" y1="471.80" x2="327.50" y2="474.20" stroke="#222" stroke-width="0.7"/>
<line x1="329.50" y1="471.80" x2="329.50" y2="474.20" stroke="#222" stroke-width="0.7"/>
<line x1="330.50" y1="471.80" x2="330.50" y2="474.20" stroke="#222" stroke-width="0.7"/>
<line x1="331.50" y1="471.80" x2="331.50" y2="474.20" stroke="#222" stroke-width="0.7"/>
<line x1="332.50" y1="471.80" x2="332.50" y2="474.20" stroke="#222" stroke-width="0.7"/>
<line x1="333.50" y1="471.80" x2="333.50" y2="474.20" stroke="#222" stroke-width="0.7"/>
<line x1="334.50" y1="471.80" x2="334.50" y2="474.20" stroke="#222" stroke-width="0.7"/>
<line x1="334.50" y1="471.80" x2="334.50" y2="474.20" stroke="#222" stroke-width="0.7"/>
<rect x="324.90" y="474.00" width="9.50" height="1.3" fill="#666" opacity="0.6"/>
<line x1="335.50" y1="471.80" x2="335.50" y2="475.20" stroke="#222" stroke-width="0.7"/>
<line x1="339.50" y1="471.80" x2="339.50" y2="474.20" stroke="#222" stroke-width="0.7"/>
<line x1="341.50" y1="471.80" x2="341.50" y2="474.20" stroke="#222" stroke-width="0.7"/>
<line x1="342.50" y1="471.80" x2="342.50" y2="474.20" stroke="#222" stroke-width="0.7"/>
<line x1="343.50" y1="471.80" x2="343.50" y2="474.20" stroke="#222" stroke-width="0.7"/>
<line x1="344.50" y1="471.80" x2="344.50" y2="474.20" stroke="#222" stroke-width="0.7"/>
<line x1="345.50" y1="471.80" x2="345.50" y2="474.20" stroke="#222" stroke-width="0.7"/>
<line x1="346.50" y1="471.80" x2="346.50" y2="474.20" stroke="#222" stroke-width="0.7"/>
<line x1="346.50" y1="471.80" x2="346.50" y2="474.20" stroke="#222" stroke-width="0.7"/>
<rect x="336.90" y="474.00" width="9.50" height="1.3" fill="#666" opacity="0.6"/>
<line x1="347.50" y1="471.80" x2="347.50" y2="475.20" stroke="#222" stroke-width="0.7"/>
<line x1="351.50" y1="471.80" x2="351.50" y2="474.20" stroke="#222" stroke-width="0.7"/>
<line x1="353.50" y1="471.80" x2="353.50" y2="474.20" stroke="#222" stroke-width="0.7"/>
<line x1="354.50" y1="471.80" x2="354.50" y2="474.20" stroke="#222" stroke-width="0.7"/>
<rect x="348.90" y="474.00" width="7.90" height="1.3" fill="#666" opacity="0.6"/>
<text x="317.60" y="439.30" font-size="8.3" text-anchor="middle" font-weight="normal" fill="#222" textLength="15.80" lengthAdjust="spacingAndGlyphs">30.4</text>
<text transform="translate(287.80,469.50) rotate(-90)" x="0" y="0" font-size="9.6" text-anchor="middle" fill="#222" textLength="13.10" lengthAdjust="spacingAndGlyphs">SSC</text>
<line x1="285.50" y1="459.30" x2="285.50" y2="440.00" stroke="#333" stroke-width="1.1"/>
<path d="M283.4 440.8L285.5 436L287.6 440.8Z" fill="#111"/>
<text x="297.60" y="488.00" font-size="9.2" text-anchor="start" font-weight="normal" fill="#222" textLength="54.50" lengthAdjust="spacingAndGlyphs">Cell trace violet</text>
<line x1="355.90" y1="484.50" x2="376.00" y2="484.50" stroke="#222" stroke-width="1.0"/>
<path d="M375 482.3L380 484.5L375 486.7Z" fill="#111"/>
<line x1="423.50" y1="318.75" x2="423.50" y2="413.50" stroke="#1a1a1a" stroke-width="1"/>
<line x1="422.75" y1="412.50" x2="484.30" y2="412.50" stroke="#1a1a1a" stroke-width="1"/>
<line x1="419.95" y1="412.50" x2="423.25" y2="412.50" stroke="#1a1a1a" stroke-width="1"/>
<text x="416.45" y="416.40" font-size="9.5" text-anchor="end" font-weight="normal" fill="#222" textLength="4.56" lengthAdjust="spacingAndGlyphs">0</text>
<line x1="419.95" y1="394.50" x2="423.25" y2="394.50" stroke="#1a1a1a" stroke-width="1"/>
<text x="416.45" y="398.05" font-size="9.5" text-anchor="end" font-weight="normal" fill="#222" textLength="9.12" lengthAdjust="spacingAndGlyphs">10</text>
<line x1="419.95" y1="376.50" x2="423.25" y2="376.50" stroke="#1a1a1a" stroke-width="1"/>
<text x="416.45" y="379.70" font-size="9.5" text-anchor="end" font-weight="normal" fill="#222" textLength="9.12" lengthAdjust="spacingAndGlyphs">20</text>
<line x1="419.95" y1="357.50" x2="423.25" y2="357.50" stroke="#1a1a1a" stroke-width="1"/>
<text x="416.45" y="361.35" font-size="9.5" text-anchor="end" font-weight="normal" fill="#222" textLength="9.12" lengthAdjust="spacingAndGlyphs">30</text>
<line x1="419.95" y1="339.50" x2="423.25" y2="339.50" stroke="#1a1a1a" stroke-width="1"/>
<text x="416.45" y="343.00" font-size="9.5" text-anchor="end" font-weight="normal" fill="#222" textLength="9.12" lengthAdjust="spacingAndGlyphs">40</text>
<line x1="419.95" y1="321.50" x2="423.25" y2="321.50" stroke="#1a1a1a" stroke-width="1"/>
<text x="416.45" y="324.65" font-size="9.5" text-anchor="end" font-weight="normal" fill="#222" textLength="9.12" lengthAdjust="spacingAndGlyphs">50</text>
<line x1="432.50" y1="413.00" x2="432.50" y2="416.00" stroke="#1a1a1a" stroke-width="1"/>
<line x1="447.50" y1="413.00" x2="447.50" y2="416.00" stroke="#1a1a1a" stroke-width="1"/>
<line x1="461.50" y1="413.00" x2="461.50" y2="416.00" stroke="#1a1a1a" stroke-width="1"/>
<line x1="474.50" y1="413.00" x2="474.50" y2="416.00" stroke="#1a1a1a" stroke-width="1"/>
<text transform="translate(401.20,365.50) rotate(-90)" x="0" y="0" font-size="9.6" text-anchor="middle" fill="#222" textLength="53.10" lengthAdjust="spacingAndGlyphs">% proliferating</text>
<text x="439.20" y="320.40" font-size="9.4" text-anchor="start" font-weight="normal" fill="#222">+</text>
<text x="446.90" y="319.70" font-size="9.3" text-anchor="start" font-weight="normal" fill="#222" textLength="21.90" lengthAdjust="spacingAndGlyphs">Balb/c</text>
<text x="445.80" y="328.90" font-size="9.3" text-anchor="start" font-weight="normal" fill="#222" textLength="14.60" lengthAdjust="spacingAndGlyphs">DCs</text>
<text x="452.00" y="394.10" font-size="9.4" text-anchor="start" font-weight="normal" fill="#222" textLength="26.80" lengthAdjust="spacingAndGlyphs">Control</text>
<line x1="432.50" y1="351.60" x2="432.50" y2="373.60" stroke="#1a1a1a" stroke-width="1"/>
<line x1="430.40" y1="351.50" x2="434.80" y2="351.50" stroke="#1a1a1a" stroke-width="1"/>
<line x1="430.40" y1="373.50" x2="434.80" y2="373.50" stroke="#1a1a1a" stroke-width="1"/>
<line x1="428.00" y1="362.50" x2="437.20" y2="362.50" stroke="#1a1a1a" stroke-width="1"/>
<path d="M430.90 349.70L433.00 351.80L430.90 353.90L428.80 351.80Z" fill="#c8002e" stroke="#1a0006" stroke-width="0.8"/>
<path d="M434.60 354.40L436.70 356.50L434.60 358.60L432.50 356.50Z" fill="#c8002e" stroke="#1a0006" stroke-width="0.8"/>
<path d="M432.60 364.10L434.70 366.20L432.60 368.30L430.50 366.20Z" fill="#c8002e" stroke="#1a0006" stroke-width="0.8"/>
<path d="M432.60 374.50L434.70 376.60L432.60 378.70L430.50 376.60Z" fill="#c8002e" stroke="#1a0006" stroke-width="0.8"/>
<line x1="446.50" y1="340.50" x2="446.50" y2="360.30" stroke="#1a1a1a" stroke-width="1"/>
<line x1="444.60" y1="340.50" x2="449.00" y2="340.50" stroke="#1a1a1a" stroke-width="1"/>
<line x1="444.60" y1="360.50" x2="449.00" y2="360.50" stroke="#1a1a1a" stroke-width="1"/>
<line x1="442.20" y1="350.50" x2="451.40" y2="350.50" stroke="#1a1a1a" stroke-width="1"/>
<rect x="443.00" y="337.70" width="3.80" height="3.80" fill="#2a5cb0" stroke="#0a1030" stroke-width="0.8"/>
<rect x="446.70" y="341.10" width="3.80" height="3.80" fill="#2a5cb0" stroke="#0a1030" stroke-width="0.8"/>
<rect x="443.00" y="358.40" width="3.80" height="3.80" fill="#2a5cb0" stroke="#0a1030" stroke-width="0.8"/>
<rect x="446.70" y="358.40" width="3.80" height="3.80" fill="#2a5cb0" stroke="#0a1030" stroke-width="0.8"/>
<path d="M459.00 405.60L461.10 407.70L459.00 409.80L456.90 407.70Z" fill="#c8002e" stroke="#1a0006" stroke-width="0.8"/>
<path d="M460.50 407.30L462.60 409.40L460.50 411.50L458.40 409.40Z" fill="#c8002e" stroke="#1a0006" stroke-width="0.8"/>
<path d="M462.30 408.90L464.40 411.00L462.30 413.10L460.20 411.00Z" fill="#c8002e" stroke="#1a0006" stroke-width="0.8"/>
<path d="M463.50 409.80L465.60 411.90L463.50 414.00L461.40 411.90Z" fill="#c8002e" stroke="#1a0006" stroke-width="0.8"/>
<rect x="471.50" y="403.50" width="3.80" height="3.80" fill="#2a5cb0" stroke="#0a1030" stroke-width="0.8"/>
<rect x="472.60" y="405.40" width="3.80" height="3.80" fill="#2a5cb0" stroke="#0a1030" stroke-width="0.8"/>
<rect x="474.80" y="407.70" width="3.80" height="3.80" fill="#2a5cb0" stroke="#0a1030" stroke-width="0.8"/>
<rect x="474.30" y="409.30" width="3.80" height="3.80" fill="#2a5cb0" stroke="#0a1030" stroke-width="0.8"/>
<path d="M420.30 428.20L422.40 430.30L420.30 432.40L418.20 430.30Z" fill="#c8002e" stroke="#1a0006" stroke-width="0.95"/>
<text x="425.40" y="433.50" font-size="9.2" text-anchor="start" font-weight="normal" fill="#222" textLength="11.60" lengthAdjust="spacingAndGlyphs">WT</text>
<rect x="446.70" y="428.50" width="3.60" height="3.60" fill="#2a5cb0" stroke="#0a1030" stroke-width="0.7"/>
<text x="453.60" y="433.50" font-size="9.2" text-anchor="start" font-weight="normal" fill="#222" textLength="34.20" lengthAdjust="spacingAndGlyphs">GM-CSF<tspan baseline-shift="42%" font-size="70%">-/-</tspan></text>
<line x1="42.50" y1="534.50" x2="42.50" y2="625.25" stroke="#1a1a1a" stroke-width="1"/>
<line x1="41.50" y1="624.50" x2="86.25" y2="624.50" stroke="#1a1a1a" stroke-width="1"/>
<line x1="38.70" y1="624.50" x2="42.00" y2="624.50" stroke="#1a1a1a" stroke-width="1"/>
<text x="35.20" y="628.15" font-size="9.5" text-anchor="end" font-weight="normal" fill="#222" textLength="4.56" lengthAdjust="spacingAndGlyphs">0</text>
<line x1="38.70" y1="595.50" x2="42.00" y2="595.50" stroke="#1a1a1a" stroke-width="1"/>
<text x="35.20" y="598.90" font-size="9.5" text-anchor="end" font-weight="normal" fill="#222" textLength="11.40" lengthAdjust="spacingAndGlyphs">0.5</text>
<line x1="38.70" y1="566.50" x2="42.00" y2="566.50" stroke="#1a1a1a" stroke-width="1"/>
<text x="35.20" y="569.65" font-size="9.5" text-anchor="end" font-weight="normal" fill="#222" textLength="11.40" lengthAdjust="spacingAndGlyphs">1.0</text>
<line x1="38.70" y1="536.50" x2="42.00" y2="536.50" stroke="#1a1a1a" stroke-width="1"/>
<text x="35.20" y="540.40" font-size="9.5" text-anchor="end" font-weight="normal" fill="#222" textLength="11.40" lengthAdjust="spacingAndGlyphs">1.5</text>
<line x1="54.50" y1="624.75" x2="54.50" y2="627.75" stroke="#1a1a1a" stroke-width="1"/>
<line x1="73.50" y1="624.75" x2="73.50" y2="627.75" stroke="#1a1a1a" stroke-width="1"/>
<text transform="translate(17.80,579.40) rotate(-90)" x="0" y="0" font-size="10.2" text-anchor="middle" fill="#222" textLength="70.80" lengthAdjust="spacingAndGlyphs">Ratio Thy1.1/Thy1.2</text>
<line x1="54.50" y1="571.30" x2="54.50" y2="602.50" stroke="#1a1a1a" stroke-width="1"/>
<line x1="52.00" y1="571.50" x2="58.00" y2="571.50" stroke="#1a1a1a" stroke-width="1"/>
<line x1="52.00" y1="602.50" x2="58.00" y2="602.50" stroke="#1a1a1a" stroke-width="1"/>
<line x1="49.00" y1="586.50" x2="61.00" y2="586.50" stroke="#1a1a1a" stroke-width="1"/>
<path d="M56.60 557.75L58.65 559.80L56.60 561.85L54.55 559.80Z" fill="#c8002e" stroke="#1a0006" stroke-width="0.95"/>
<path d="M53.00 562.35L55.05 564.40L53.00 566.45L50.95 564.40Z" fill="#c8002e" stroke="#1a0006" stroke-width="0.95"/>
<path d="M51.10 574.25L53.15 576.30L51.10 578.35L49.05 576.30Z" fill="#c8002e" stroke="#1a0006" stroke-width="0.95"/>
<path d="M58.60 573.05L60.65 575.10L58.60 577.15L56.55 575.10Z" fill="#c8002e" stroke="#1a0006" stroke-width="0.95"/>
<path d="M54.70 577.05L56.75 579.10L54.70 581.15L52.65 579.10Z" fill="#c8002e" stroke="#1a0006" stroke-width="0.95"/>
<path d="M54.70 582.45L56.75 584.50L54.70 586.55L52.65 584.50Z" fill="#c8002e" stroke="#1a0006" stroke-width="0.95"/>
<path d="M51.10 588.65L53.15 590.70L51.10 592.75L49.05 590.70Z" fill="#c8002e" stroke="#1a0006" stroke-width="0.95"/>
<path d="M58.60 587.25L60.65 589.30L58.60 591.35L56.55 589.30Z" fill="#c8002e" stroke="#1a0006" stroke-width="0.95"/>
<path d="M53.20 592.25L55.25 594.30L53.20 596.35L51.15 594.30Z" fill="#c8002e" stroke="#1a0006" stroke-width="0.95"/>
<path d="M53.00 597.05L55.05 599.10L53.00 601.15L50.95 599.10Z" fill="#c8002e" stroke="#1a0006" stroke-width="0.95"/>
<path d="M56.80 595.65L58.85 597.70L56.80 599.75L54.75 597.70Z" fill="#c8002e" stroke="#1a0006" stroke-width="0.95"/>
<path d="M56.60 603.05L58.65 605.10L56.60 607.15L54.55 605.10Z" fill="#c8002e" stroke="#1a0006" stroke-width="0.95"/>
<path d="M54.70 612.75L56.75 614.80L54.70 616.85L52.65 614.80Z" fill="#c8002e" stroke="#1a0006" stroke-width="0.95"/>
<line x1="73.50" y1="566.20" x2="73.50" y2="605.00" stroke="#1a1a1a" stroke-width="1"/>
<line x1="70.75" y1="566.50" x2="76.75" y2="566.50" stroke="#1a1a1a" stroke-width="1"/>
<line x1="70.75" y1="604.50" x2="76.75" y2="604.50" stroke="#1a1a1a" stroke-width="1"/>
<line x1="67.75" y1="585.50" x2="79.75" y2="585.50" stroke="#1a1a1a" stroke-width="1"/>
<rect x="69.92" y="545.62" width="3.15" height="3.15" fill="#2a5cb0" stroke="#0a1030" stroke-width="0.85"/>
<rect x="74.22" y="550.22" width="3.15" height="3.15" fill="#2a5cb0" stroke="#0a1030" stroke-width="0.85"/>
<rect x="69.92" y="574.52" width="3.15" height="3.15" fill="#2a5cb0" stroke="#0a1030" stroke-width="0.85"/>
<rect x="74.22" y="574.52" width="3.15" height="3.15" fill="#2a5cb0" stroke="#0a1030" stroke-width="0.85"/>
<rect x="72.12" y="586.72" width="3.15" height="3.15" fill="#2a5cb0" stroke="#0a1030" stroke-width="0.85"/>
<rect x="76.33" y="589.52" width="3.15" height="3.15" fill="#2a5cb0" stroke="#0a1030" stroke-width="0.85"/>
<rect x="68.22" y="592.52" width="3.15" height="3.15" fill="#2a5cb0" stroke="#0a1030" stroke-width="0.85"/>
<rect x="72.12" y="591.32" width="3.15" height="3.15" fill="#2a5cb0" stroke="#0a1030" stroke-width="0.85"/>
<rect x="72.12" y="597.92" width="3.15" height="3.15" fill="#2a5cb0" stroke="#0a1030" stroke-width="0.85"/>
<rect x="67.83" y="601.12" width="3.15" height="3.15" fill="#2a5cb0" stroke="#0a1030" stroke-width="0.85"/>
<rect x="72.12" y="602.12" width="3.15" height="3.15" fill="#2a5cb0" stroke="#0a1030" stroke-width="0.85"/>
<rect x="76.33" y="605.12" width="3.15" height="3.15" fill="#2a5cb0" stroke="#0a1030" stroke-width="0.85"/>
<line x1="144.50" y1="534.40" x2="144.50" y2="625.30" stroke="#1a1a1a" stroke-width="1"/>
<line x1="144.10" y1="624.50" x2="188.00" y2="624.50" stroke="#1a1a1a" stroke-width="1"/>
<line x1="141.30" y1="624.50" x2="144.60" y2="624.50" stroke="#1a1a1a" stroke-width="1"/>
<text x="137.80" y="628.20" font-size="9.5" text-anchor="end" font-weight="normal" fill="#222" textLength="4.56" lengthAdjust="spacingAndGlyphs">0</text>
<line x1="141.30" y1="595.50" x2="144.60" y2="595.50" stroke="#1a1a1a" stroke-width="1"/>
<text x="137.80" y="599.03" font-size="9.5" text-anchor="end" font-weight="normal" fill="#222" textLength="11.40" lengthAdjust="spacingAndGlyphs">0.5</text>
<line x1="141.30" y1="566.50" x2="144.60" y2="566.50" stroke="#1a1a1a" stroke-width="1"/>
<text x="137.80" y="569.87" font-size="9.5" text-anchor="end" font-weight="normal" fill="#222" textLength="4.56" lengthAdjust="spacingAndGlyphs">1</text>
<line x1="141.30" y1="537.50" x2="144.60" y2="537.50" stroke="#1a1a1a" stroke-width="1"/>
<text x="137.80" y="540.70" font-size="9.5" text-anchor="end" font-weight="normal" fill="#222" textLength="11.40" lengthAdjust="spacingAndGlyphs">1.5</text>
<line x1="156.50" y1="624.80" x2="156.50" y2="627.80" stroke="#1a1a1a" stroke-width="1"/>
<line x1="175.50" y1="624.80" x2="175.50" y2="627.80" stroke="#1a1a1a" stroke-width="1"/>
<text transform="translate(119.40,579.65) rotate(-90)" x="0" y="0" font-size="9.8" text-anchor="middle" fill="#222" textLength="83.70" lengthAdjust="spacingAndGlyphs">Total  donor CD4<tspan baseline-shift="42%" font-size="70%">+</tspan> (10<tspan baseline-shift="42%" font-size="70%">6</tspan>)</text>
<line x1="156.50" y1="572.20" x2="156.50" y2="614.00" stroke="#1a1a1a" stroke-width="1"/>
<line x1="153.70" y1="572.50" x2="159.70" y2="572.50" stroke="#1a1a1a" stroke-width="1"/>
<line x1="153.70" y1="614.50" x2="159.70" y2="614.50" stroke="#1a1a1a" stroke-width="1"/>
<line x1="150.70" y1="593.50" x2="162.70" y2="593.50" stroke="#1a1a1a" stroke-width="1"/>
<path d="M156.80 559.65L158.85 561.70L156.80 563.75L154.75 561.70Z" fill="#c8002e" stroke="#1a0006" stroke-width="0.95"/>
<path d="M161.00 556.75L163.05 558.80L161.00 560.85L158.95 558.80Z" fill="#c8002e" stroke="#1a0006" stroke-width="0.95"/>
<path d="M154.40 568.35L156.45 570.40L154.40 572.45L152.35 570.40Z" fill="#c8002e" stroke="#1a0006" stroke-width="0.95"/>
<path d="M159.00 568.95L161.05 571.00L159.00 573.05L156.95 571.00Z" fill="#c8002e" stroke="#1a0006" stroke-width="0.95"/>
<path d="M156.80 592.15L158.85 594.20L156.80 596.25L154.75 594.20Z" fill="#c8002e" stroke="#1a0006" stroke-width="0.95"/>
<path d="M152.60 596.25L154.65 598.30L152.60 600.35L150.55 598.30Z" fill="#c8002e" stroke="#1a0006" stroke-width="0.95"/>
<path d="M156.80 599.85L158.85 601.90L156.80 603.95L154.75 601.90Z" fill="#c8002e" stroke="#1a0006" stroke-width="0.95"/>
<path d="M152.60 603.45L154.65 605.50L152.60 607.55L150.55 605.50Z" fill="#c8002e" stroke="#1a0006" stroke-width="0.95"/>
<path d="M161.00 603.85L163.05 605.90L161.00 607.95L158.95 605.90Z" fill="#c8002e" stroke="#1a0006" stroke-width="0.95"/>
<path d="M152.60 608.05L154.65 610.10L152.60 612.15L150.55 610.10Z" fill="#c8002e" stroke="#1a0006" stroke-width="0.95"/>
<path d="M156.80 609.25L158.85 611.30L156.80 613.35L154.75 611.30Z" fill="#c8002e" stroke="#1a0006" stroke-width="0.95"/>
<path d="M161.00 610.05L163.05 612.10L161.00 614.15L158.95 612.10Z" fill="#c8002e" stroke="#1a0006" stroke-width="0.95"/>
<path d="M152.60 613.85L154.65 615.90L152.60 617.95L150.55 615.90Z" fill="#c8002e" stroke="#1a0006" stroke-width="0.95"/>
<line x1="175.50" y1="598.70" x2="175.50" y2="612.00" stroke="#1a1a1a" stroke-width="1"/>
<line x1="172.40" y1="598.50" x2="178.40" y2="598.50" stroke="#1a1a1a" stroke-width="1"/>
<line x1="172.40" y1="612.50" x2="178.40" y2="612.50" stroke="#1a1a1a" stroke-width="1"/>
<line x1="169.40" y1="604.50" x2="181.40" y2="604.50" stroke="#1a1a1a" stroke-width="1"/>
<rect x="173.93" y="586.32" width="3.15" height="3.15" fill="#2a5cb0" stroke="#0a1030" stroke-width="0.85"/>
<rect x="176.62" y="597.92" width="3.15" height="3.15" fill="#2a5cb0" stroke="#0a1030" stroke-width="0.85"/>
<rect x="171.43" y="601.02" width="3.15" height="3.15" fill="#2a5cb0" stroke="#0a1030" stroke-width="0.85"/>
<rect x="169.03" y="603.12" width="3.15" height="3.15" fill="#2a5cb0" stroke="#0a1030" stroke-width="0.85"/>
<rect x="173.33" y="603.92" width="3.15" height="3.15" fill="#2a5cb0" stroke="#0a1030" stroke-width="0.85"/>
<rect x="176.62" y="603.72" width="3.15" height="3.15" fill="#2a5cb0" stroke="#0a1030" stroke-width="0.85"/>
<rect x="179.33" y="603.12" width="3.15" height="3.15" fill="#2a5cb0" stroke="#0a1030" stroke-width="0.85"/>
<rect x="171.43" y="609.12" width="3.15" height="3.15" fill="#2a5cb0" stroke="#0a1030" stroke-width="0.85"/>
<rect x="176.33" y="607.92" width="3.15" height="3.15" fill="#2a5cb0" stroke="#0a1030" stroke-width="0.85"/>
<rect x="176.62" y="611.52" width="3.15" height="3.15" fill="#2a5cb0" stroke="#0a1030" stroke-width="0.85"/>
<rect x="173.93" y="614.32" width="3.15" height="3.15" fill="#2a5cb0" stroke="#0a1030" stroke-width="0.85"/>
<rect x="173.93" y="617.92" width="3.15" height="3.15" fill="#2a5cb0" stroke="#0a1030" stroke-width="0.85"/>
<line x1="256.50" y1="531.25" x2="256.50" y2="625.00" stroke="#1a1a1a" stroke-width="1"/>
<line x1="256.00" y1="624.50" x2="347.50" y2="624.50" stroke="#1a1a1a" stroke-width="1"/>
<line x1="253.20" y1="624.50" x2="256.50" y2="624.50" stroke="#1a1a1a" stroke-width="1"/>
<text x="249.70" y="627.90" font-size="9.5" text-anchor="end" font-weight="normal" fill="#222" textLength="4.56" lengthAdjust="spacingAndGlyphs">0</text>
<line x1="253.20" y1="606.50" x2="256.50" y2="606.50" stroke="#1a1a1a" stroke-width="1"/>
<text x="249.70" y="609.75" font-size="9.5" text-anchor="end" font-weight="normal" fill="#222" textLength="9.12" lengthAdjust="spacingAndGlyphs">20</text>
<line x1="253.20" y1="588.50" x2="256.50" y2="588.50" stroke="#1a1a1a" stroke-width="1"/>
<text x="249.70" y="591.60" font-size="9.5" text-anchor="end" font-weight="normal" fill="#222" textLength="9.12" lengthAdjust="spacingAndGlyphs">40</text>
<line x1="253.20" y1="570.50" x2="256.50" y2="570.50" stroke="#1a1a1a" stroke-width="1"/>
<text x="249.70" y="573.45" font-size="9.5" text-anchor="end" font-weight="normal" fill="#222" textLength="9.12" lengthAdjust="spacingAndGlyphs">60</text>
<line x1="253.20" y1="551.50" x2="256.50" y2="551.50" stroke="#1a1a1a" stroke-width="1"/>
<text x="249.70" y="555.30" font-size="9.5" text-anchor="end" font-weight="normal" fill="#222" textLength="9.12" lengthAdjust="spacingAndGlyphs">80</text>
<line x1="253.20" y1="533.50" x2="256.50" y2="533.50" stroke="#1a1a1a" stroke-width="1"/>
<text x="249.70" y="537.15" font-size="9.5" text-anchor="end" font-weight="normal" fill="#222" textLength="13.68" lengthAdjust="spacingAndGlyphs">100</text>
<line x1="265.50" y1="624.50" x2="265.50" y2="627.50" stroke="#1a1a1a" stroke-width="1"/>
<line x1="279.50" y1="624.50" x2="279.50" y2="627.50" stroke="#1a1a1a" stroke-width="1"/>
<line x1="294.50" y1="624.50" x2="294.50" y2="627.50" stroke="#1a1a1a" stroke-width="1"/>
<line x1="308.50" y1="624.50" x2="308.50" y2="627.50" stroke="#1a1a1a" stroke-width="1"/>
<line x1="322.50" y1="624.50" x2="322.50" y2="627.50" stroke="#1a1a1a" stroke-width="1"/>
<line x1="337.50" y1="624.50" x2="337.50" y2="627.50" stroke="#1a1a1a" stroke-width="1"/>
<line x1="287.50" y1="534.40" x2="287.50" y2="624.50" stroke="#555" stroke-width="1"/>
<line x1="316.50" y1="534.40" x2="316.50" y2="624.50" stroke="#555" stroke-width="1"/>
<text x="260.50" y="531.70" font-size="8.4" text-anchor="start" font-weight="normal" fill="#222" textLength="20.70" lengthAdjust="spacingAndGlyphs">IFN-&#947;</text>
<text x="288.00" y="531.70" font-size="8.4" text-anchor="start" font-weight="normal" fill="#222" textLength="24.50" lengthAdjust="spacingAndGlyphs">TNF-&#945;</text>
<text x="317.50" y="531.70" font-size="8.4" text-anchor="start" font-weight="normal" fill="#222" textLength="32.50" lengthAdjust="spacingAndGlyphs">GM-CSF</text>
<text transform="translate(217.60,576.80) rotate(-90)" x="0" y="0" font-size="10.5" text-anchor="middle" fill="#222" textLength="73.30" lengthAdjust="spacingAndGlyphs">% CD4<tspan baseline-shift="42%" font-size="70%">+</tspan> Thy1.1<tspan baseline-shift="42%" font-size="70%">+</tspan> cells</text>
<text transform="translate(230.50,578.20) rotate(-90)" x="0" y="0" font-size="10.5" text-anchor="middle" fill="#222" textLength="69.80" lengthAdjust="spacingAndGlyphs">expressing cytokine</text>
<line x1="265.50" y1="585.48" x2="265.50" y2="624.23" stroke="#1a1a1a" stroke-width="1"/>
<line x1="263.00" y1="585.50" x2="268.60" y2="585.50" stroke="#1a1a1a" stroke-width="1"/>
<line x1="263.00" y1="624.50" x2="268.60" y2="624.50" stroke="#1a1a1a" stroke-width="1"/>
<line x1="261.10" y1="604.50" x2="270.50" y2="604.50" stroke="#1a1a1a" stroke-width="1"/>
<path d="M265.90 568.64L267.95 570.69L265.90 572.74L263.85 570.69Z" fill="#c8002e" stroke="#1a0006" stroke-width="0.95"/>
<path d="M265.90 576.53L267.95 578.58L265.90 580.63L263.85 578.58Z" fill="#c8002e" stroke="#1a0006" stroke-width="0.95"/>
<path d="M265.90 586.69L267.95 588.74L265.90 590.79L263.85 588.74Z" fill="#c8002e" stroke="#1a0006" stroke-width="0.95"/>
<path d="M265.90 600.13L267.95 602.18L265.90 604.23L263.85 602.18Z" fill="#c8002e" stroke="#1a0006" stroke-width="0.95"/>
<path d="M267.00 607.02L269.05 609.07L267.00 611.12L264.95 609.07Z" fill="#c8002e" stroke="#1a0006" stroke-width="0.95"/>
<path d="M264.80 611.47L266.85 613.52L264.80 615.57L262.75 613.52Z" fill="#c8002e" stroke="#1a0006" stroke-width="0.95"/>
<path d="M263.50 617.73L265.55 619.78L263.50 621.83L261.45 619.78Z" fill="#c8002e" stroke="#1a0006" stroke-width="0.95"/>
<path d="M265.70 619.36L267.75 621.41L265.70 623.46L263.65 621.41Z" fill="#c8002e" stroke="#1a0006" stroke-width="0.95"/>
<path d="M267.60 621.36L269.65 623.41L267.60 625.46L265.55 623.41Z" fill="#c8002e" stroke="#1a0006" stroke-width="0.95"/>
<path d="M266.60 622.18L268.65 624.23L266.60 626.28L264.55 624.23Z" fill="#c8002e" stroke="#1a0006" stroke-width="0.95"/>
<line x1="279.50" y1="596.00" x2="279.50" y2="624.05" stroke="#1a1a1a" stroke-width="1"/>
<line x1="277.00" y1="596.50" x2="282.60" y2="596.50" stroke="#1a1a1a" stroke-width="1"/>
<line x1="277.00" y1="624.50" x2="282.60" y2="624.50" stroke="#1a1a1a" stroke-width="1"/>
<line x1="275.10" y1="609.50" x2="284.50" y2="609.50" stroke="#1a1a1a" stroke-width="1"/>
<rect x="278.53" y="577.01" width="3.15" height="3.15" fill="#2a5cb0" stroke="#0a1030" stroke-width="0.85"/>
<rect x="278.53" y="588.26" width="3.15" height="3.15" fill="#2a5cb0" stroke="#0a1030" stroke-width="0.85"/>
<rect x="278.53" y="593.70" width="3.15" height="3.15" fill="#2a5cb0" stroke="#0a1030" stroke-width="0.85"/>
<rect x="278.53" y="600.33" width="3.15" height="3.15" fill="#2a5cb0" stroke="#0a1030" stroke-width="0.85"/>
<rect x="278.53" y="613.21" width="3.15" height="3.15" fill="#2a5cb0" stroke="#0a1030" stroke-width="0.85"/>
<rect x="275.62" y="614.94" width="3.15" height="3.15" fill="#2a5cb0" stroke="#0a1030" stroke-width="0.85"/>
<rect x="281.03" y="614.39" width="3.15" height="3.15" fill="#2a5cb0" stroke="#0a1030" stroke-width="0.85"/>
<rect x="276.73" y="616.39" width="3.15" height="3.15" fill="#2a5cb0" stroke="#0a1030" stroke-width="0.85"/>
<rect x="278.93" y="617.66" width="3.15" height="3.15" fill="#2a5cb0" stroke="#0a1030" stroke-width="0.85"/>
<rect x="281.03" y="621.47" width="3.15" height="3.15" fill="#2a5cb0" stroke="#0a1030" stroke-width="0.85"/>
<rect x="277.43" y="620.93" width="3.15" height="3.15" fill="#2a5cb0" stroke="#0a1030" stroke-width="0.85"/>
<line x1="294.50" y1="598.64" x2="294.50" y2="617.69" stroke="#1a1a1a" stroke-width="1"/>
<line x1="291.80" y1="598.50" x2="297.40" y2="598.50" stroke="#1a1a1a" stroke-width="1"/>
<line x1="291.80" y1="617.50" x2="297.40" y2="617.50" stroke="#1a1a1a" stroke-width="1"/>
<line x1="289.90" y1="609.50" x2="299.30" y2="609.50" stroke="#1a1a1a" stroke-width="1"/>
<path d="M292.80 596.31L294.85 598.36L292.80 600.41L290.75 598.36Z" fill="#c8002e" stroke="#1a0006" stroke-width="0.95"/>
<path d="M296.00 596.31L298.05 598.36L296.00 600.41L293.95 598.36Z" fill="#c8002e" stroke="#1a0006" stroke-width="0.95"/>
<path d="M295.00 604.30L297.05 606.35L295.00 608.40L292.95 606.35Z" fill="#c8002e" stroke="#1a0006" stroke-width="0.95"/>
<path d="M296.60 608.66L298.65 610.71L296.60 612.76L294.55 610.71Z" fill="#c8002e" stroke="#1a0006" stroke-width="0.95"/>
<path d="M292.50 610.56L294.55 612.61L292.50 614.66L290.45 612.61Z" fill="#c8002e" stroke="#1a0006" stroke-width="0.95"/>
<path d="M292.50 615.19L294.55 617.24L292.50 619.29L290.45 617.24Z" fill="#c8002e" stroke="#1a0006" stroke-width="0.95"/>
<path d="M294.40 617.19L296.45 619.24L294.40 621.29L292.35 619.24Z" fill="#c8002e" stroke="#1a0006" stroke-width="0.95"/>
<path d="M296.00 619.36L298.05 621.41L296.00 623.46L293.95 621.41Z" fill="#c8002e" stroke="#1a0006" stroke-width="0.95"/>
<line x1="308.50" y1="603.63" x2="308.50" y2="616.79" stroke="#1a1a1a" stroke-width="1"/>
<line x1="305.90" y1="603.50" x2="311.50" y2="603.50" stroke="#1a1a1a" stroke-width="1"/>
<line x1="305.90" y1="616.50" x2="311.50" y2="616.50" stroke="#1a1a1a" stroke-width="1"/>
<line x1="304.00" y1="609.50" x2="313.40" y2="609.50" stroke="#1a1a1a" stroke-width="1"/>
<rect x="307.12" y="595.52" width="3.15" height="3.15" fill="#2a5cb0" stroke="#0a1030" stroke-width="0.85"/>
<rect x="306.32" y="602.32" width="3.15" height="3.15" fill="#2a5cb0" stroke="#0a1030" stroke-width="0.85"/>
<rect x="307.12" y="605.68" width="3.15" height="3.15" fill="#2a5cb0" stroke="#0a1030" stroke-width="0.85"/>
<rect x="304.62" y="608.86" width="3.15" height="3.15" fill="#2a5cb0" stroke="#0a1030" stroke-width="0.85"/>
<rect x="309.62" y="609.13" width="3.15" height="3.15" fill="#2a5cb0" stroke="#0a1030" stroke-width="0.85"/>
<rect x="305.52" y="612.13" width="3.15" height="3.15" fill="#2a5cb0" stroke="#0a1030" stroke-width="0.85"/>
<rect x="308.52" y="612.76" width="3.15" height="3.15" fill="#2a5cb0" stroke="#0a1030" stroke-width="0.85"/>
<rect x="307.12" y="615.39" width="3.15" height="3.15" fill="#2a5cb0" stroke="#0a1030" stroke-width="0.85"/>
<rect x="309.02" y="618.57" width="3.15" height="3.15" fill="#2a5cb0" stroke="#0a1030" stroke-width="0.85"/>
<line x1="322.50" y1="554.71" x2="322.50" y2="597.27" stroke="#1a1a1a" stroke-width="1"/>
<line x1="320.20" y1="554.50" x2="325.80" y2="554.50" stroke="#1a1a1a" stroke-width="1"/>
<line x1="320.20" y1="597.50" x2="325.80" y2="597.50" stroke="#1a1a1a" stroke-width="1"/>
<line x1="318.30" y1="575.50" x2="327.70" y2="575.50" stroke="#1a1a1a" stroke-width="1"/>
<path d="M325.10 547.49L327.15 549.54L325.10 551.59L323.05 549.54Z" fill="#c8002e" stroke="#1a0006" stroke-width="0.95"/>
<path d="M321.00 551.57L323.05 553.62L321.00 555.67L318.95 553.62Z" fill="#c8002e" stroke="#1a0006" stroke-width="0.95"/>
<path d="M323.30 552.66L325.35 554.71L323.30 556.76L321.25 554.71Z" fill="#c8002e" stroke="#1a0006" stroke-width="0.95"/>
<path d="M321.00 558.74L323.05 560.79L321.00 562.84L318.95 560.79Z" fill="#c8002e" stroke="#1a0006" stroke-width="0.95"/>
<path d="M323.30 560.01L325.35 562.06L323.30 564.11L321.25 562.06Z" fill="#c8002e" stroke="#1a0006" stroke-width="0.95"/>
<path d="M325.10 565.01L327.15 567.06L325.10 569.11L323.05 567.06Z" fill="#c8002e" stroke="#1a0006" stroke-width="0.95"/>
<path d="M323.70 574.44L325.75 576.49L323.70 578.54L321.65 576.49Z" fill="#c8002e" stroke="#1a0006" stroke-width="0.95"/>
<path d="M322.10 577.08L324.15 579.12L322.10 581.17L320.05 579.12Z" fill="#c8002e" stroke="#1a0006" stroke-width="0.95"/>
<path d="M323.00 583.43L325.05 585.48L323.00 587.53L320.95 585.48Z" fill="#c8002e" stroke="#1a0006" stroke-width="0.95"/>
<path d="M323.00 590.51L325.05 592.56L323.00 594.61L320.95 592.56Z" fill="#c8002e" stroke="#1a0006" stroke-width="0.95"/>
<path d="M321.00 594.77L323.05 596.82L321.00 598.87L318.95 596.82Z" fill="#c8002e" stroke="#1a0006" stroke-width="0.95"/>
<path d="M323.30 596.86L325.35 598.91L323.30 600.96L321.25 598.91Z" fill="#c8002e" stroke="#1a0006" stroke-width="0.95"/>
<path d="M325.30 598.86L327.35 600.90L325.30 602.95L323.25 600.90Z" fill="#c8002e" stroke="#1a0006" stroke-width="0.95"/>
<line x1="337.50" y1="568.24" x2="337.50" y2="591.83" stroke="#1a1a1a" stroke-width="1"/>
<line x1="334.70" y1="568.50" x2="340.30" y2="568.50" stroke="#1a1a1a" stroke-width="1"/>
<line x1="334.70" y1="591.50" x2="340.30" y2="591.50" stroke="#1a1a1a" stroke-width="1"/>
<line x1="332.80" y1="580.50" x2="342.20" y2="580.50" stroke="#1a1a1a" stroke-width="1"/>
<rect x="335.82" y="551.69" width="3.15" height="3.15" fill="#2a5cb0" stroke="#0a1030" stroke-width="0.85"/>
<rect x="334.03" y="566.66" width="3.15" height="3.15" fill="#2a5cb0" stroke="#0a1030" stroke-width="0.85"/>
<rect x="337.43" y="566.66" width="3.15" height="3.15" fill="#2a5cb0" stroke="#0a1030" stroke-width="0.85"/>
<rect x="335.82" y="569.11" width="3.15" height="3.15" fill="#2a5cb0" stroke="#0a1030" stroke-width="0.85"/>
<rect x="335.82" y="576.91" width="3.15" height="3.15" fill="#2a5cb0" stroke="#0a1030" stroke-width="0.85"/>
<rect x="332.93" y="579.46" width="3.15" height="3.15" fill="#2a5cb0" stroke="#0a1030" stroke-width="0.85"/>
<rect x="335.82" y="579.00" width="3.15" height="3.15" fill="#2a5cb0" stroke="#0a1030" stroke-width="0.85"/>
<rect x="338.53" y="579.64" width="3.15" height="3.15" fill="#2a5cb0" stroke="#0a1030" stroke-width="0.85"/>
<rect x="333.82" y="582.09" width="3.15" height="3.15" fill="#2a5cb0" stroke="#0a1030" stroke-width="0.85"/>
<rect x="335.62" y="581.72" width="3.15" height="3.15" fill="#2a5cb0" stroke="#0a1030" stroke-width="0.85"/>
<rect x="334.93" y="584.81" width="3.15" height="3.15" fill="#2a5cb0" stroke="#0a1030" stroke-width="0.85"/>
<rect x="334.73" y="589.80" width="3.15" height="3.15" fill="#2a5cb0" stroke="#0a1030" stroke-width="0.85"/>
<rect x="336.53" y="594.79" width="3.15" height="3.15" fill="#2a5cb0" stroke="#0a1030" stroke-width="0.85"/>
<rect x="335.62" y="600.33" width="3.15" height="3.15" fill="#2a5cb0" stroke="#0a1030" stroke-width="0.85"/>
<line x1="418.50" y1="531.25" x2="418.50" y2="624.80" stroke="#1a1a1a" stroke-width="1"/>
<line x1="417.90" y1="624.50" x2="509.40" y2="624.50" stroke="#1a1a1a" stroke-width="1"/>
<line x1="415.10" y1="624.50" x2="418.40" y2="624.50" stroke="#1a1a1a" stroke-width="1"/>
<text x="411.60" y="627.70" font-size="9.5" text-anchor="end" font-weight="normal" fill="#222" textLength="4.56" lengthAdjust="spacingAndGlyphs">0</text>
<line x1="415.10" y1="606.50" x2="418.40" y2="606.50" stroke="#1a1a1a" stroke-width="1"/>
<text x="411.60" y="609.59" font-size="9.5" text-anchor="end" font-weight="normal" fill="#222" textLength="9.12" lengthAdjust="spacingAndGlyphs">20</text>
<line x1="415.10" y1="588.50" x2="418.40" y2="588.50" stroke="#1a1a1a" stroke-width="1"/>
<text x="411.60" y="591.48" font-size="9.5" text-anchor="end" font-weight="normal" fill="#222" textLength="9.12" lengthAdjust="spacingAndGlyphs">40</text>
<line x1="415.10" y1="569.50" x2="418.40" y2="569.50" stroke="#1a1a1a" stroke-width="1"/>
<text x="411.60" y="573.37" font-size="9.5" text-anchor="end" font-weight="normal" fill="#222" textLength="9.12" lengthAdjust="spacingAndGlyphs">60</text>
<line x1="415.10" y1="551.50" x2="418.40" y2="551.50" stroke="#1a1a1a" stroke-width="1"/>
<text x="411.60" y="555.26" font-size="9.5" text-anchor="end" font-weight="normal" fill="#222" textLength="9.12" lengthAdjust="spacingAndGlyphs">80</text>
<line x1="415.10" y1="533.50" x2="418.40" y2="533.50" stroke="#1a1a1a" stroke-width="1"/>
<text x="411.60" y="537.15" font-size="9.5" text-anchor="end" font-weight="normal" fill="#222" textLength="13.68" lengthAdjust="spacingAndGlyphs">100</text>
<line x1="428.50" y1="624.30" x2="428.50" y2="627.30" stroke="#1a1a1a" stroke-width="1"/>
<line x1="442.50" y1="624.30" x2="442.50" y2="627.30" stroke="#1a1a1a" stroke-width="1"/>
<line x1="456.50" y1="624.30" x2="456.50" y2="627.30" stroke="#1a1a1a" stroke-width="1"/>
<line x1="471.50" y1="624.30" x2="471.50" y2="627.30" stroke="#1a1a1a" stroke-width="1"/>
<line x1="485.50" y1="624.30" x2="485.50" y2="627.30" stroke="#1a1a1a" stroke-width="1"/>
<line x1="499.50" y1="624.30" x2="499.50" y2="627.30" stroke="#1a1a1a" stroke-width="1"/>
<line x1="449.50" y1="534.40" x2="449.50" y2="624.30" stroke="#555" stroke-width="1"/>
<line x1="478.50" y1="534.40" x2="478.50" y2="624.30" stroke="#555" stroke-width="1"/>
<text x="422.30" y="531.70" font-size="8.4" text-anchor="start" font-weight="normal" fill="#222" textLength="19.90" lengthAdjust="spacingAndGlyphs">IFN-&#947;</text>
<text x="451.30" y="531.70" font-size="8.4" text-anchor="start" font-weight="normal" fill="#222" textLength="24.30" lengthAdjust="spacingAndGlyphs">TNF-&#945;</text>
<text x="479.80" y="531.70" font-size="8.4" text-anchor="start" font-weight="normal" fill="#222" textLength="33.40" lengthAdjust="spacingAndGlyphs">GM-CSF</text>
<text transform="translate(378.70,576.80) rotate(-90)" x="0" y="0" font-size="10.5" text-anchor="middle" fill="#222" textLength="73.30" lengthAdjust="spacingAndGlyphs">% CD4<tspan baseline-shift="42%" font-size="70%">+</tspan> Thy1.2<tspan baseline-shift="42%" font-size="70%">+</tspan> cells</text>
<text transform="translate(391.70,578.20) rotate(-90)" x="0" y="0" font-size="10.5" text-anchor="middle" fill="#222" textLength="69.80" lengthAdjust="spacingAndGlyphs">expressing cytokine</text>
<line x1="486.20" y1="541.50" x2="506.30" y2="541.50" stroke="#1a1a1a" stroke-width="1"/>
<text x="495.90" y="541.90" font-size="9.2" text-anchor="middle" font-weight="normal" fill="#222">****</text>
<line x1="428.50" y1="601.66" x2="428.50" y2="623.85" stroke="#1a1a1a" stroke-width="1"/>
<line x1="425.20" y1="601.50" x2="430.80" y2="601.50" stroke="#1a1a1a" stroke-width="1"/>
<line x1="425.20" y1="623.50" x2="430.80" y2="623.50" stroke="#1a1a1a" stroke-width="1"/>
<line x1="423.30" y1="612.50" x2="432.70" y2="612.50" stroke="#1a1a1a" stroke-width="1"/>
<path d="M428.50 589.11L430.55 591.16L428.50 593.21L426.45 591.16Z" fill="#c8002e" stroke="#1a0006" stroke-width="0.95"/>
<path d="M427.70 593.46L429.75 595.51L427.70 597.56L425.65 595.51Z" fill="#c8002e" stroke="#1a0006" stroke-width="0.95"/>
<path d="M428.70 595.27L430.75 597.32L428.70 599.37L426.65 597.32Z" fill="#c8002e" stroke="#1a0006" stroke-width="0.95"/>
<path d="M427.70 601.06L429.75 603.11L427.70 605.16L425.65 603.11Z" fill="#c8002e" stroke="#1a0006" stroke-width="0.95"/>
<path d="M428.80 615.46L430.85 617.51L428.80 619.56L426.75 617.51Z" fill="#c8002e" stroke="#1a0006" stroke-width="0.95"/>
<path d="M425.90 617.54L427.95 619.59L425.90 621.64L423.85 619.59Z" fill="#c8002e" stroke="#1a0006" stroke-width="0.95"/>
<path d="M429.90 619.35L431.95 621.40L429.90 623.45L427.85 621.40Z" fill="#c8002e" stroke="#1a0006" stroke-width="0.95"/>
<path d="M427.50 618.45L429.55 620.50L427.50 622.55L425.45 620.50Z" fill="#c8002e" stroke="#1a0006" stroke-width="0.95"/>
<line x1="442.50" y1="604.38" x2="442.50" y2="623.39" stroke="#1a1a1a" stroke-width="1"/>
<line x1="440.00" y1="604.50" x2="445.60" y2="604.50" stroke="#1a1a1a" stroke-width="1"/>
<line x1="440.00" y1="623.50" x2="445.60" y2="623.50" stroke="#1a1a1a" stroke-width="1"/>
<line x1="438.10" y1="614.50" x2="447.50" y2="614.50" stroke="#1a1a1a" stroke-width="1"/>
<rect x="440.53" y="594.38" width="3.15" height="3.15" fill="#2a5cb0" stroke="#0a1030" stroke-width="0.85"/>
<rect x="440.93" y="602.53" width="3.15" height="3.15" fill="#2a5cb0" stroke="#0a1030" stroke-width="0.85"/>
<rect x="442.03" y="602.89" width="3.15" height="3.15" fill="#2a5cb0" stroke="#0a1030" stroke-width="0.85"/>
<rect x="440.93" y="607.60" width="3.15" height="3.15" fill="#2a5cb0" stroke="#0a1030" stroke-width="0.85"/>
<rect x="440.23" y="614.39" width="3.15" height="3.15" fill="#2a5cb0" stroke="#0a1030" stroke-width="0.85"/>
<rect x="442.03" y="615.93" width="3.15" height="3.15" fill="#2a5cb0" stroke="#0a1030" stroke-width="0.85"/>
<rect x="438.03" y="617.74" width="3.15" height="3.15" fill="#2a5cb0" stroke="#0a1030" stroke-width="0.85"/>
<rect x="440.23" y="618.47" width="3.15" height="3.15" fill="#2a5cb0" stroke="#0a1030" stroke-width="0.85"/>
<rect x="442.03" y="617.74" width="3.15" height="3.15" fill="#2a5cb0" stroke="#0a1030" stroke-width="0.85"/>
<rect x="443.43" y="621.64" width="3.15" height="3.15" fill="#2a5cb0" stroke="#0a1030" stroke-width="0.85"/>
<line x1="456.50" y1="574.14" x2="456.50" y2="604.38" stroke="#1a1a1a" stroke-width="1"/>
<line x1="453.70" y1="574.50" x2="459.30" y2="574.50" stroke="#1a1a1a" stroke-width="1"/>
<line x1="453.70" y1="604.50" x2="459.30" y2="604.50" stroke="#1a1a1a" stroke-width="1"/>
<line x1="451.80" y1="589.50" x2="461.20" y2="589.50" stroke="#1a1a1a" stroke-width="1"/>
<path d="M456.40 560.86L458.45 562.91L456.40 564.96L454.35 562.91Z" fill="#c8002e" stroke="#1a0006" stroke-width="0.95"/>
<path d="M455.60 567.38L457.65 569.43L455.60 571.48L453.55 569.43Z" fill="#c8002e" stroke="#1a0006" stroke-width="0.95"/>
<path d="M457.60 567.83L459.65 569.88L457.60 571.93L455.55 569.88Z" fill="#c8002e" stroke="#1a0006" stroke-width="0.95"/>
<path d="M456.40 572.09L458.45 574.14L456.40 576.19L454.35 574.14Z" fill="#c8002e" stroke="#1a0006" stroke-width="0.95"/>
<path d="M456.30 587.66L458.35 589.71L456.30 591.76L454.25 589.71Z" fill="#c8002e" stroke="#1a0006" stroke-width="0.95"/>
<path d="M457.20 589.92L459.25 591.97L457.20 594.02L455.15 591.97Z" fill="#c8002e" stroke="#1a0006" stroke-width="0.95"/>
<path d="M458.70 593.91L460.75 595.96L458.70 598.01L456.65 595.96Z" fill="#c8002e" stroke="#1a0006" stroke-width="0.95"/>
<path d="M454.00 597.08L456.05 599.13L454.00 601.18L451.95 599.13Z" fill="#c8002e" stroke="#1a0006" stroke-width="0.95"/>
<path d="M456.50 596.62L458.55 598.67L456.50 600.72L454.45 598.67Z" fill="#c8002e" stroke="#1a0006" stroke-width="0.95"/>
<path d="M455.60 599.34L457.65 601.39L455.60 603.44L453.55 601.39Z" fill="#c8002e" stroke="#1a0006" stroke-width="0.95"/>
<path d="M458.00 599.79L460.05 601.84L458.00 603.89L455.95 601.84Z" fill="#c8002e" stroke="#1a0006" stroke-width="0.95"/>
<path d="M456.40 607.94L458.45 609.99L456.40 612.04L454.35 609.99Z" fill="#c8002e" stroke="#1a0006" stroke-width="0.95"/>
<line x1="471.50" y1="588.53" x2="471.50" y2="600.76" stroke="#1a1a1a" stroke-width="1"/>
<line x1="468.50" y1="588.50" x2="474.10" y2="588.50" stroke="#1a1a1a" stroke-width="1"/>
<line x1="468.50" y1="600.50" x2="474.10" y2="600.50" stroke="#1a1a1a" stroke-width="1"/>
<line x1="466.60" y1="594.50" x2="476.00" y2="594.50" stroke="#1a1a1a" stroke-width="1"/>
<rect x="466.43" y="577.00" width="3.15" height="3.15" fill="#2a5cb0" stroke="#0a1030" stroke-width="0.85"/>
<rect x="469.53" y="579.17" width="3.15" height="3.15" fill="#2a5cb0" stroke="#0a1030" stroke-width="0.85"/>
<rect x="472.03" y="579.17" width="3.15" height="3.15" fill="#2a5cb0" stroke="#0a1030" stroke-width="0.85"/>
<rect x="466.43" y="587.50" width="3.15" height="3.15" fill="#2a5cb0" stroke="#0a1030" stroke-width="0.85"/>
<rect x="469.12" y="588.41" width="3.15" height="3.15" fill="#2a5cb0" stroke="#0a1030" stroke-width="0.85"/>
<rect x="472.03" y="589.40" width="3.15" height="3.15" fill="#2a5cb0" stroke="#0a1030" stroke-width="0.85"/>
<rect x="469.12" y="595.74" width="3.15" height="3.15" fill="#2a5cb0" stroke="#0a1030" stroke-width="0.85"/>
<rect x="466.43" y="601.08" width="3.15" height="3.15" fill="#2a5cb0" stroke="#0a1030" stroke-width="0.85"/>
<rect x="469.53" y="601.08" width="3.15" height="3.15" fill="#2a5cb0" stroke="#0a1030" stroke-width="0.85"/>
<rect x="472.03" y="602.80" width="3.15" height="3.15" fill="#2a5cb0" stroke="#0a1030" stroke-width="0.85"/>
<rect x="467.73" y="606.61" width="3.15" height="3.15" fill="#2a5cb0" stroke="#0a1030" stroke-width="0.85"/>
<rect x="470.43" y="608.51" width="3.15" height="3.15" fill="#2a5cb0" stroke="#0a1030" stroke-width="0.85"/>
<line x1="485.50" y1="553.67" x2="485.50" y2="588.08" stroke="#1a1a1a" stroke-width="1"/>
<line x1="482.30" y1="553.50" x2="487.90" y2="553.50" stroke="#1a1a1a" stroke-width="1"/>
<line x1="482.30" y1="588.50" x2="487.90" y2="588.50" stroke="#1a1a1a" stroke-width="1"/>
<line x1="480.40" y1="570.50" x2="489.80" y2="570.50" stroke="#1a1a1a" stroke-width="1"/>
<path d="M486.10 545.74L488.15 547.79L486.10 549.84L484.05 547.79Z" fill="#c8002e" stroke="#1a0006" stroke-width="0.95"/>
<path d="M484.00 550.53L486.05 552.58L484.00 554.63L481.95 552.58Z" fill="#c8002e" stroke="#1a0006" stroke-width="0.95"/>
<path d="M487.30 553.43L489.35 555.48L487.30 557.53L485.25 555.48Z" fill="#c8002e" stroke="#1a0006" stroke-width="0.95"/>
<path d="M483.30 558.14L485.35 560.19L483.30 562.24L481.25 560.19Z" fill="#c8002e" stroke="#1a0006" stroke-width="0.95"/>
<path d="M485.40 559.95L487.45 562.00L485.40 564.05L483.35 562.00Z" fill="#c8002e" stroke="#1a0006" stroke-width="0.95"/>
<path d="M485.10 562.31L487.15 564.36L485.10 566.41L483.05 564.36Z" fill="#c8002e" stroke="#1a0006" stroke-width="0.95"/>
<path d="M483.10 567.47L485.15 569.52L483.10 571.57L481.05 569.52Z" fill="#c8002e" stroke="#1a0006" stroke-width="0.95"/>
<path d="M487.30 566.92L489.35 568.97L487.30 571.02L485.25 568.97Z" fill="#c8002e" stroke="#1a0006" stroke-width="0.95"/>
<path d="M485.20 576.52L487.25 578.57L485.20 580.62L483.15 578.57Z" fill="#c8002e" stroke="#1a0006" stroke-width="0.95"/>
<path d="M483.60 588.84L485.65 590.89L483.60 592.94L481.55 590.89Z" fill="#c8002e" stroke="#1a0006" stroke-width="0.95"/>
<path d="M484.80 591.92L486.85 593.97L484.80 596.02L482.75 593.97Z" fill="#c8002e" stroke="#1a0006" stroke-width="0.95"/>
<path d="M486.30 594.54L488.35 596.59L486.30 598.64L484.25 596.59Z" fill="#c8002e" stroke="#1a0006" stroke-width="0.95"/>
<line x1="499.50" y1="622.04" x2="499.50" y2="623.85" stroke="#1a1a1a" stroke-width="1"/>
<line x1="497.10" y1="622.50" x2="502.70" y2="622.50" stroke="#1a1a1a" stroke-width="1"/>
<line x1="497.10" y1="623.50" x2="502.70" y2="623.50" stroke="#1a1a1a" stroke-width="1"/>
<line x1="495.20" y1="622.50" x2="504.60" y2="622.50" stroke="#1a1a1a" stroke-width="1"/>
<rect x="498.32" y="616.84" width="3.15" height="3.15" fill="#2a5cb0" stroke="#0a1030" stroke-width="0.85"/>
<rect x="497.32" y="619.56" width="3.15" height="3.15" fill="#2a5cb0" stroke="#0a1030" stroke-width="0.85"/>
<rect x="500.52" y="620.91" width="3.15" height="3.15" fill="#2a5cb0" stroke="#0a1030" stroke-width="0.85"/>
<rect x="495.32" y="621.82" width="3.15" height="3.15" fill="#2a5cb0" stroke="#0a1030" stroke-width="0.85"/>
<rect x="498.32" y="622.27" width="3.15" height="3.15" fill="#2a5cb0" stroke="#0a1030" stroke-width="0.85"/>
<rect x="496.82" y="621.37" width="3.15" height="3.15" fill="#2a5cb0" stroke="#0a1030" stroke-width="0.85"/>
<rect x="501.12" y="621.82" width="3.15" height="3.15" fill="#2a5cb0" stroke="#0a1030" stroke-width="0.85"/>
<line x1="42.50" y1="639.50" x2="509.40" y2="639.50" stroke="#222" stroke-width="1"/>
<path d="M214.70 653.70L216.90 655.90L214.70 658.10L212.50 655.90Z" fill="#c8002e" stroke="#1a0006" stroke-width="0.95"/>
<text x="220.70" y="658.40" font-size="8" text-anchor="start" font-weight="normal" fill="#222" textLength="25.90" lengthAdjust="spacingAndGlyphs">WT:WT</text>
<rect x="257.00" y="654.10" width="3.60" height="3.60" fill="#2a5cb0" stroke="#0a1030" stroke-width="0.7"/>
<text x="263.90" y="658.40" font-size="8" text-anchor="start" font-weight="normal" fill="#222" textLength="49.10" lengthAdjust="spacingAndGlyphs">WT:GM-CSF<tspan baseline-shift="42%" font-size="70%">-/-</tspan></text>
</svg></body></html>
